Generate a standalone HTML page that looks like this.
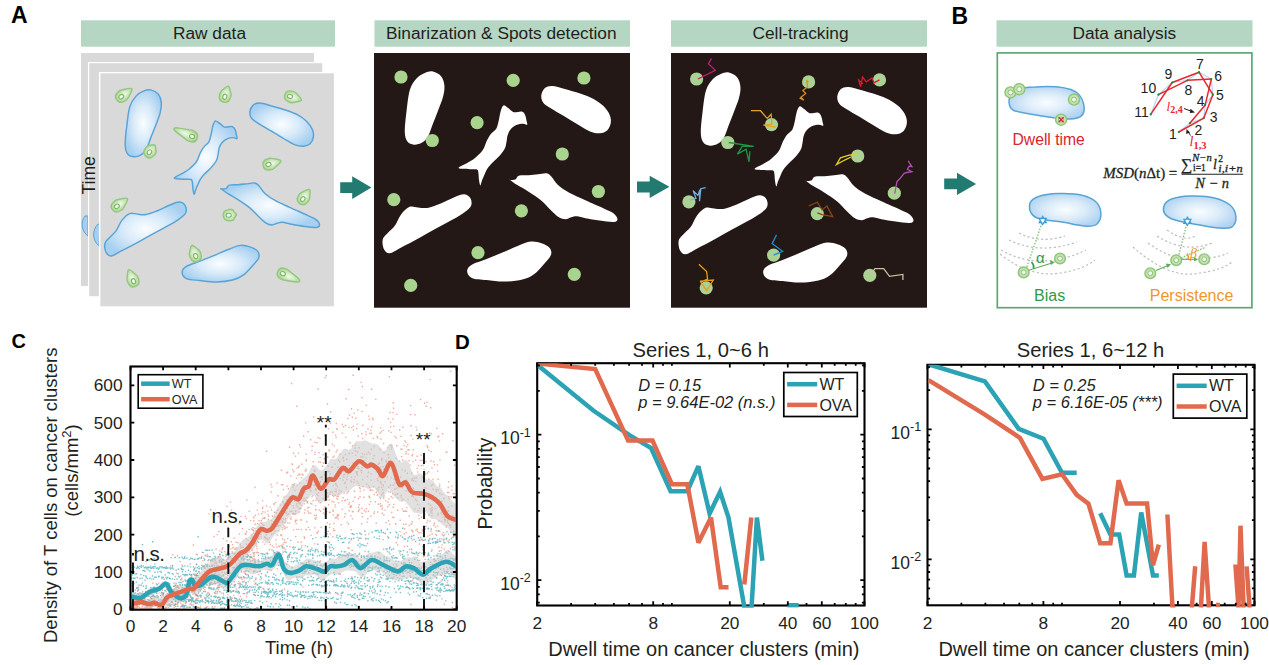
<!DOCTYPE html>
<html><head><meta charset="utf-8"><style>
html,body{margin:0;padding:0;background:#fff;width:1269px;height:665px;overflow:hidden}
svg{display:block}
</style></head><body>
<svg width="1269" height="665" viewBox="0 0 1269 665" font-family="'Liberation Sans', sans-serif">
<rect width="1269" height="665" fill="#fff"/>
<text x="11" y="22.5" font-size="23" font-weight="bold" fill="#000">A</text>
<text x="951.5" y="23.5" font-size="23" font-weight="bold" fill="#000">B</text>
<rect x="81" y="20.3" width="254" height="26.4" fill="#b4d6c2"/>
<text x="209.5" y="38.6" font-size="17.3" text-anchor="middle" fill="#231f20">Raw data</text>
<rect x="374.5" y="20.3" width="255.5" height="26.4" fill="#b4d6c2"/>
<text x="501.25" y="38.6" font-size="17.3" text-anchor="middle" fill="#231f20">Binarization &amp; Spots detection</text>
<rect x="671" y="20.3" width="256" height="26.4" fill="#b4d6c2"/>
<text x="800.5" y="38.6" font-size="17.3" text-anchor="middle" fill="#231f20">Cell-tracking</text>
<rect x="996.5" y="20.3" width="256.0" height="26.4" fill="#b4d6c2"/>
<text x="1124.3" y="38.6" font-size="17.3" text-anchor="middle" fill="#231f20">Data analysis</text>
<rect x="81" y="53" width="233" height="233" fill="#d9d9d9"/>
<path d="M85,216 C80,222 82,232 88,236 L88,216 Z" fill="#a9cdef" stroke="#5aa5d6" stroke-width="1"/>
<rect x="88" y="62" width="234.5" height="234.5" fill="#fff"/>
<rect x="89.2" y="63.2" width="233" height="233" fill="#d9d9d9"/>
<path d="M98,224 C92,230 92,240 99,246 L100,224 Z" fill="#a9cdef" stroke="#5aa5d6" stroke-width="1"/>
<rect x="98.9" y="72" width="235.5" height="235" fill="#fff"/>
<rect x="100.4" y="73.3" width="233.5" height="233" fill="#d9d9d9"/>
<defs><radialGradient id="cg" cx="50%" cy="50%" r="55%"><stop offset="0" stop-color="#fafdff"/><stop offset="0.5" stop-color="#d8eaf9"/><stop offset="1" stop-color="#a6cff0"/></radialGradient><radialGradient id="tg" cx="50%" cy="50%" r="55%"><stop offset="0" stop-color="#f2f9ec"/><stop offset="1" stop-color="#a9d58f"/></radialGradient><clipPath id="f3clip"><rect x="100.4" y="73.3" width="233.5" height="233"/></clipPath></defs>
<g clip-path="url(#f3clip)"><g transform="translate(97,73) scale(0.914)">
<path d="M58.9,18.5 C61.6,19.1 65.2,20.9 67.1,23.3 C69.0,25.7 70.1,29.3 70.4,32.7 C70.7,36.1 70.1,39.5 69.1,43.6 C68.1,47.7 66.0,52.6 64.3,57.1 C62.6,61.6 60.6,66.4 58.9,70.7 C57.2,75.0 56.0,79.8 54.2,82.9 C52.4,86.1 50.5,88.1 48.1,89.6 C45.7,91.1 42.5,91.9 40.0,91.7 C37.5,91.5 34.7,90.5 33.2,88.3 C31.7,86.1 30.9,83.8 30.8,78.8 C30.7,73.8 31.6,65.5 32.5,58.5 C33.4,51.5 34.2,42.3 35.9,36.8 C37.6,31.3 40.2,28.1 42.7,25.3 C45.2,22.5 48.1,21.0 50.8,19.9 C53.5,18.8 56.2,17.9 58.9,18.5 Z" fill="url(#cg)" stroke="#58a4d6" stroke-width="1.6"/>
<path d="M167.3,42.3 C167.6,39.9 169.1,36.7 170.9,35.1 C172.7,33.5 174.8,32.8 178.1,32.9 C181.4,33.0 186.1,34.7 190.8,36.0 C195.5,37.3 201.3,38.9 206.1,40.5 C210.9,42.1 215.7,43.8 219.6,45.9 C223.5,48.0 226.8,50.4 229.5,53.1 C232.2,55.8 234.6,59.3 235.8,62.2 C237.0,65.1 237.1,67.8 236.7,70.3 C236.2,72.8 234.9,75.8 233.1,77.5 C231.3,79.2 228.8,80.0 225.9,80.2 C223.1,80.4 219.8,79.9 216.0,78.4 C212.2,76.9 207.8,73.8 203.4,71.2 C199.1,68.7 194.4,65.8 189.9,63.1 C185.4,60.4 179.8,57.3 176.3,55.0 C172.8,52.7 170.6,51.6 169.1,49.5 C167.6,47.4 167.0,44.7 167.3,42.3 Z" fill="url(#cg)" stroke="#58a4d6" stroke-width="1.6"/>
<path d="M129.5,52.4 C130.7,52.0 132.5,54.0 134.2,55.1 C135.9,56.2 137.3,58.6 139.6,59.2 C141.8,59.8 145.8,58.0 147.7,58.5 C149.6,59.0 150.3,60.3 151.1,61.9 C151.9,63.5 152.3,66.3 152.6,68.0 C152.9,69.7 153.7,71.3 153.1,71.8 C152.5,72.2 150.9,70.7 149.1,70.7 C147.3,70.7 144.3,71.1 142.3,72.0 C140.3,72.9 138.4,74.4 136.9,76.1 C135.4,77.8 134.3,80.0 133.6,82.2 C132.9,84.4 133.0,86.8 132.5,89.0 C132.0,91.2 132.0,93.2 130.7,95.7 C129.4,98.2 126.8,101.3 124.6,103.8 C122.4,106.3 119.5,108.6 117.6,110.6 C115.7,112.6 114.5,114.0 113.2,116.0 C111.9,118.0 111.0,120.6 110.0,122.8 C109.0,125.0 108.1,127.4 107.5,129.0 C106.9,130.6 106.7,132.8 106.3,132.5 C105.9,132.2 105.3,129.1 105.0,127.0 C104.7,124.9 104.7,121.8 104.4,120.0 C104.1,118.2 104.3,117.1 103.0,116.5 C101.7,115.9 98.8,116.3 96.3,116.2 C93.8,116.1 90.0,116.0 88.0,115.8 C86.0,115.6 84.5,115.5 84.5,115.0 C84.5,114.5 86.4,113.5 88.0,112.6 C89.6,111.7 91.8,110.8 94.0,109.5 C96.2,108.2 98.5,107.1 101.0,105.0 C103.5,102.9 106.8,100.0 108.8,97.1 C110.8,94.2 111.5,90.3 112.9,87.6 C114.3,84.9 115.4,82.8 117.0,80.8 C118.6,78.8 121.1,77.7 122.4,75.4 C123.7,73.2 124.1,70.2 124.8,67.3 C125.5,64.4 126.0,60.3 126.8,57.8 C127.6,55.3 128.3,52.8 129.5,52.4 Z" fill="url(#cg)" stroke="#58a4d6" stroke-width="1.6"/>
<path d="M136.2,126.9 C135.0,126.0 135.3,127.0 136.2,126.9 C137.1,126.8 140.0,127.2 141.4,126.5 C142.8,125.8 142.5,123.4 144.7,122.7 C146.9,122.0 151.4,122.4 154.6,122.2 C157.8,122.0 161.1,121.6 164.1,121.3 C167.1,121.0 170.4,119.9 172.6,120.3 C174.8,120.7 175.4,121.6 177.3,123.6 C179.2,125.6 181.0,129.4 184.0,132.1 C187.0,134.8 190.7,137.2 195.3,139.7 C199.9,142.2 205.6,144.6 211.4,147.3 C217.2,150.0 225.6,153.6 230.3,155.8 C235.0,158.0 237.5,158.8 239.7,160.5 C241.9,162.2 243.5,164.8 243.5,166.2 C243.5,167.6 242.7,168.8 239.7,169.0 C236.7,169.2 230.3,168.2 225.6,167.6 C220.9,167.0 215.2,165.9 211.4,165.2 C207.6,164.5 205.3,163.5 202.9,163.3 C200.5,163.2 199.1,163.8 197.2,164.3 C195.3,164.8 193.6,166.2 191.5,166.2 C189.4,166.2 187.4,165.9 184.9,164.3 C182.4,162.7 179.4,159.5 176.4,156.7 C173.4,153.9 170.5,150.3 166.9,147.3 C163.3,144.3 158.5,141.2 154.6,138.7 C150.7,136.2 146.4,134.1 143.3,132.1 C140.2,130.1 137.4,127.8 136.2,126.9 Z" fill="url(#cg)" stroke="#58a4d6" stroke-width="1.6"/>
<path d="M8.7,186.5 C9.3,183.9 11.5,182.5 13.5,180.2 C15.5,177.9 18.5,176.0 20.8,172.8 C23.1,169.6 24.7,164.4 27.2,161.2 C29.7,158.0 32.8,154.9 35.6,153.8 C38.4,152.7 41.0,154.2 44.0,154.4 C47.0,154.6 49.8,155.5 53.5,154.9 C57.2,154.3 61.7,152.4 66.1,150.7 C70.5,148.9 75.8,146.0 79.8,144.4 C83.8,142.8 87.5,141.0 90.3,141.2 C93.1,141.4 95.5,143.3 96.6,145.4 C97.6,147.5 98.3,151.0 96.6,153.8 C94.8,156.6 91.0,159.1 86.1,162.3 C81.2,165.5 73.9,169.1 67.2,172.8 C60.5,176.5 52.8,180.8 46.1,184.4 C39.4,188.0 32.3,191.8 27.2,194.4 C22.1,197.0 18.5,199.9 15.6,200.2 C12.7,200.4 11.0,198.2 9.8,195.9 C8.7,193.6 8.1,189.1 8.7,186.5 Z" fill="url(#cg)" stroke="#58a4d6" stroke-width="1.6"/>
<path d="M93.1,218.1 C93.1,215.9 94.5,213.7 97.8,211.7 C101.0,209.7 107.5,207.9 112.6,205.9 C117.7,203.9 123.1,201.8 128.4,199.6 C133.7,197.4 139.5,194.6 144.2,192.8 C148.9,191.0 153.0,189.0 156.8,188.6 C160.7,188.2 164.2,189.1 167.3,190.2 C170.5,191.2 174.1,192.9 175.7,194.9 C177.3,196.9 177.9,199.5 176.8,202.3 C175.8,205.1 172.2,208.5 169.4,211.7 C166.6,214.8 163.5,218.7 160.0,221.2 C156.5,223.7 153.3,225.3 148.4,226.5 C143.5,227.7 136.5,228.5 130.5,228.6 C124.5,228.7 118.0,227.6 112.6,227.0 C107.1,226.4 101.0,226.4 97.8,224.9 C94.5,223.4 93.1,220.3 93.1,218.1 Z" fill="url(#cg)" stroke="#58a4d6" stroke-width="1.6"/>
</g>
<g transform="translate(121.5,96.5) rotate(-36.8)"><path d="M12.9,0 C12.9,1.6 9.9,2.4 4.5,5 C3,5.8 1,5.8 0,5.6 C-3.6,5.4 -5.8,3.2 -5.8,0 C-5.8,-3.2 -3.6,-5.4 0,-5.6 C1,-5.8 3,-5.8 4.5,-5 C9.9,-2.4 12.9,-1.6 12.9,0 Z" fill="url(#tg)" stroke="#93c77f" stroke-width="1.4"/><ellipse cx="-0.3" cy="0" rx="2.6" ry="2" fill="#f2f9ee" stroke="#7cb568" stroke-width="1.1"/></g>
<g transform="translate(224.9,96.5) rotate(-71.6)"><path d="M10.9,0 C10.9,1.6 7.9,2.4 4.5,5 C3,5.8 1,5.8 0,5.6 C-3.6,5.4 -5.8,3.2 -5.8,0 C-5.8,-3.2 -3.6,-5.4 0,-5.6 C1,-5.8 3,-5.8 4.5,-5 C7.9,-2.4 10.9,-1.6 10.9,0 Z" fill="url(#tg)" stroke="#93c77f" stroke-width="1.4"/><ellipse cx="-0.3" cy="0" rx="2.6" ry="2" fill="#f2f9ee" stroke="#7cb568" stroke-width="1.1"/></g>
<g transform="translate(290.3,96.5) rotate(17.6)"><path d="M11.7,0 C11.7,1.6 8.7,2.4 4.5,5 C3,5.8 1,5.8 0,5.6 C-3.6,5.4 -5.8,3.2 -5.8,0 C-5.8,-3.2 -3.6,-5.4 0,-5.6 C1,-5.8 3,-5.8 4.5,-5 C8.7,-2.4 11.7,-1.6 11.7,0 Z" fill="url(#tg)" stroke="#93c77f" stroke-width="1.4"/><ellipse cx="-0.3" cy="0" rx="2.6" ry="2" fill="#f2f9ee" stroke="#7cb568" stroke-width="1.1"/></g>
<g transform="translate(191.8,136.3) rotate(-156.6)"><path d="M19.4,0 C19.4,1.6 16.4,2.4 4.5,5 C3,5.8 1,5.8 0,5.6 C-3.6,5.4 -5.8,3.2 -5.8,0 C-5.8,-3.2 -3.6,-5.4 0,-5.6 C1,-5.8 3,-5.8 4.5,-5 C16.4,-2.4 19.4,-1.6 19.4,0 Z" fill="url(#tg)" stroke="#93c77f" stroke-width="1.4"/><ellipse cx="-0.3" cy="0" rx="2.6" ry="2" fill="#f2f9ee" stroke="#7cb568" stroke-width="1.1"/></g>
<g transform="translate(149.6,152) rotate(-52.9)"><path d="M8.8,0 C8.8,1.6 5.8,2.4 4.5,5 C3,5.8 1,5.8 0,5.6 C-3.6,5.4 -5.8,3.2 -5.8,0 C-5.8,-3.2 -3.6,-5.4 0,-5.6 C1,-5.8 3,-5.8 4.5,-5 C5.8,-2.4 8.8,-1.6 8.8,0 Z" fill="url(#tg)" stroke="#93c77f" stroke-width="1.4"/><ellipse cx="-0.3" cy="0" rx="2.6" ry="2" fill="#f2f9ee" stroke="#7cb568" stroke-width="1.1"/></g>
<g transform="translate(268.8,164.4) rotate(-15.9)"><path d="M12.6,0 C12.6,1.6 9.6,2.4 4.5,5 C3,5.8 1,5.8 0,5.6 C-3.6,5.4 -5.8,3.2 -5.8,0 C-5.8,-3.2 -3.6,-5.4 0,-5.6 C1,-5.8 3,-5.8 4.5,-5 C9.6,-2.4 12.6,-1.6 12.6,0 Z" fill="url(#tg)" stroke="#93c77f" stroke-width="1.4"/><ellipse cx="-0.3" cy="0" rx="2.6" ry="2" fill="#f2f9ee" stroke="#7cb568" stroke-width="1.1"/></g>
<g transform="translate(117.1,206.2) rotate(-36.1)"><path d="M12.9,0 C12.9,1.6 9.9,2.4 4.5,5 C3,5.8 1,5.8 0,5.6 C-3.6,5.4 -5.8,3.2 -5.8,0 C-5.8,-3.2 -3.6,-5.4 0,-5.6 C1,-5.8 3,-5.8 4.5,-5 C9.9,-2.4 12.9,-1.6 12.9,0 Z" fill="url(#tg)" stroke="#93c77f" stroke-width="1.4"/><ellipse cx="-0.3" cy="0" rx="2.6" ry="2" fill="#f2f9ee" stroke="#7cb568" stroke-width="1.1"/></g>
<g transform="translate(303,198.9) rotate(-55.0)"><path d="M11.5,0 C11.5,1.6 8.5,2.4 4.5,5 C3,5.8 1,5.8 0,5.6 C-3.6,5.4 -5.8,3.2 -5.8,0 C-5.8,-3.2 -3.6,-5.4 0,-5.6 C1,-5.8 3,-5.8 4.5,-5 C8.5,-2.4 11.5,-1.6 11.5,0 Z" fill="url(#tg)" stroke="#93c77f" stroke-width="1.4"/><ellipse cx="-0.3" cy="0" rx="2.6" ry="2" fill="#f2f9ee" stroke="#7cb568" stroke-width="1.1"/></g>
<g transform="translate(229,215.2) rotate(-5.7)"><path d="M7.5,0 C7.5,1.6 4.5,2.4 4.5,5 C3,5.8 1,5.8 0,5.6 C-3.6,5.4 -5.8,3.2 -5.8,0 C-5.8,-3.2 -3.6,-5.4 0,-5.6 C1,-5.8 3,-5.8 4.5,-5 C4.5,-2.4 7.5,-1.6 7.5,0 Z" fill="url(#tg)" stroke="#93c77f" stroke-width="1.4"/><ellipse cx="-0.3" cy="0" rx="2.6" ry="2" fill="#f2f9ee" stroke="#7cb568" stroke-width="1.1"/></g>
<g transform="translate(195.6,255.8) rotate(-109.8)"><path d="M11.1,0 C11.1,1.6 8.1,2.4 4.5,5 C3,5.8 1,5.8 0,5.6 C-3.6,5.4 -5.8,3.2 -5.8,0 C-5.8,-3.2 -3.6,-5.4 0,-5.6 C1,-5.8 3,-5.8 4.5,-5 C8.1,-2.4 11.1,-1.6 11.1,0 Z" fill="url(#tg)" stroke="#93c77f" stroke-width="1.4"/><ellipse cx="-0.3" cy="0" rx="2.6" ry="2" fill="#f2f9ee" stroke="#7cb568" stroke-width="1.1"/></g>
<g transform="translate(133.4,281) rotate(-112.6)"><path d="M12.2,0 C12.2,1.6 9.2,2.4 4.5,5 C3,5.8 1,5.8 0,5.6 C-3.6,5.4 -5.8,3.2 -5.8,0 C-5.8,-3.2 -3.6,-5.4 0,-5.6 C1,-5.8 3,-5.8 4.5,-5 C9.2,-2.4 12.2,-1.6 12.2,0 Z" fill="url(#tg)" stroke="#93c77f" stroke-width="1.4"/><ellipse cx="-0.3" cy="0" rx="2.6" ry="2" fill="#f2f9ee" stroke="#7cb568" stroke-width="1.1"/></g>
<g transform="translate(283.1,273.8) rotate(24.0)"><path d="M18.2,0 C18.2,1.6 15.2,2.4 4.5,5 C3,5.8 1,5.8 0,5.6 C-3.6,5.4 -5.8,3.2 -5.8,0 C-5.8,-3.2 -3.6,-5.4 0,-5.6 C1,-5.8 3,-5.8 4.5,-5 C15.2,-2.4 18.2,-1.6 18.2,0 Z" fill="url(#tg)" stroke="#93c77f" stroke-width="1.4"/><ellipse cx="-0.3" cy="0" rx="2.6" ry="2" fill="#f2f9ee" stroke="#7cb568" stroke-width="1.1"/></g>
</g>
<text transform="translate(94.6,194.5) rotate(-90)" font-size="17.5" fill="#231f20">Time</text>
<rect x="374" y="53" width="256" height="254.7" fill="#231816"/>
<g transform="translate(374,53)">
<path d="M58.9,18.5 C61.6,19.1 65.2,20.9 67.1,23.3 C69.0,25.7 70.1,29.3 70.4,32.7 C70.7,36.1 70.1,39.5 69.1,43.6 C68.1,47.7 66.0,52.6 64.3,57.1 C62.6,61.6 60.6,66.4 58.9,70.7 C57.2,75.0 56.0,79.8 54.2,82.9 C52.4,86.1 50.5,88.1 48.1,89.6 C45.7,91.1 42.5,91.9 40.0,91.7 C37.5,91.5 34.7,90.5 33.2,88.3 C31.7,86.1 30.9,83.8 30.8,78.8 C30.7,73.8 31.6,65.5 32.5,58.5 C33.4,51.5 34.2,42.3 35.9,36.8 C37.6,31.3 40.2,28.1 42.7,25.3 C45.2,22.5 48.1,21.0 50.8,19.9 C53.5,18.8 56.2,17.9 58.9,18.5 Z" fill="#fff"/>
<path d="M167.3,42.3 C167.6,39.9 169.1,36.7 170.9,35.1 C172.7,33.5 174.8,32.8 178.1,32.9 C181.4,33.0 186.1,34.7 190.8,36.0 C195.5,37.3 201.3,38.9 206.1,40.5 C210.9,42.1 215.7,43.8 219.6,45.9 C223.5,48.0 226.8,50.4 229.5,53.1 C232.2,55.8 234.6,59.3 235.8,62.2 C237.0,65.1 237.1,67.8 236.7,70.3 C236.2,72.8 234.9,75.8 233.1,77.5 C231.3,79.2 228.8,80.0 225.9,80.2 C223.1,80.4 219.8,79.9 216.0,78.4 C212.2,76.9 207.8,73.8 203.4,71.2 C199.1,68.7 194.4,65.8 189.9,63.1 C185.4,60.4 179.8,57.3 176.3,55.0 C172.8,52.7 170.6,51.6 169.1,49.5 C167.6,47.4 167.0,44.7 167.3,42.3 Z" fill="#fff"/>
<path d="M129.5,52.4 C130.7,52.0 132.5,54.0 134.2,55.1 C135.9,56.2 137.3,58.6 139.6,59.2 C141.8,59.8 145.8,58.0 147.7,58.5 C149.6,59.0 150.3,60.3 151.1,61.9 C151.9,63.5 152.3,66.3 152.6,68.0 C152.9,69.7 153.7,71.3 153.1,71.8 C152.5,72.2 150.9,70.7 149.1,70.7 C147.3,70.7 144.3,71.1 142.3,72.0 C140.3,72.9 138.4,74.4 136.9,76.1 C135.4,77.8 134.3,80.0 133.6,82.2 C132.9,84.4 133.0,86.8 132.5,89.0 C132.0,91.2 132.0,93.2 130.7,95.7 C129.4,98.2 126.8,101.3 124.6,103.8 C122.4,106.3 119.5,108.6 117.6,110.6 C115.7,112.6 114.5,114.0 113.2,116.0 C111.9,118.0 111.0,120.6 110.0,122.8 C109.0,125.0 108.1,127.4 107.5,129.0 C106.9,130.6 106.7,132.8 106.3,132.5 C105.9,132.2 105.3,129.1 105.0,127.0 C104.7,124.9 104.7,121.8 104.4,120.0 C104.1,118.2 104.3,117.1 103.0,116.5 C101.7,115.9 98.8,116.3 96.3,116.2 C93.8,116.1 90.0,116.0 88.0,115.8 C86.0,115.6 84.5,115.5 84.5,115.0 C84.5,114.5 86.4,113.5 88.0,112.6 C89.6,111.7 91.8,110.8 94.0,109.5 C96.2,108.2 98.5,107.1 101.0,105.0 C103.5,102.9 106.8,100.0 108.8,97.1 C110.8,94.2 111.5,90.3 112.9,87.6 C114.3,84.9 115.4,82.8 117.0,80.8 C118.6,78.8 121.1,77.7 122.4,75.4 C123.7,73.2 124.1,70.2 124.8,67.3 C125.5,64.4 126.0,60.3 126.8,57.8 C127.6,55.3 128.3,52.8 129.5,52.4 Z" fill="#fff"/>
<path d="M136.2,126.9 C135.0,126.0 135.3,127.0 136.2,126.9 C137.1,126.8 140.0,127.2 141.4,126.5 C142.8,125.8 142.5,123.4 144.7,122.7 C146.9,122.0 151.4,122.4 154.6,122.2 C157.8,122.0 161.1,121.6 164.1,121.3 C167.1,121.0 170.4,119.9 172.6,120.3 C174.8,120.7 175.4,121.6 177.3,123.6 C179.2,125.6 181.0,129.4 184.0,132.1 C187.0,134.8 190.7,137.2 195.3,139.7 C199.9,142.2 205.6,144.6 211.4,147.3 C217.2,150.0 225.6,153.6 230.3,155.8 C235.0,158.0 237.5,158.8 239.7,160.5 C241.9,162.2 243.5,164.8 243.5,166.2 C243.5,167.6 242.7,168.8 239.7,169.0 C236.7,169.2 230.3,168.2 225.6,167.6 C220.9,167.0 215.2,165.9 211.4,165.2 C207.6,164.5 205.3,163.5 202.9,163.3 C200.5,163.2 199.1,163.8 197.2,164.3 C195.3,164.8 193.6,166.2 191.5,166.2 C189.4,166.2 187.4,165.9 184.9,164.3 C182.4,162.7 179.4,159.5 176.4,156.7 C173.4,153.9 170.5,150.3 166.9,147.3 C163.3,144.3 158.5,141.2 154.6,138.7 C150.7,136.2 146.4,134.1 143.3,132.1 C140.2,130.1 137.4,127.8 136.2,126.9 Z" fill="#fff"/>
<path d="M8.7,186.5 C9.3,183.9 11.5,182.5 13.5,180.2 C15.5,177.9 18.5,176.0 20.8,172.8 C23.1,169.6 24.7,164.4 27.2,161.2 C29.7,158.0 32.8,154.9 35.6,153.8 C38.4,152.7 41.0,154.2 44.0,154.4 C47.0,154.6 49.8,155.5 53.5,154.9 C57.2,154.3 61.7,152.4 66.1,150.7 C70.5,148.9 75.8,146.0 79.8,144.4 C83.8,142.8 87.5,141.0 90.3,141.2 C93.1,141.4 95.5,143.3 96.6,145.4 C97.6,147.5 98.3,151.0 96.6,153.8 C94.8,156.6 91.0,159.1 86.1,162.3 C81.2,165.5 73.9,169.1 67.2,172.8 C60.5,176.5 52.8,180.8 46.1,184.4 C39.4,188.0 32.3,191.8 27.2,194.4 C22.1,197.0 18.5,199.9 15.6,200.2 C12.7,200.4 11.0,198.2 9.8,195.9 C8.7,193.6 8.1,189.1 8.7,186.5 Z" fill="#fff"/>
<path d="M93.1,218.1 C93.1,215.9 94.5,213.7 97.8,211.7 C101.0,209.7 107.5,207.9 112.6,205.9 C117.7,203.9 123.1,201.8 128.4,199.6 C133.7,197.4 139.5,194.6 144.2,192.8 C148.9,191.0 153.0,189.0 156.8,188.6 C160.7,188.2 164.2,189.1 167.3,190.2 C170.5,191.2 174.1,192.9 175.7,194.9 C177.3,196.9 177.9,199.5 176.8,202.3 C175.8,205.1 172.2,208.5 169.4,211.7 C166.6,214.8 163.5,218.7 160.0,221.2 C156.5,223.7 153.3,225.3 148.4,226.5 C143.5,227.7 136.5,228.5 130.5,228.6 C124.5,228.7 118.0,227.6 112.6,227.0 C107.1,226.4 101.0,226.4 97.8,224.9 C94.5,223.4 93.1,220.3 93.1,218.1 Z" fill="#fff"/>
</g>
<g transform="translate(374,53)">
<circle cx="27" cy="24" r="6.6" fill="#a8d48e"/>
<circle cx="139.2" cy="27.4" r="6.6" fill="#a8d48e"/>
<circle cx="209.9" cy="25" r="6.6" fill="#a8d48e"/>
<circle cx="103.1" cy="69.7" r="6.6" fill="#a8d48e"/>
<circle cx="58.3" cy="87.5" r="6.6" fill="#a8d48e"/>
<circle cx="188.3" cy="101" r="6.6" fill="#a8d48e"/>
<circle cx="19.8" cy="146.7" r="6.6" fill="#a8d48e"/>
<circle cx="224.4" cy="138.5" r="6.6" fill="#a8d48e"/>
<circle cx="147.4" cy="157.8" r="6.6" fill="#a8d48e"/>
<circle cx="104" cy="199.6" r="6.6" fill="#a8d48e"/>
<circle cx="36.7" cy="232.4" r="6.6" fill="#a8d48e"/>
<circle cx="200.3" cy="221.3" r="6.6" fill="#a8d48e"/>
</g>
<rect x="671" y="53" width="256" height="254.7" fill="#231816"/>
<g transform="translate(670,54)">
<path d="M58.9,18.5 C61.6,19.1 65.2,20.9 67.1,23.3 C69.0,25.7 70.1,29.3 70.4,32.7 C70.7,36.1 70.1,39.5 69.1,43.6 C68.1,47.7 66.0,52.6 64.3,57.1 C62.6,61.6 60.6,66.4 58.9,70.7 C57.2,75.0 56.0,79.8 54.2,82.9 C52.4,86.1 50.5,88.1 48.1,89.6 C45.7,91.1 42.5,91.9 40.0,91.7 C37.5,91.5 34.7,90.5 33.2,88.3 C31.7,86.1 30.9,83.8 30.8,78.8 C30.7,73.8 31.6,65.5 32.5,58.5 C33.4,51.5 34.2,42.3 35.9,36.8 C37.6,31.3 40.2,28.1 42.7,25.3 C45.2,22.5 48.1,21.0 50.8,19.9 C53.5,18.8 56.2,17.9 58.9,18.5 Z" fill="#fff"/>
<path d="M167.3,42.3 C167.6,39.9 169.1,36.7 170.9,35.1 C172.7,33.5 174.8,32.8 178.1,32.9 C181.4,33.0 186.1,34.7 190.8,36.0 C195.5,37.3 201.3,38.9 206.1,40.5 C210.9,42.1 215.7,43.8 219.6,45.9 C223.5,48.0 226.8,50.4 229.5,53.1 C232.2,55.8 234.6,59.3 235.8,62.2 C237.0,65.1 237.1,67.8 236.7,70.3 C236.2,72.8 234.9,75.8 233.1,77.5 C231.3,79.2 228.8,80.0 225.9,80.2 C223.1,80.4 219.8,79.9 216.0,78.4 C212.2,76.9 207.8,73.8 203.4,71.2 C199.1,68.7 194.4,65.8 189.9,63.1 C185.4,60.4 179.8,57.3 176.3,55.0 C172.8,52.7 170.6,51.6 169.1,49.5 C167.6,47.4 167.0,44.7 167.3,42.3 Z" fill="#fff"/>
<path d="M129.5,52.4 C130.7,52.0 132.5,54.0 134.2,55.1 C135.9,56.2 137.3,58.6 139.6,59.2 C141.8,59.8 145.8,58.0 147.7,58.5 C149.6,59.0 150.3,60.3 151.1,61.9 C151.9,63.5 152.3,66.3 152.6,68.0 C152.9,69.7 153.7,71.3 153.1,71.8 C152.5,72.2 150.9,70.7 149.1,70.7 C147.3,70.7 144.3,71.1 142.3,72.0 C140.3,72.9 138.4,74.4 136.9,76.1 C135.4,77.8 134.3,80.0 133.6,82.2 C132.9,84.4 133.0,86.8 132.5,89.0 C132.0,91.2 132.0,93.2 130.7,95.7 C129.4,98.2 126.8,101.3 124.6,103.8 C122.4,106.3 119.5,108.6 117.6,110.6 C115.7,112.6 114.5,114.0 113.2,116.0 C111.9,118.0 111.0,120.6 110.0,122.8 C109.0,125.0 108.1,127.4 107.5,129.0 C106.9,130.6 106.7,132.8 106.3,132.5 C105.9,132.2 105.3,129.1 105.0,127.0 C104.7,124.9 104.7,121.8 104.4,120.0 C104.1,118.2 104.3,117.1 103.0,116.5 C101.7,115.9 98.8,116.3 96.3,116.2 C93.8,116.1 90.0,116.0 88.0,115.8 C86.0,115.6 84.5,115.5 84.5,115.0 C84.5,114.5 86.4,113.5 88.0,112.6 C89.6,111.7 91.8,110.8 94.0,109.5 C96.2,108.2 98.5,107.1 101.0,105.0 C103.5,102.9 106.8,100.0 108.8,97.1 C110.8,94.2 111.5,90.3 112.9,87.6 C114.3,84.9 115.4,82.8 117.0,80.8 C118.6,78.8 121.1,77.7 122.4,75.4 C123.7,73.2 124.1,70.2 124.8,67.3 C125.5,64.4 126.0,60.3 126.8,57.8 C127.6,55.3 128.3,52.8 129.5,52.4 Z" fill="#fff"/>
<path d="M136.2,126.9 C135.0,126.0 135.3,127.0 136.2,126.9 C137.1,126.8 140.0,127.2 141.4,126.5 C142.8,125.8 142.5,123.4 144.7,122.7 C146.9,122.0 151.4,122.4 154.6,122.2 C157.8,122.0 161.1,121.6 164.1,121.3 C167.1,121.0 170.4,119.9 172.6,120.3 C174.8,120.7 175.4,121.6 177.3,123.6 C179.2,125.6 181.0,129.4 184.0,132.1 C187.0,134.8 190.7,137.2 195.3,139.7 C199.9,142.2 205.6,144.6 211.4,147.3 C217.2,150.0 225.6,153.6 230.3,155.8 C235.0,158.0 237.5,158.8 239.7,160.5 C241.9,162.2 243.5,164.8 243.5,166.2 C243.5,167.6 242.7,168.8 239.7,169.0 C236.7,169.2 230.3,168.2 225.6,167.6 C220.9,167.0 215.2,165.9 211.4,165.2 C207.6,164.5 205.3,163.5 202.9,163.3 C200.5,163.2 199.1,163.8 197.2,164.3 C195.3,164.8 193.6,166.2 191.5,166.2 C189.4,166.2 187.4,165.9 184.9,164.3 C182.4,162.7 179.4,159.5 176.4,156.7 C173.4,153.9 170.5,150.3 166.9,147.3 C163.3,144.3 158.5,141.2 154.6,138.7 C150.7,136.2 146.4,134.1 143.3,132.1 C140.2,130.1 137.4,127.8 136.2,126.9 Z" fill="#fff"/>
<path d="M8.7,186.5 C9.3,183.9 11.5,182.5 13.5,180.2 C15.5,177.9 18.5,176.0 20.8,172.8 C23.1,169.6 24.7,164.4 27.2,161.2 C29.7,158.0 32.8,154.9 35.6,153.8 C38.4,152.7 41.0,154.2 44.0,154.4 C47.0,154.6 49.8,155.5 53.5,154.9 C57.2,154.3 61.7,152.4 66.1,150.7 C70.5,148.9 75.8,146.0 79.8,144.4 C83.8,142.8 87.5,141.0 90.3,141.2 C93.1,141.4 95.5,143.3 96.6,145.4 C97.6,147.5 98.3,151.0 96.6,153.8 C94.8,156.6 91.0,159.1 86.1,162.3 C81.2,165.5 73.9,169.1 67.2,172.8 C60.5,176.5 52.8,180.8 46.1,184.4 C39.4,188.0 32.3,191.8 27.2,194.4 C22.1,197.0 18.5,199.9 15.6,200.2 C12.7,200.4 11.0,198.2 9.8,195.9 C8.7,193.6 8.1,189.1 8.7,186.5 Z" fill="#fff"/>
<path d="M93.1,218.1 C93.1,215.9 94.5,213.7 97.8,211.7 C101.0,209.7 107.5,207.9 112.6,205.9 C117.7,203.9 123.1,201.8 128.4,199.6 C133.7,197.4 139.5,194.6 144.2,192.8 C148.9,191.0 153.0,189.0 156.8,188.6 C160.7,188.2 164.2,189.1 167.3,190.2 C170.5,191.2 174.1,192.9 175.7,194.9 C177.3,196.9 177.9,199.5 176.8,202.3 C175.8,205.1 172.2,208.5 169.4,211.7 C166.6,214.8 163.5,218.7 160.0,221.2 C156.5,223.7 153.3,225.3 148.4,226.5 C143.5,227.7 136.5,228.5 130.5,228.6 C124.5,228.7 118.0,227.6 112.6,227.0 C107.1,226.4 101.0,226.4 97.8,224.9 C94.5,223.4 93.1,220.3 93.1,218.1 Z" fill="#fff"/>
</g>
<g transform="translate(671,53)">
<circle cx="25.6" cy="26" r="6.6" fill="#b3dc9b" fill-opacity="0.95"/>
<circle cx="137.6" cy="28.9" r="6.6" fill="#b3dc9b" fill-opacity="0.95"/>
<circle cx="208.5" cy="26.9" r="6.6" fill="#b3dc9b" fill-opacity="0.95"/>
<circle cx="100.5" cy="71.6" r="6.6" fill="#b3dc9b" fill-opacity="0.95"/>
<circle cx="56.8" cy="89.5" r="6.6" fill="#b3dc9b" fill-opacity="0.95"/>
<circle cx="186.7" cy="103" r="6.6" fill="#b3dc9b" fill-opacity="0.95"/>
<circle cx="17.9" cy="148.8" r="6.6" fill="#b3dc9b" fill-opacity="0.95"/>
<circle cx="223.3" cy="140.2" r="6.6" fill="#b3dc9b" fill-opacity="0.95"/>
<circle cx="146.3" cy="160.7" r="6.6" fill="#b3dc9b" fill-opacity="0.95"/>
<circle cx="102.6" cy="202.1" r="6.6" fill="#b3dc9b" fill-opacity="0.95"/>
<circle cx="35.2" cy="234.8" r="6.6" fill="#b3dc9b" fill-opacity="0.95"/>
<circle cx="198.8" cy="222.3" r="6.6" fill="#b3dc9b" fill-opacity="0.95"/>
<polyline points="26.9,26.0 44.3,17.3 37.5,10.6 40.4,5.4" fill="none" stroke="#c8187a" stroke-width="1.3" stroke-linejoin="miter"/>
<polyline points="79.9,57.7 89.5,57.7 96.2,65.4 100.1,61.2 101.0,71.2 92.4,72.2 104.9,74.1" fill="none" stroke="#e8a020" stroke-width="1.3" stroke-linejoin="miter"/>
<polyline points="57.7,89.5 82.8,93.4 71.2,93.4 66.4,101.1 75.1,96.2 78.0,108.8 78.9,98.2" fill="none" stroke="#1a9a40" stroke-width="1.3" stroke-linejoin="miter"/>
<polyline points="137.6,28.9 135.7,27.9 136.7,33.7 131.8,37.5 134.7,40.4 129.9,44.3 132.8,47.2 128.5,45.0" fill="none" stroke="#d89020" stroke-width="1.3" stroke-linejoin="miter"/>
<polyline points="208.5,26.9 203.0,29.8 201.1,25.0 195.4,28.9 191.5,24.1 189.6,33.7 187.7,27.0 192.0,31.0" fill="none" stroke="#d81830" stroke-width="1.3" stroke-linejoin="miter"/>
<polyline points="186.7,102.0 179.0,102.0 169.4,104.9 165.5,111.6 174.2,106.8 180.0,104.0" fill="none" stroke="#e0d020" stroke-width="1.3" stroke-linejoin="miter"/>
<polyline points="223.7,140.7 226.0,128.5 228.7,125.8 233.2,120.4 235.9,119.5 240.9,118.6 236.4,116.3 238.2,113.2 240.9,113.6 238.2,109.6 237.3,107.8" fill="none" stroke="#b050b0" stroke-width="1.3" stroke-linejoin="miter"/>
<polyline points="19.2,147.2 25.0,145.3 22.1,137.6 26.9,142.4 28.9,136.7 28.5,148.2 29.8,135.7 34.6,134.7" fill="none" stroke="#70b0e0" stroke-width="1.3" stroke-linejoin="miter"/>
<polyline points="102.6,202.1 111.6,198.3 101.1,190.6 105.5,181.9" fill="none" stroke="#1890d0" stroke-width="1.3" stroke-linejoin="miter"/>
<polyline points="27.9,211.2 35.6,218.5 36.6,226.2 29.8,229.1 35.6,237.7 40.4,230.0 42.3,227.1 28.9,228.1" fill="none" stroke="#e8a010" stroke-width="1.3" stroke-linejoin="miter"/>
<polyline points="137.6,153.0 146.3,149.2 151.1,156.9 155.9,153.0 161.7,163.6 151.1,161.7 146.3,159.8" fill="none" stroke="#8b4513" stroke-width="1.3" stroke-linejoin="miter"/>
<polyline points="198.8,222.3 204.0,215.6 212.7,215.6 218.5,223.3 231.9,221.4 231.9,227.1" fill="none" stroke="#c8c0a0" stroke-width="1.3" stroke-linejoin="miter"/>
</g>
<polygon points="340.2,182.2 352.2,182.2 352.2,176.2 371.4,187.5 352.2,198.9 352.2,193.1 340.2,193.1" fill="#237a70"/>
<polygon points="637,181.4 649.7,181.4 649.7,175.8 669.4,186.8 649.7,198 649.7,192.5 637,192.5" fill="#237a70"/>
<polygon points="944.2,178.4 957,178.4 957,172.8 976.1,183.9 957,195 957,189.3 944.2,189.3" fill="#237a70"/>
<rect x="997.3" y="52.9" width="254.6" height="254.8" fill="none" stroke="#5ea77a" stroke-width="1.7"/>
<defs><radialGradient id="tg2" cx="50%" cy="50%" r="50%"><stop offset="0" stop-color="#e8f4df"/><stop offset="1" stop-color="#b2d99a"/></radialGradient><radialGradient id="cg2" cx="50%" cy="50%" r="55%"><stop offset="0" stop-color="#fafdff"/><stop offset="0.5" stop-color="#dcecf9"/><stop offset="1" stop-color="#b0d3f1"/></radialGradient></defs>
<path d="M1010,96 C1012,89 1020,87.5 1035,87 C1050,86 1066,86 1076,92 C1083,97 1086,108 1083,114 C1080,119 1072,120 1060,118.5 C1045,117 1025,113 1015,111 C1009,109 1008,102 1010,96 Z" fill="url(#cg2)" stroke="#58a4d6" stroke-width="1.5"/>
<circle cx="1010.5" cy="92.4" r="5.6" fill="url(#tg2)" stroke="#8cc476" stroke-width="1.3"/><circle cx="1010.5" cy="92.4" r="2.52" fill="#eef7e8" stroke="#86b873" stroke-width="0.9"/>
<circle cx="1019.3" cy="89.2" r="5.6" fill="url(#tg2)" stroke="#8cc476" stroke-width="1.3"/><circle cx="1019.3" cy="89.2" r="2.52" fill="#eef7e8" stroke="#86b873" stroke-width="0.9"/>
<circle cx="1074" cy="99.6" r="5.6" fill="url(#tg2)" stroke="#8cc476" stroke-width="1.3"/><circle cx="1074" cy="99.6" r="2.52" fill="#eef7e8" stroke="#86b873" stroke-width="0.9"/>
<circle cx="1061.1" cy="119.7" r="5.6" fill="url(#tg2)" stroke="#8cc476" stroke-width="1.3"/><circle cx="1061.1" cy="119.7" r="2.52" fill="#eef7e8" stroke="#86b873" stroke-width="0.9"/><path d="M1058.6,117.2 L1063.6,122.2 M1063.6,117.2 L1058.6,122.2" stroke="#d8262e" stroke-width="1.4"/>
<text x="1012.5" y="144.6" font-size="15.7" fill="#d8262e">Dwell time</text>
<polyline points="1178.8,132 1189.8,123.3 1203.7,118.2 1205.2,104.9 1212.9,94.7 1211.3,79.1 1199,72.2 1187.5,80.3 1172.2,82.5 1158.4,94.7 1150.7,114.4" fill="none" stroke="#b8d4f0" stroke-width="1.2"/>
<line x1="1178.8" y1="132" x2="1203.7" y2="118.2" stroke="#e8262e" stroke-width="1.5"/>
<line x1="1189.8" y1="123.3" x2="1205.2" y2="104.9" stroke="#e8262e" stroke-width="1.5"/>
<line x1="1203.7" y1="118.2" x2="1212.9" y2="94.7" stroke="#e8262e" stroke-width="1.5"/>
<line x1="1205.2" y1="104.9" x2="1211.3" y2="79.1" stroke="#e8262e" stroke-width="1.5"/>
<line x1="1212.9" y1="94.7" x2="1199" y2="72.2" stroke="#e8262e" stroke-width="1.5"/>
<line x1="1211.3" y1="79.1" x2="1187.5" y2="80.3" stroke="#e8262e" stroke-width="1.5"/>
<line x1="1199" y1="72.2" x2="1172.2" y2="82.5" stroke="#e8262e" stroke-width="1.5"/>
<line x1="1187.5" y1="80.3" x2="1158.4" y2="94.7" stroke="#e8262e" stroke-width="1.5"/>
<line x1="1172.2" y1="82.5" x2="1150.7" y2="114.4" stroke="#e8262e" stroke-width="1.5"/>
<circle cx="1178.8" cy="132" r="1.1" fill="#1a8a3a"/>
<circle cx="1189.8" cy="123.3" r="1.1" fill="#1a8a3a"/>
<circle cx="1203.7" cy="118.2" r="1.1" fill="#1a8a3a"/>
<circle cx="1205.2" cy="104.9" r="1.1" fill="#1a8a3a"/>
<circle cx="1212.9" cy="94.7" r="1.1" fill="#1a8a3a"/>
<circle cx="1211.3" cy="79.1" r="1.1" fill="#1a8a3a"/>
<circle cx="1199" cy="72.2" r="1.1" fill="#1a8a3a"/>
<circle cx="1187.5" cy="80.3" r="1.1" fill="#1a8a3a"/>
<circle cx="1172.2" cy="82.5" r="1.1" fill="#1a8a3a"/>
<circle cx="1158.4" cy="94.7" r="1.1" fill="#1a8a3a"/>
<circle cx="1150.7" cy="114.4" r="1.1" fill="#1a8a3a"/>
<text x="1199.8" y="68.7" font-size="14" text-anchor="middle" fill="#231f20">7</text>
<text x="1218.2" y="81" font-size="14" text-anchor="middle" fill="#231f20">6</text>
<text x="1168.4" y="78.7" font-size="14" text-anchor="middle" fill="#231f20">9</text>
<text x="1148.4" y="92.5" font-size="14" text-anchor="middle" fill="#231f20">10</text>
<text x="1188.3" y="94.8" font-size="14" text-anchor="middle" fill="#231f20">8</text>
<text x="1219.8" y="100.2" font-size="14" text-anchor="middle" fill="#231f20">5</text>
<text x="1200.6" y="105.6" font-size="14" text-anchor="middle" fill="#231f20">4</text>
<text x="1141.5" y="117.1" font-size="14" text-anchor="middle" fill="#231f20">11</text>
<text x="1213.6" y="121.7" font-size="14" text-anchor="middle" fill="#231f20">3</text>
<text x="1198.3" y="134.7" font-size="14" text-anchor="middle" fill="#231f20">2</text>
<text x="1173" y="138.6" font-size="14" text-anchor="middle" fill="#231f20">1</text>
<text x="1166.5" y="110.5" font-family="Liberation Serif" font-style="italic" font-size="13" fill="#e8262e">l<tspan font-size="10" font-weight="bold" font-style="normal" dy="2.5">2,4</tspan></text>
<line x1="1184" y1="108.5" x2="1192" y2="111.5" stroke="#231f20" stroke-width="1"/><polygon points="1195,112.5 1190.5,108.8 1189.8,113" fill="#231f20"/>
<text x="1189.5" y="146" font-family="Liberation Serif" font-style="italic" font-size="14" fill="#e8262e">l<tspan font-size="10.5" font-weight="bold" font-style="normal" dy="3">1,3</tspan></text>
<line x1="1190.5" y1="135.5" x2="1188" y2="131.5" stroke="#231f20" stroke-width="1"/><polygon points="1186.5,129 1186.2,134 1190,132.5" fill="#231f20"/>
<text x="1103.3" y="178.3" font-family="Liberation Serif" stroke="#231f20" stroke-width="0.3" font-style="italic" font-size="15" fill="#231f20" textLength="74" lengthAdjust="spacingAndGlyphs">MSD<tspan font-style="normal">(</tspan>n<tspan font-style="normal">Δt) =</tspan></text>
<line x1="1181.5" y1="174.2" x2="1243.2" y2="174.2" stroke="#231f20" stroke-width="1.1"/>
<text x="1181" y="169.5" font-family="Liberation Serif" stroke="#231f20" stroke-width="0.3" font-size="16" fill="#231f20">∑</text>
<text x="1192.3" y="161.3" font-family="Liberation Serif" stroke="#231f20" stroke-width="0.3" font-style="italic" font-size="10" fill="#231f20" textLength="19.5" lengthAdjust="spacingAndGlyphs">N−n</text>
<text x="1193" y="171.3" font-family="Liberation Serif" stroke="#231f20" stroke-width="0.3" font-size="9.5" fill="#231f20">i=1</text>
<text x="1213" y="168.8" font-family="Liberation Serif" stroke="#231f20" stroke-width="0.3" font-style="italic" font-size="14" fill="#231f20">l</text>
<text x="1218.3" y="161.8" font-family="Liberation Serif" stroke="#231f20" stroke-width="0.3" font-size="9.5" fill="#231f20">2</text>
<text x="1218.3" y="171.8" font-family="Liberation Serif" stroke="#231f20" stroke-width="0.3" font-style="italic" font-size="10" fill="#231f20" textLength="24.3" lengthAdjust="spacingAndGlyphs">i,i+n</text>
<text x="1212.2" y="187.6" font-family="Liberation Serif" stroke="#231f20" stroke-width="0.3" font-style="italic" font-size="14.5" text-anchor="middle" fill="#231f20" textLength="33.7" lengthAdjust="spacing">N − n</text>
<path d="M1030,203 C1033,196 1045,194 1058,193.5 C1072,193 1087,194 1095,201 C1102,207 1103,218 1097,224 C1092,228 1080,226 1068,223 C1058,221 1048,221 1040,219 C1032,217 1028,211 1030,203 Z" fill="url(#cg2)" stroke="#58a4d6" stroke-width="1.5"/>
<g fill="none" stroke="#bdbdbd" stroke-width="1.2" stroke-dasharray="2.2,2.4"><path d="M1019,233 Q1040,244 1065,236"/><path d="M1009,240 Q1040,255 1077,242"/><path d="M1001,250 Q1040,272 1086,250"/><path d="M1000,254 Q1030,278 1060,273 Q1082,270 1095,260"/></g>
<line x1="1042" y1="223" x2="1026.5" y2="268" stroke="#7cc070" stroke-width="1.3" stroke-dasharray="1.5,1.5"/>
<polygon points="1042.70,216.30 1046.34,222.60 1039.06,222.60" fill="#fff" stroke="#3a9ad8" stroke-width="1.1"/><polygon points="1042.70,224.70 1039.06,218.40 1046.34,218.40" fill="#fff" fill-opacity="0.6" stroke="#3a9ad8" stroke-width="1.1"/>
<circle cx="1023.7" cy="272.4" r="5.4" fill="url(#tg2)" stroke="#8cc476" stroke-width="1.3"/><circle cx="1023.7" cy="272.4" r="2.43" fill="#eef7e8" stroke="#86b873" stroke-width="0.9"/>
<circle cx="1060" cy="258.5" r="5.4" fill="url(#tg2)" stroke="#8cc476" stroke-width="1.3"/><circle cx="1060" cy="258.5" r="2.43" fill="#eef7e8" stroke="#86b873" stroke-width="0.9"/>
<line x1="1029.5" y1="270" x2="1052" y2="263" stroke="#5cae5a" stroke-width="1.1"/><polygon points="1055,262 1050,260.5 1051,265" fill="#5cae5a"/>
<path d="M1031.5,262 Q1034.5,265 1033.5,268.5" fill="none" stroke="#2e9a4a" stroke-width="1.6"/>
<text x="1036" y="263" font-size="15" fill="#2e9a4a">α</text>
<text x="1034" y="300.5" font-size="16" fill="#2e9a4a">Bias</text>
<path d="M1164,206 C1166,199 1176,196.5 1190,196 C1205,195.5 1220,197 1230,205 C1237,211 1238,222 1232,227 C1226,230 1214,228 1200,225 C1190,223 1180,222 1172,219 C1165,216 1162,212 1164,206 Z" fill="url(#cg2)" stroke="#58a4d6" stroke-width="1.5"/>
<g fill="none" stroke="#bdbdbd" stroke-width="1.2" stroke-dasharray="2.2,2.4"><path d="M1167,230 Q1185,243 1197,235"/><path d="M1157,236 Q1185,254 1212,243"/><path d="M1148,243 Q1178,265 1210,258 Q1222,256 1228,253"/><path d="M1133,247 Q1170,280 1200,273 Q1222,270 1232,262"/></g>
<line x1="1186.6" y1="224" x2="1178.8" y2="255" stroke="#7cc070" stroke-width="1.3" stroke-dasharray="1.5,1.5"/>
<line x1="1181" y1="258" x2="1206" y2="247" stroke="#7cc070" stroke-width="1.3" stroke-dasharray="1.5,1.5"/>
<polygon points="1187.40,217.10 1191.04,223.40 1183.76,223.40" fill="#fff" stroke="#3a9ad8" stroke-width="1.1"/><polygon points="1187.40,225.50 1183.76,219.20 1191.04,219.20" fill="#fff" fill-opacity="0.6" stroke="#3a9ad8" stroke-width="1.1"/>
<circle cx="1150.3" cy="273.2" r="5.4" fill="url(#tg2)" stroke="#8cc476" stroke-width="1.3"/><circle cx="1150.3" cy="273.2" r="2.43" fill="#eef7e8" stroke="#86b873" stroke-width="0.9"/>
<circle cx="1176.2" cy="260.2" r="5.4" fill="url(#tg2)" stroke="#8cc476" stroke-width="1.3"/><circle cx="1176.2" cy="260.2" r="2.43" fill="#eef7e8" stroke="#86b873" stroke-width="0.9"/>
<circle cx="1204.2" cy="259.3" r="5.4" fill="url(#tg2)" stroke="#8cc476" stroke-width="1.3"/><circle cx="1204.2" cy="259.3" r="2.43" fill="#eef7e8" stroke="#86b873" stroke-width="0.9"/>
<line x1="1156" y1="270.5" x2="1168" y2="265.5" stroke="#5cae5a" stroke-width="1.1"/><polygon points="1171,264.3 1165.8,263.5 1167.5,268" fill="#5cae5a"/>
<line x1="1181.5" y1="259.3" x2="1195" y2="259.3" stroke="#5cae5a" stroke-width="1.1"/><polygon points="1198,259.3 1194,257 1194,261.6" fill="#5cae5a"/>
<path d="M1187,253.5 Q1189,256.5 1188,259" fill="none" stroke="#f0962a" stroke-width="1.5"/>
<text x="1190" y="258" font-family="Liberation Serif" font-style="italic" font-size="14" fill="#f0962a">β</text>
<text x="1149.8" y="300.5" font-size="16" fill="#f0962a">Persistence</text>
<text x="11.5" y="347.8" font-size="20" font-weight="bold" fill="#000">C</text>
<defs><clipPath id="cclip"><rect x="131.5" y="367.5" width="324" height="242"/></clipPath></defs>
<g clip-path="url(#cclip)">
<path d="M334.4,494.5h1.4v1.4h-1.4zM204.0,589.1h1.4v1.4h-1.4zM132.2,607.7h1.4v1.4h-1.4zM283.1,503.2h1.4v1.4h-1.4zM213.6,570.6h1.4v1.4h-1.4zM311.1,503.3h1.4v1.4h-1.4zM333.5,581.4h1.4v1.4h-1.4zM182.8,596.2h1.4v1.4h-1.4zM429.7,504.6h1.4v1.4h-1.4zM292.6,494.7h1.4v1.4h-1.4zM193.3,610.6h1.4v1.4h-1.4zM251.0,528.4h1.4v1.4h-1.4zM180.9,590.8h1.4v1.4h-1.4zM296.8,495.3h1.4v1.4h-1.4zM372.5,437.4h1.4v1.4h-1.4zM296.1,405.6h1.4v1.4h-1.4zM325.6,481.1h1.4v1.4h-1.4zM235.9,546.9h1.4v1.4h-1.4zM254.3,486.8h1.4v1.4h-1.4zM327.9,504.0h1.4v1.4h-1.4zM179.7,597.7h1.4v1.4h-1.4zM261.8,507.8h1.4v1.4h-1.4zM200.6,594.8h1.4v1.4h-1.4zM415.6,499.5h1.4v1.4h-1.4zM406.2,506.9h1.4v1.4h-1.4zM316.3,442.1h1.4v1.4h-1.4zM433.2,524.5h1.4v1.4h-1.4zM418.9,572.3h1.4v1.4h-1.4zM253.2,520.0h1.4v1.4h-1.4zM142.9,595.9h1.4v1.4h-1.4zM309.1,485.5h1.4v1.4h-1.4zM138.7,601.0h1.4v1.4h-1.4zM170.6,601.0h1.4v1.4h-1.4zM270.2,483.8h1.4v1.4h-1.4zM242.8,558.6h1.4v1.4h-1.4zM246.4,553.3h1.4v1.4h-1.4zM427.1,535.4h1.4v1.4h-1.4zM175.1,585.2h1.4v1.4h-1.4zM135.2,607.9h1.4v1.4h-1.4zM297.8,548.9h1.4v1.4h-1.4zM195.3,577.2h1.4v1.4h-1.4zM243.4,580.5h1.4v1.4h-1.4zM241.4,578.5h1.4v1.4h-1.4zM275.5,525.6h1.4v1.4h-1.4zM300.5,541.5h1.4v1.4h-1.4zM319.9,488.5h1.4v1.4h-1.4zM264.8,580.4h1.4v1.4h-1.4zM270.8,509.3h1.4v1.4h-1.4zM212.4,579.2h1.4v1.4h-1.4zM364.4,550.6h1.4v1.4h-1.4zM239.0,577.4h1.4v1.4h-1.4zM147.0,607.4h1.4v1.4h-1.4zM404.6,510.3h1.4v1.4h-1.4zM286.8,514.1h1.4v1.4h-1.4zM230.5,541.1h1.4v1.4h-1.4zM335.4,517.4h1.4v1.4h-1.4zM150.7,604.7h1.4v1.4h-1.4zM396.4,565.1h1.4v1.4h-1.4zM428.4,498.4h1.4v1.4h-1.4zM301.2,463.5h1.4v1.4h-1.4zM140.4,602.1h1.4v1.4h-1.4zM211.6,565.7h1.4v1.4h-1.4zM351.6,452.4h1.4v1.4h-1.4zM436.6,464.2h1.4v1.4h-1.4zM345.1,537.2h1.4v1.4h-1.4zM317.9,461.2h1.4v1.4h-1.4zM443.7,603.5h1.4v1.4h-1.4zM241.0,569.9h1.4v1.4h-1.4zM334.9,564.6h1.4v1.4h-1.4zM411.9,495.0h1.4v1.4h-1.4zM380.6,530.2h1.4v1.4h-1.4zM317.6,530.5h1.4v1.4h-1.4zM161.9,605.4h1.4v1.4h-1.4zM399.3,530.9h1.4v1.4h-1.4zM366.0,453.4h1.4v1.4h-1.4zM183.2,587.7h1.4v1.4h-1.4zM200.5,600.3h1.4v1.4h-1.4zM254.2,566.1h1.4v1.4h-1.4zM344.9,471.4h1.4v1.4h-1.4zM253.4,553.5h1.4v1.4h-1.4zM200.7,588.5h1.4v1.4h-1.4zM279.7,515.2h1.4v1.4h-1.4zM319.4,456.9h1.4v1.4h-1.4zM379.4,473.0h1.4v1.4h-1.4zM173.1,589.8h1.4v1.4h-1.4zM218.3,561.7h1.4v1.4h-1.4zM332.7,514.4h1.4v1.4h-1.4zM418.8,543.3h1.4v1.4h-1.4zM162.1,610.7h1.4v1.4h-1.4zM151.4,603.1h1.4v1.4h-1.4zM192.8,590.6h1.4v1.4h-1.4zM374.6,467.2h1.4v1.4h-1.4zM190.6,596.4h1.4v1.4h-1.4zM365.7,404.7h1.4v1.4h-1.4zM405.5,490.0h1.4v1.4h-1.4zM339.7,477.8h1.4v1.4h-1.4zM377.7,503.5h1.4v1.4h-1.4zM253.9,551.8h1.4v1.4h-1.4zM405.9,480.3h1.4v1.4h-1.4zM309.3,488.2h1.4v1.4h-1.4zM401.5,499.8h1.4v1.4h-1.4zM178.8,608.1h1.4v1.4h-1.4zM430.8,550.7h1.4v1.4h-1.4zM452.7,493.1h1.4v1.4h-1.4zM318.0,484.2h1.4v1.4h-1.4zM192.7,544.3h1.4v1.4h-1.4zM381.4,508.7h1.4v1.4h-1.4zM141.1,607.5h1.4v1.4h-1.4zM365.3,431.2h1.4v1.4h-1.4zM455.2,472.6h1.4v1.4h-1.4zM210.9,578.8h1.4v1.4h-1.4zM171.2,595.2h1.4v1.4h-1.4zM170.7,603.7h1.4v1.4h-1.4zM288.5,496.4h1.4v1.4h-1.4zM217.2,565.0h1.4v1.4h-1.4zM298.9,507.4h1.4v1.4h-1.4zM259.5,597.2h1.4v1.4h-1.4zM189.0,606.5h1.4v1.4h-1.4zM446.9,521.3h1.4v1.4h-1.4zM292.7,529.2h1.4v1.4h-1.4zM233.4,567.2h1.4v1.4h-1.4zM207.7,573.9h1.4v1.4h-1.4zM378.7,462.5h1.4v1.4h-1.4zM361.4,397.0h1.4v1.4h-1.4zM370.5,448.6h1.4v1.4h-1.4zM377.3,480.0h1.4v1.4h-1.4zM325.1,462.4h1.4v1.4h-1.4zM181.1,582.2h1.4v1.4h-1.4zM445.4,526.3h1.4v1.4h-1.4zM222.5,537.9h1.4v1.4h-1.4zM340.5,524.0h1.4v1.4h-1.4zM265.9,600.7h1.4v1.4h-1.4zM239.8,595.7h1.4v1.4h-1.4zM310.5,534.7h1.4v1.4h-1.4zM367.9,415.4h1.4v1.4h-1.4zM283.4,547.0h1.4v1.4h-1.4zM301.2,549.7h1.4v1.4h-1.4zM314.1,527.2h1.4v1.4h-1.4zM143.4,603.0h1.4v1.4h-1.4zM310.2,490.3h1.4v1.4h-1.4zM203.0,578.5h1.4v1.4h-1.4zM195.0,587.0h1.4v1.4h-1.4zM361.2,512.5h1.4v1.4h-1.4zM282.4,543.6h1.4v1.4h-1.4zM351.7,510.8h1.4v1.4h-1.4zM312.6,461.0h1.4v1.4h-1.4zM254.6,540.8h1.4v1.4h-1.4zM294.8,519.5h1.4v1.4h-1.4zM254.8,514.7h1.4v1.4h-1.4zM276.4,523.7h1.4v1.4h-1.4zM411.1,566.1h1.4v1.4h-1.4zM347.3,491.1h1.4v1.4h-1.4zM267.7,518.7h1.4v1.4h-1.4zM226.1,581.0h1.4v1.4h-1.4zM276.4,482.4h1.4v1.4h-1.4zM439.7,506.2h1.4v1.4h-1.4zM217.6,515.8h1.4v1.4h-1.4zM354.1,496.6h1.4v1.4h-1.4zM195.1,577.7h1.4v1.4h-1.4zM400.5,496.4h1.4v1.4h-1.4zM279.9,504.6h1.4v1.4h-1.4zM196.2,597.9h1.4v1.4h-1.4zM381.8,507.2h1.4v1.4h-1.4zM397.1,492.9h1.4v1.4h-1.4zM353.3,478.8h1.4v1.4h-1.4zM253.4,544.2h1.4v1.4h-1.4zM285.9,507.6h1.4v1.4h-1.4zM196.8,588.1h1.4v1.4h-1.4zM230.3,573.3h1.4v1.4h-1.4zM268.5,569.1h1.4v1.4h-1.4zM194.3,585.1h1.4v1.4h-1.4zM381.1,505.1h1.4v1.4h-1.4zM344.6,481.6h1.4v1.4h-1.4zM375.2,465.1h1.4v1.4h-1.4zM273.3,532.4h1.4v1.4h-1.4zM274.5,530.3h1.4v1.4h-1.4zM175.5,597.0h1.4v1.4h-1.4zM444.2,533.4h1.4v1.4h-1.4zM184.3,588.2h1.4v1.4h-1.4zM280.0,518.8h1.4v1.4h-1.4zM389.0,523.5h1.4v1.4h-1.4zM263.0,524.6h1.4v1.4h-1.4zM183.0,596.2h1.4v1.4h-1.4zM348.5,464.7h1.4v1.4h-1.4zM326.3,541.2h1.4v1.4h-1.4zM233.3,600.9h1.4v1.4h-1.4zM429.0,597.4h1.4v1.4h-1.4zM347.7,490.9h1.4v1.4h-1.4zM297.8,528.7h1.4v1.4h-1.4zM356.9,451.3h1.4v1.4h-1.4zM377.0,494.0h1.4v1.4h-1.4zM173.6,589.2h1.4v1.4h-1.4zM276.5,534.3h1.4v1.4h-1.4zM262.0,523.9h1.4v1.4h-1.4zM210.6,578.9h1.4v1.4h-1.4zM354.4,475.9h1.4v1.4h-1.4zM436.9,525.4h1.4v1.4h-1.4zM298.8,482.2h1.4v1.4h-1.4zM406.7,472.5h1.4v1.4h-1.4zM379.9,505.5h1.4v1.4h-1.4zM335.6,422.8h1.4v1.4h-1.4zM226.1,572.0h1.4v1.4h-1.4zM372.0,417.5h1.4v1.4h-1.4zM358.3,468.0h1.4v1.4h-1.4zM368.9,486.7h1.4v1.4h-1.4zM411.0,472.2h1.4v1.4h-1.4zM230.2,548.2h1.4v1.4h-1.4zM218.9,581.5h1.4v1.4h-1.4zM282.4,527.2h1.4v1.4h-1.4zM431.4,533.3h1.4v1.4h-1.4zM295.8,477.4h1.4v1.4h-1.4zM393.0,425.7h1.4v1.4h-1.4zM412.8,487.5h1.4v1.4h-1.4zM300.7,497.6h1.4v1.4h-1.4zM154.4,600.2h1.4v1.4h-1.4zM283.7,541.5h1.4v1.4h-1.4zM234.8,561.4h1.4v1.4h-1.4zM180.5,595.2h1.4v1.4h-1.4zM441.6,534.1h1.4v1.4h-1.4zM236.1,558.5h1.4v1.4h-1.4zM322.7,498.2h1.4v1.4h-1.4zM195.1,608.8h1.4v1.4h-1.4zM184.6,608.4h1.4v1.4h-1.4zM174.6,575.8h1.4v1.4h-1.4zM262.0,506.5h1.4v1.4h-1.4zM307.2,510.3h1.4v1.4h-1.4zM165.4,590.8h1.4v1.4h-1.4zM163.5,607.6h1.4v1.4h-1.4zM407.5,453.4h1.4v1.4h-1.4zM238.9,582.6h1.4v1.4h-1.4zM431.1,509.8h1.4v1.4h-1.4zM289.4,553.5h1.4v1.4h-1.4zM273.3,503.5h1.4v1.4h-1.4zM394.1,488.5h1.4v1.4h-1.4zM134.6,600.7h1.4v1.4h-1.4zM279.2,521.4h1.4v1.4h-1.4zM184.5,596.0h1.4v1.4h-1.4zM147.6,604.0h1.4v1.4h-1.4zM282.1,483.9h1.4v1.4h-1.4zM222.1,547.0h1.4v1.4h-1.4zM376.8,478.1h1.4v1.4h-1.4zM376.8,471.2h1.4v1.4h-1.4zM430.0,407.0h1.4v1.4h-1.4zM213.1,563.2h1.4v1.4h-1.4zM327.0,492.6h1.4v1.4h-1.4zM362.9,460.1h1.4v1.4h-1.4zM447.8,522.8h1.4v1.4h-1.4zM426.0,570.4h1.4v1.4h-1.4zM238.7,533.2h1.4v1.4h-1.4zM316.0,497.7h1.4v1.4h-1.4zM371.0,590.3h1.4v1.4h-1.4zM181.6,604.2h1.4v1.4h-1.4zM386.0,363.3h1.4v1.4h-1.4zM217.3,579.6h1.4v1.4h-1.4zM439.0,485.5h1.4v1.4h-1.4zM262.9,531.0h1.4v1.4h-1.4zM284.2,511.8h1.4v1.4h-1.4zM271.7,515.5h1.4v1.4h-1.4zM376.5,494.4h1.4v1.4h-1.4zM392.2,516.5h1.4v1.4h-1.4zM221.2,565.1h1.4v1.4h-1.4zM252.6,540.4h1.4v1.4h-1.4zM191.4,591.6h1.4v1.4h-1.4zM377.3,465.8h1.4v1.4h-1.4zM141.6,605.8h1.4v1.4h-1.4zM213.2,535.8h1.4v1.4h-1.4zM322.9,508.5h1.4v1.4h-1.4zM156.6,610.2h1.4v1.4h-1.4zM213.2,583.1h1.4v1.4h-1.4zM224.0,607.2h1.4v1.4h-1.4zM440.4,512.3h1.4v1.4h-1.4zM326.6,522.2h1.4v1.4h-1.4zM237.5,570.7h1.4v1.4h-1.4zM309.9,512.5h1.4v1.4h-1.4zM239.2,550.8h1.4v1.4h-1.4zM432.9,461.0h1.4v1.4h-1.4zM361.6,385.8h1.4v1.4h-1.4zM443.9,517.3h1.4v1.4h-1.4zM160.9,608.3h1.4v1.4h-1.4zM202.0,578.7h1.4v1.4h-1.4zM337.1,466.7h1.4v1.4h-1.4zM425.0,460.9h1.4v1.4h-1.4zM158.7,607.5h1.4v1.4h-1.4zM309.0,528.9h1.4v1.4h-1.4zM215.4,588.7h1.4v1.4h-1.4zM397.0,496.9h1.4v1.4h-1.4zM172.6,610.4h1.4v1.4h-1.4zM387.1,506.0h1.4v1.4h-1.4zM142.0,591.1h1.4v1.4h-1.4zM210.1,576.9h1.4v1.4h-1.4zM232.1,560.7h1.4v1.4h-1.4zM274.9,501.9h1.4v1.4h-1.4zM294.4,489.8h1.4v1.4h-1.4zM233.8,548.6h1.4v1.4h-1.4zM294.9,510.6h1.4v1.4h-1.4zM453.6,573.8h1.4v1.4h-1.4zM297.3,474.7h1.4v1.4h-1.4zM440.8,520.7h1.4v1.4h-1.4zM402.6,563.6h1.4v1.4h-1.4zM318.4,452.0h1.4v1.4h-1.4zM135.1,606.2h1.4v1.4h-1.4zM284.2,528.1h1.4v1.4h-1.4zM149.1,608.0h1.4v1.4h-1.4zM149.0,607.3h1.4v1.4h-1.4zM306.7,486.4h1.4v1.4h-1.4zM227.0,597.4h1.4v1.4h-1.4zM426.2,401.7h1.4v1.4h-1.4zM282.3,547.9h1.4v1.4h-1.4zM392.5,402.1h1.4v1.4h-1.4zM239.5,584.3h1.4v1.4h-1.4zM148.2,595.6h1.4v1.4h-1.4zM254.2,527.7h1.4v1.4h-1.4zM348.9,414.3h1.4v1.4h-1.4zM420.6,464.9h1.4v1.4h-1.4zM447.0,579.9h1.4v1.4h-1.4zM416.9,503.8h1.4v1.4h-1.4zM195.9,574.1h1.4v1.4h-1.4zM171.6,590.5h1.4v1.4h-1.4zM431.4,506.6h1.4v1.4h-1.4zM216.5,581.8h1.4v1.4h-1.4zM320.8,476.5h1.4v1.4h-1.4zM197.6,592.5h1.4v1.4h-1.4zM260.7,522.5h1.4v1.4h-1.4zM210.9,587.3h1.4v1.4h-1.4zM422.3,491.3h1.4v1.4h-1.4zM175.1,587.2h1.4v1.4h-1.4zM228.6,571.6h1.4v1.4h-1.4zM183.1,608.3h1.4v1.4h-1.4zM284.5,548.7h1.4v1.4h-1.4zM165.9,588.7h1.4v1.4h-1.4zM313.9,485.2h1.4v1.4h-1.4zM335.9,428.1h1.4v1.4h-1.4zM257.7,552.0h1.4v1.4h-1.4zM314.3,517.6h1.4v1.4h-1.4zM268.7,536.9h1.4v1.4h-1.4zM298.9,444.1h1.4v1.4h-1.4zM282.1,521.2h1.4v1.4h-1.4zM233.7,581.0h1.4v1.4h-1.4zM435.6,530.1h1.4v1.4h-1.4zM454.9,574.5h1.4v1.4h-1.4zM292.6,512.5h1.4v1.4h-1.4zM191.0,576.0h1.4v1.4h-1.4zM326.9,419.1h1.4v1.4h-1.4zM237.8,559.3h1.4v1.4h-1.4zM414.2,508.3h1.4v1.4h-1.4zM384.3,481.1h1.4v1.4h-1.4zM157.5,603.9h1.4v1.4h-1.4zM277.0,515.8h1.4v1.4h-1.4zM227.4,553.7h1.4v1.4h-1.4zM410.0,413.8h1.4v1.4h-1.4zM451.4,505.2h1.4v1.4h-1.4zM420.3,531.9h1.4v1.4h-1.4zM217.2,585.9h1.4v1.4h-1.4zM335.3,488.2h1.4v1.4h-1.4zM193.6,583.0h1.4v1.4h-1.4zM309.9,486.6h1.4v1.4h-1.4zM344.2,500.1h1.4v1.4h-1.4zM281.3,545.9h1.4v1.4h-1.4zM147.9,603.0h1.4v1.4h-1.4zM320.5,526.6h1.4v1.4h-1.4zM240.8,586.6h1.4v1.4h-1.4zM419.6,539.4h1.4v1.4h-1.4zM396.2,413.7h1.4v1.4h-1.4zM222.7,575.1h1.4v1.4h-1.4zM227.5,526.4h1.4v1.4h-1.4zM296.5,484.4h1.4v1.4h-1.4zM152.0,602.8h1.4v1.4h-1.4zM229.3,563.1h1.4v1.4h-1.4zM287.0,537.9h1.4v1.4h-1.4zM211.0,573.1h1.4v1.4h-1.4zM429.1,534.4h1.4v1.4h-1.4zM286.2,526.8h1.4v1.4h-1.4zM260.6,520.0h1.4v1.4h-1.4zM197.9,608.9h1.4v1.4h-1.4zM226.1,577.6h1.4v1.4h-1.4zM435.9,500.8h1.4v1.4h-1.4zM256.9,540.6h1.4v1.4h-1.4zM150.0,606.6h1.4v1.4h-1.4zM446.2,552.3h1.4v1.4h-1.4zM405.1,441.4h1.4v1.4h-1.4zM367.8,471.5h1.4v1.4h-1.4zM455.3,536.0h1.4v1.4h-1.4zM439.7,574.0h1.4v1.4h-1.4zM237.2,542.0h1.4v1.4h-1.4zM191.1,590.6h1.4v1.4h-1.4zM325.6,495.5h1.4v1.4h-1.4zM160.5,606.2h1.4v1.4h-1.4zM295.0,535.9h1.4v1.4h-1.4zM331.7,443.4h1.4v1.4h-1.4zM423.3,468.7h1.4v1.4h-1.4zM146.8,611.1h1.4v1.4h-1.4zM264.2,517.8h1.4v1.4h-1.4zM436.3,589.7h1.4v1.4h-1.4zM136.1,606.2h1.4v1.4h-1.4zM280.5,534.7h1.4v1.4h-1.4zM453.3,535.9h1.4v1.4h-1.4zM363.7,453.7h1.4v1.4h-1.4zM249.8,553.9h1.4v1.4h-1.4zM209.5,555.9h1.4v1.4h-1.4zM226.2,505.7h1.4v1.4h-1.4zM242.7,559.6h1.4v1.4h-1.4zM247.7,574.2h1.4v1.4h-1.4zM342.6,457.6h1.4v1.4h-1.4zM445.4,538.2h1.4v1.4h-1.4zM337.7,514.8h1.4v1.4h-1.4zM361.5,466.9h1.4v1.4h-1.4zM352.8,429.3h1.4v1.4h-1.4zM388.5,504.0h1.4v1.4h-1.4zM235.4,600.6h1.4v1.4h-1.4zM346.6,553.2h1.4v1.4h-1.4zM276.3,546.3h1.4v1.4h-1.4zM281.9,547.1h1.4v1.4h-1.4zM159.1,592.4h1.4v1.4h-1.4zM431.2,512.6h1.4v1.4h-1.4zM382.3,492.8h1.4v1.4h-1.4zM254.3,570.6h1.4v1.4h-1.4zM303.6,497.5h1.4v1.4h-1.4zM351.7,445.3h1.4v1.4h-1.4zM243.2,571.1h1.4v1.4h-1.4zM314.1,543.2h1.4v1.4h-1.4zM202.3,559.8h1.4v1.4h-1.4zM344.8,551.1h1.4v1.4h-1.4zM164.8,600.9h1.4v1.4h-1.4zM421.3,459.7h1.4v1.4h-1.4zM291.9,469.1h1.4v1.4h-1.4zM220.3,604.1h1.4v1.4h-1.4zM248.9,556.1h1.4v1.4h-1.4zM319.7,476.7h1.4v1.4h-1.4zM398.5,486.5h1.4v1.4h-1.4zM225.9,604.4h1.4v1.4h-1.4zM330.0,553.1h1.4v1.4h-1.4zM372.1,489.7h1.4v1.4h-1.4zM251.3,566.8h1.4v1.4h-1.4zM229.0,569.8h1.4v1.4h-1.4zM357.8,497.8h1.4v1.4h-1.4zM206.7,581.4h1.4v1.4h-1.4zM282.0,501.2h1.4v1.4h-1.4zM373.5,445.8h1.4v1.4h-1.4zM281.5,520.2h1.4v1.4h-1.4zM341.7,423.8h1.4v1.4h-1.4zM368.0,533.2h1.4v1.4h-1.4zM401.3,448.4h1.4v1.4h-1.4zM299.2,482.7h1.4v1.4h-1.4zM181.2,564.6h1.4v1.4h-1.4zM268.0,566.6h1.4v1.4h-1.4zM352.4,374.6h1.4v1.4h-1.4zM296.2,502.9h1.4v1.4h-1.4zM440.5,501.2h1.4v1.4h-1.4zM412.8,496.3h1.4v1.4h-1.4zM274.4,525.6h1.4v1.4h-1.4zM194.0,592.0h1.4v1.4h-1.4zM452.9,530.2h1.4v1.4h-1.4zM437.1,436.1h1.4v1.4h-1.4zM408.9,548.9h1.4v1.4h-1.4zM194.8,570.9h1.4v1.4h-1.4zM244.4,563.5h1.4v1.4h-1.4zM305.4,453.4h1.4v1.4h-1.4zM178.2,597.8h1.4v1.4h-1.4zM143.3,608.6h1.4v1.4h-1.4zM192.3,593.4h1.4v1.4h-1.4zM280.9,534.9h1.4v1.4h-1.4zM214.2,606.1h1.4v1.4h-1.4zM305.2,469.7h1.4v1.4h-1.4zM453.5,546.2h1.4v1.4h-1.4zM291.9,463.8h1.4v1.4h-1.4zM194.2,558.5h1.4v1.4h-1.4zM373.5,455.0h1.4v1.4h-1.4zM233.5,584.2h1.4v1.4h-1.4zM226.2,563.0h1.4v1.4h-1.4zM155.2,588.0h1.4v1.4h-1.4zM351.1,576.3h1.4v1.4h-1.4zM164.8,607.6h1.4v1.4h-1.4zM222.4,596.2h1.4v1.4h-1.4zM353.3,481.5h1.4v1.4h-1.4zM392.4,506.6h1.4v1.4h-1.4zM244.3,553.0h1.4v1.4h-1.4zM412.4,460.9h1.4v1.4h-1.4zM131.4,607.3h1.4v1.4h-1.4zM334.2,529.7h1.4v1.4h-1.4zM249.9,559.8h1.4v1.4h-1.4zM152.2,604.6h1.4v1.4h-1.4zM354.8,450.0h1.4v1.4h-1.4zM445.6,451.8h1.4v1.4h-1.4zM305.0,422.2h1.4v1.4h-1.4zM151.1,593.5h1.4v1.4h-1.4zM265.8,505.4h1.4v1.4h-1.4zM397.0,509.6h1.4v1.4h-1.4zM394.0,475.7h1.4v1.4h-1.4zM217.7,589.3h1.4v1.4h-1.4zM410.5,434.8h1.4v1.4h-1.4zM138.5,597.5h1.4v1.4h-1.4zM344.8,424.8h1.4v1.4h-1.4zM411.8,453.9h1.4v1.4h-1.4zM280.9,484.1h1.4v1.4h-1.4zM239.9,600.5h1.4v1.4h-1.4zM176.5,592.3h1.4v1.4h-1.4zM281.6,553.4h1.4v1.4h-1.4zM445.9,566.6h1.4v1.4h-1.4zM218.7,568.8h1.4v1.4h-1.4zM402.2,426.5h1.4v1.4h-1.4zM233.4,537.3h1.4v1.4h-1.4zM132.4,602.7h1.4v1.4h-1.4zM409.4,575.1h1.4v1.4h-1.4zM203.1,576.5h1.4v1.4h-1.4zM297.8,452.4h1.4v1.4h-1.4zM254.2,560.9h1.4v1.4h-1.4zM263.1,517.3h1.4v1.4h-1.4zM255.9,536.4h1.4v1.4h-1.4zM332.4,456.6h1.4v1.4h-1.4zM389.9,421.8h1.4v1.4h-1.4zM363.2,592.3h1.4v1.4h-1.4zM395.1,523.0h1.4v1.4h-1.4zM181.8,592.9h1.4v1.4h-1.4zM214.6,572.3h1.4v1.4h-1.4zM383.5,471.7h1.4v1.4h-1.4zM404.0,528.0h1.4v1.4h-1.4zM217.8,578.9h1.4v1.4h-1.4zM306.3,497.0h1.4v1.4h-1.4zM303.8,537.6h1.4v1.4h-1.4zM361.1,523.0h1.4v1.4h-1.4zM219.3,566.8h1.4v1.4h-1.4zM299.4,494.1h1.4v1.4h-1.4zM249.1,568.2h1.4v1.4h-1.4zM143.1,607.4h1.4v1.4h-1.4zM134.5,610.3h1.4v1.4h-1.4zM305.8,500.0h1.4v1.4h-1.4zM424.4,558.7h1.4v1.4h-1.4zM266.9,538.9h1.4v1.4h-1.4zM346.3,478.8h1.4v1.4h-1.4zM350.8,408.1h1.4v1.4h-1.4zM298.4,511.4h1.4v1.4h-1.4zM277.1,525.7h1.4v1.4h-1.4zM218.1,599.1h1.4v1.4h-1.4zM204.7,581.6h1.4v1.4h-1.4zM342.4,456.5h1.4v1.4h-1.4zM194.6,593.7h1.4v1.4h-1.4zM418.1,514.7h1.4v1.4h-1.4zM404.1,440.2h1.4v1.4h-1.4zM321.7,465.4h1.4v1.4h-1.4zM385.4,521.9h1.4v1.4h-1.4zM289.4,510.7h1.4v1.4h-1.4zM183.0,590.2h1.4v1.4h-1.4zM211.5,606.0h1.4v1.4h-1.4zM197.5,597.4h1.4v1.4h-1.4zM208.8,572.1h1.4v1.4h-1.4zM350.5,528.9h1.4v1.4h-1.4zM270.8,519.7h1.4v1.4h-1.4zM208.4,584.8h1.4v1.4h-1.4zM197.4,606.6h1.4v1.4h-1.4zM221.4,564.2h1.4v1.4h-1.4zM325.0,486.5h1.4v1.4h-1.4zM164.1,600.8h1.4v1.4h-1.4zM438.8,440.2h1.4v1.4h-1.4zM206.6,569.8h1.4v1.4h-1.4zM151.1,605.0h1.4v1.4h-1.4zM236.7,555.6h1.4v1.4h-1.4zM293.3,513.4h1.4v1.4h-1.4zM354.8,444.4h1.4v1.4h-1.4zM390.4,496.0h1.4v1.4h-1.4zM433.7,560.5h1.4v1.4h-1.4zM424.3,572.9h1.4v1.4h-1.4zM206.2,600.8h1.4v1.4h-1.4zM430.3,530.6h1.4v1.4h-1.4zM144.6,610.5h1.4v1.4h-1.4zM201.7,551.7h1.4v1.4h-1.4zM132.7,600.8h1.4v1.4h-1.4zM177.2,601.6h1.4v1.4h-1.4zM356.8,459.1h1.4v1.4h-1.4zM209.0,581.5h1.4v1.4h-1.4zM425.5,405.6h1.4v1.4h-1.4zM356.6,451.2h1.4v1.4h-1.4zM244.5,515.8h1.4v1.4h-1.4zM319.3,437.7h1.4v1.4h-1.4zM394.4,435.7h1.4v1.4h-1.4zM393.6,567.2h1.4v1.4h-1.4zM362.4,486.1h1.4v1.4h-1.4zM300.6,476.9h1.4v1.4h-1.4zM273.7,551.9h1.4v1.4h-1.4zM136.0,587.5h1.4v1.4h-1.4zM225.8,560.6h1.4v1.4h-1.4zM370.7,432.6h1.4v1.4h-1.4zM402.7,510.6h1.4v1.4h-1.4zM385.6,461.1h1.4v1.4h-1.4zM255.9,545.7h1.4v1.4h-1.4zM238.6,568.6h1.4v1.4h-1.4zM305.6,460.2h1.4v1.4h-1.4zM445.8,539.2h1.4v1.4h-1.4zM303.9,512.3h1.4v1.4h-1.4zM271.7,544.9h1.4v1.4h-1.4zM306.0,480.0h1.4v1.4h-1.4zM356.9,474.3h1.4v1.4h-1.4zM386.6,550.8h1.4v1.4h-1.4zM264.3,529.0h1.4v1.4h-1.4zM206.0,555.2h1.4v1.4h-1.4zM380.2,438.3h1.4v1.4h-1.4zM223.3,567.4h1.4v1.4h-1.4zM283.8,539.3h1.4v1.4h-1.4zM312.2,465.6h1.4v1.4h-1.4zM299.8,519.2h1.4v1.4h-1.4zM444.3,575.0h1.4v1.4h-1.4zM378.6,476.0h1.4v1.4h-1.4zM429.4,508.2h1.4v1.4h-1.4zM372.8,486.1h1.4v1.4h-1.4zM327.0,456.3h1.4v1.4h-1.4zM311.5,445.5h1.4v1.4h-1.4zM371.0,426.1h1.4v1.4h-1.4zM381.5,474.7h1.4v1.4h-1.4zM227.1,556.8h1.4v1.4h-1.4zM142.0,609.0h1.4v1.4h-1.4zM408.3,449.0h1.4v1.4h-1.4zM210.3,560.5h1.4v1.4h-1.4zM343.8,473.5h1.4v1.4h-1.4zM212.1,573.7h1.4v1.4h-1.4zM256.5,547.8h1.4v1.4h-1.4zM286.8,507.7h1.4v1.4h-1.4zM184.7,601.9h1.4v1.4h-1.4zM321.4,476.1h1.4v1.4h-1.4zM376.5,488.2h1.4v1.4h-1.4zM215.2,561.3h1.4v1.4h-1.4zM414.3,414.0h1.4v1.4h-1.4zM275.7,543.4h1.4v1.4h-1.4zM205.8,575.8h1.4v1.4h-1.4zM151.4,610.4h1.4v1.4h-1.4zM343.0,460.2h1.4v1.4h-1.4zM337.2,514.0h1.4v1.4h-1.4zM391.1,444.7h1.4v1.4h-1.4zM450.1,526.4h1.4v1.4h-1.4zM387.3,501.6h1.4v1.4h-1.4zM136.5,600.1h1.4v1.4h-1.4zM214.4,559.9h1.4v1.4h-1.4zM228.0,582.3h1.4v1.4h-1.4zM382.9,442.8h1.4v1.4h-1.4zM408.5,515.3h1.4v1.4h-1.4zM206.0,584.1h1.4v1.4h-1.4zM368.3,495.6h1.4v1.4h-1.4zM356.7,536.7h1.4v1.4h-1.4zM160.7,609.7h1.4v1.4h-1.4zM337.5,518.1h1.4v1.4h-1.4zM424.3,526.0h1.4v1.4h-1.4zM324.4,513.9h1.4v1.4h-1.4zM334.5,504.2h1.4v1.4h-1.4zM327.7,495.3h1.4v1.4h-1.4zM173.9,592.0h1.4v1.4h-1.4zM380.1,468.9h1.4v1.4h-1.4zM455.7,514.8h1.4v1.4h-1.4zM199.0,586.5h1.4v1.4h-1.4zM388.1,498.2h1.4v1.4h-1.4zM453.5,558.0h1.4v1.4h-1.4zM206.8,565.8h1.4v1.4h-1.4zM408.3,460.1h1.4v1.4h-1.4zM348.2,503.6h1.4v1.4h-1.4zM370.3,479.4h1.4v1.4h-1.4zM411.5,455.0h1.4v1.4h-1.4zM189.0,588.8h1.4v1.4h-1.4zM346.4,521.4h1.4v1.4h-1.4zM218.5,602.1h1.4v1.4h-1.4zM165.1,606.9h1.4v1.4h-1.4zM251.4,557.3h1.4v1.4h-1.4zM300.7,528.8h1.4v1.4h-1.4zM143.7,607.5h1.4v1.4h-1.4zM243.5,577.3h1.4v1.4h-1.4zM342.9,426.0h1.4v1.4h-1.4zM416.5,528.6h1.4v1.4h-1.4zM137.9,605.8h1.4v1.4h-1.4zM145.5,610.0h1.4v1.4h-1.4zM171.7,601.6h1.4v1.4h-1.4zM239.9,582.5h1.4v1.4h-1.4zM337.9,493.1h1.4v1.4h-1.4zM170.0,565.2h1.4v1.4h-1.4zM402.9,523.6h1.4v1.4h-1.4zM303.6,536.2h1.4v1.4h-1.4zM292.5,504.9h1.4v1.4h-1.4zM201.0,555.9h1.4v1.4h-1.4zM375.1,398.7h1.4v1.4h-1.4zM282.3,517.7h1.4v1.4h-1.4zM336.6,485.8h1.4v1.4h-1.4zM334.9,434.4h1.4v1.4h-1.4zM214.8,583.0h1.4v1.4h-1.4zM318.4,483.9h1.4v1.4h-1.4zM252.8,558.5h1.4v1.4h-1.4zM364.8,534.1h1.4v1.4h-1.4zM404.6,510.4h1.4v1.4h-1.4zM422.7,547.1h1.4v1.4h-1.4zM308.0,512.3h1.4v1.4h-1.4zM177.0,586.2h1.4v1.4h-1.4zM379.3,432.5h1.4v1.4h-1.4zM243.3,550.4h1.4v1.4h-1.4zM288.9,446.5h1.4v1.4h-1.4zM159.2,607.6h1.4v1.4h-1.4zM426.5,445.1h1.4v1.4h-1.4zM227.3,593.9h1.4v1.4h-1.4zM181.1,578.1h1.4v1.4h-1.4zM359.6,490.4h1.4v1.4h-1.4zM295.8,528.7h1.4v1.4h-1.4zM424.4,472.6h1.4v1.4h-1.4zM220.4,561.3h1.4v1.4h-1.4zM317.5,436.9h1.4v1.4h-1.4zM162.6,605.5h1.4v1.4h-1.4zM137.5,611.1h1.4v1.4h-1.4zM146.7,600.9h1.4v1.4h-1.4zM454.9,496.3h1.4v1.4h-1.4zM379.8,497.8h1.4v1.4h-1.4zM287.4,504.3h1.4v1.4h-1.4zM258.2,537.9h1.4v1.4h-1.4zM452.2,440.1h1.4v1.4h-1.4zM307.9,561.7h1.4v1.4h-1.4zM245.5,538.1h1.4v1.4h-1.4zM146.8,607.0h1.4v1.4h-1.4zM133.1,608.8h1.4v1.4h-1.4zM262.5,561.6h1.4v1.4h-1.4zM348.4,547.5h1.4v1.4h-1.4zM290.9,382.8h1.4v1.4h-1.4zM317.2,494.9h1.4v1.4h-1.4zM438.3,520.0h1.4v1.4h-1.4zM303.5,503.1h1.4v1.4h-1.4zM379.8,466.5h1.4v1.4h-1.4zM240.3,520.8h1.4v1.4h-1.4zM359.9,469.4h1.4v1.4h-1.4zM347.4,547.0h1.4v1.4h-1.4zM363.4,489.3h1.4v1.4h-1.4zM382.6,485.4h1.4v1.4h-1.4zM133.5,606.6h1.4v1.4h-1.4zM374.6,501.1h1.4v1.4h-1.4zM161.7,589.6h1.4v1.4h-1.4zM385.1,499.9h1.4v1.4h-1.4zM409.5,464.4h1.4v1.4h-1.4zM227.4,597.4h1.4v1.4h-1.4zM370.1,489.9h1.4v1.4h-1.4zM338.0,502.2h1.4v1.4h-1.4zM293.1,471.0h1.4v1.4h-1.4zM435.6,489.0h1.4v1.4h-1.4zM360.3,456.3h1.4v1.4h-1.4zM156.1,601.0h1.4v1.4h-1.4zM137.2,603.0h1.4v1.4h-1.4zM265.7,534.0h1.4v1.4h-1.4zM304.4,470.2h1.4v1.4h-1.4zM303.9,484.4h1.4v1.4h-1.4zM179.9,606.1h1.4v1.4h-1.4zM357.9,510.0h1.4v1.4h-1.4zM331.4,491.3h1.4v1.4h-1.4zM433.0,558.8h1.4v1.4h-1.4zM217.8,568.5h1.4v1.4h-1.4zM188.2,599.2h1.4v1.4h-1.4zM214.8,562.4h1.4v1.4h-1.4zM276.9,523.5h1.4v1.4h-1.4zM450.6,589.7h1.4v1.4h-1.4zM361.1,433.1h1.4v1.4h-1.4zM226.9,568.6h1.4v1.4h-1.4zM227.0,558.7h1.4v1.4h-1.4zM353.4,560.5h1.4v1.4h-1.4zM246.1,499.4h1.4v1.4h-1.4zM275.0,539.2h1.4v1.4h-1.4zM455.7,496.4h1.4v1.4h-1.4zM257.7,558.8h1.4v1.4h-1.4zM221.4,571.5h1.4v1.4h-1.4zM357.5,482.7h1.4v1.4h-1.4zM207.8,600.6h1.4v1.4h-1.4zM284.4,522.0h1.4v1.4h-1.4zM442.8,539.9h1.4v1.4h-1.4zM264.4,511.4h1.4v1.4h-1.4zM387.6,454.1h1.4v1.4h-1.4zM223.8,583.0h1.4v1.4h-1.4zM430.4,433.0h1.4v1.4h-1.4zM276.6,568.2h1.4v1.4h-1.4zM217.7,567.9h1.4v1.4h-1.4zM298.7,508.0h1.4v1.4h-1.4zM187.5,592.4h1.4v1.4h-1.4zM175.5,586.4h1.4v1.4h-1.4zM310.0,502.7h1.4v1.4h-1.4zM351.7,518.0h1.4v1.4h-1.4zM358.8,508.7h1.4v1.4h-1.4zM201.3,585.3h1.4v1.4h-1.4zM348.6,452.8h1.4v1.4h-1.4zM430.5,450.9h1.4v1.4h-1.4zM254.4,559.1h1.4v1.4h-1.4zM378.2,486.6h1.4v1.4h-1.4zM373.4,512.8h1.4v1.4h-1.4zM429.6,508.1h1.4v1.4h-1.4zM298.0,466.6h1.4v1.4h-1.4zM260.1,538.2h1.4v1.4h-1.4zM365.9,483.4h1.4v1.4h-1.4zM417.5,509.9h1.4v1.4h-1.4zM431.2,549.0h1.4v1.4h-1.4zM267.2,510.4h1.4v1.4h-1.4zM203.1,579.3h1.4v1.4h-1.4zM140.7,600.7h1.4v1.4h-1.4zM337.4,593.8h1.4v1.4h-1.4zM347.1,473.8h1.4v1.4h-1.4zM253.2,516.2h1.4v1.4h-1.4zM189.6,570.9h1.4v1.4h-1.4zM410.9,562.1h1.4v1.4h-1.4zM324.3,434.8h1.4v1.4h-1.4zM275.4,555.3h1.4v1.4h-1.4zM363.7,509.8h1.4v1.4h-1.4zM392.8,470.0h1.4v1.4h-1.4zM137.2,606.3h1.4v1.4h-1.4zM438.1,546.5h1.4v1.4h-1.4zM149.8,604.0h1.4v1.4h-1.4zM335.6,490.8h1.4v1.4h-1.4zM210.1,598.7h1.4v1.4h-1.4zM306.6,486.2h1.4v1.4h-1.4zM194.4,566.7h1.4v1.4h-1.4zM154.7,602.4h1.4v1.4h-1.4zM321.7,596.9h1.4v1.4h-1.4zM446.5,610.9h1.4v1.4h-1.4zM176.8,555.1h1.4v1.4h-1.4zM333.4,522.8h1.4v1.4h-1.4zM196.0,564.1h1.4v1.4h-1.4zM411.2,495.3h1.4v1.4h-1.4zM233.1,594.9h1.4v1.4h-1.4zM379.9,590.9h1.4v1.4h-1.4zM313.0,416.3h1.4v1.4h-1.4zM224.2,551.0h1.4v1.4h-1.4zM314.3,441.7h1.4v1.4h-1.4zM265.9,450.6h1.4v1.4h-1.4zM383.0,497.3h1.4v1.4h-1.4zM291.0,510.5h1.4v1.4h-1.4zM345.0,436.4h1.4v1.4h-1.4zM261.7,518.2h1.4v1.4h-1.4zM279.5,515.8h1.4v1.4h-1.4zM394.9,523.4h1.4v1.4h-1.4zM152.3,608.4h1.4v1.4h-1.4zM282.0,538.3h1.4v1.4h-1.4zM150.2,607.7h1.4v1.4h-1.4zM296.3,519.4h1.4v1.4h-1.4zM446.3,451.2h1.4v1.4h-1.4zM206.7,553.7h1.4v1.4h-1.4zM419.5,459.7h1.4v1.4h-1.4zM180.3,596.4h1.4v1.4h-1.4zM287.0,522.2h1.4v1.4h-1.4zM136.8,598.7h1.4v1.4h-1.4zM238.4,523.2h1.4v1.4h-1.4zM203.1,566.3h1.4v1.4h-1.4zM235.4,541.5h1.4v1.4h-1.4zM309.4,475.8h1.4v1.4h-1.4zM217.6,556.9h1.4v1.4h-1.4zM369.9,500.9h1.4v1.4h-1.4zM239.0,551.1h1.4v1.4h-1.4zM427.2,542.9h1.4v1.4h-1.4zM143.0,594.5h1.4v1.4h-1.4zM326.1,498.9h1.4v1.4h-1.4zM217.4,557.4h1.4v1.4h-1.4zM280.3,518.7h1.4v1.4h-1.4zM451.8,515.1h1.4v1.4h-1.4zM192.7,604.2h1.4v1.4h-1.4zM417.0,471.4h1.4v1.4h-1.4zM242.1,600.1h1.4v1.4h-1.4zM299.8,446.2h1.4v1.4h-1.4zM170.3,589.3h1.4v1.4h-1.4zM360.5,381.7h1.4v1.4h-1.4zM344.6,499.6h1.4v1.4h-1.4zM365.4,537.4h1.4v1.4h-1.4zM372.3,419.0h1.4v1.4h-1.4zM372.4,457.9h1.4v1.4h-1.4zM215.4,548.6h1.4v1.4h-1.4zM346.0,458.6h1.4v1.4h-1.4zM393.1,516.9h1.4v1.4h-1.4zM347.2,417.8h1.4v1.4h-1.4zM362.1,564.1h1.4v1.4h-1.4zM285.2,541.8h1.4v1.4h-1.4zM387.9,520.0h1.4v1.4h-1.4zM251.9,529.2h1.4v1.4h-1.4zM264.7,555.5h1.4v1.4h-1.4zM240.7,571.3h1.4v1.4h-1.4zM271.2,549.0h1.4v1.4h-1.4zM448.4,497.9h1.4v1.4h-1.4zM131.7,596.3h1.4v1.4h-1.4zM352.4,511.0h1.4v1.4h-1.4zM210.9,576.3h1.4v1.4h-1.4zM198.5,584.6h1.4v1.4h-1.4zM234.3,576.3h1.4v1.4h-1.4zM427.5,528.4h1.4v1.4h-1.4zM339.5,573.6h1.4v1.4h-1.4zM352.5,500.5h1.4v1.4h-1.4zM189.9,602.9h1.4v1.4h-1.4zM259.4,579.2h1.4v1.4h-1.4zM319.2,482.6h1.4v1.4h-1.4zM347.7,523.3h1.4v1.4h-1.4zM288.0,513.2h1.4v1.4h-1.4zM205.0,607.6h1.4v1.4h-1.4zM264.1,536.7h1.4v1.4h-1.4zM430.3,460.3h1.4v1.4h-1.4zM131.6,609.9h1.4v1.4h-1.4zM442.1,516.4h1.4v1.4h-1.4zM259.8,526.0h1.4v1.4h-1.4zM218.8,599.1h1.4v1.4h-1.4zM311.2,496.2h1.4v1.4h-1.4zM339.2,535.7h1.4v1.4h-1.4zM418.4,517.9h1.4v1.4h-1.4zM393.1,503.7h1.4v1.4h-1.4zM336.4,495.5h1.4v1.4h-1.4zM161.5,594.1h1.4v1.4h-1.4zM447.6,506.7h1.4v1.4h-1.4zM178.2,587.2h1.4v1.4h-1.4zM254.3,583.6h1.4v1.4h-1.4zM313.8,514.7h1.4v1.4h-1.4zM351.3,532.9h1.4v1.4h-1.4zM450.0,370.7h1.4v1.4h-1.4zM277.8,530.1h1.4v1.4h-1.4zM328.4,449.3h1.4v1.4h-1.4zM261.1,513.1h1.4v1.4h-1.4zM205.6,595.0h1.4v1.4h-1.4zM254.7,562.9h1.4v1.4h-1.4zM146.8,595.0h1.4v1.4h-1.4zM195.5,602.8h1.4v1.4h-1.4zM291.8,483.9h1.4v1.4h-1.4zM337.2,471.1h1.4v1.4h-1.4zM230.9,583.5h1.4v1.4h-1.4zM243.7,565.8h1.4v1.4h-1.4zM395.1,531.2h1.4v1.4h-1.4zM357.5,435.6h1.4v1.4h-1.4zM226.1,604.0h1.4v1.4h-1.4zM279.3,521.5h1.4v1.4h-1.4zM403.4,444.8h1.4v1.4h-1.4zM270.8,569.6h1.4v1.4h-1.4zM352.6,425.7h1.4v1.4h-1.4zM380.9,486.7h1.4v1.4h-1.4zM349.3,442.0h1.4v1.4h-1.4zM260.3,535.8h1.4v1.4h-1.4zM147.3,608.4h1.4v1.4h-1.4zM399.6,483.6h1.4v1.4h-1.4zM449.8,524.6h1.4v1.4h-1.4zM350.7,505.3h1.4v1.4h-1.4zM326.6,533.0h1.4v1.4h-1.4zM208.4,585.0h1.4v1.4h-1.4zM381.6,512.6h1.4v1.4h-1.4zM396.1,445.0h1.4v1.4h-1.4zM343.1,476.5h1.4v1.4h-1.4zM399.6,486.2h1.4v1.4h-1.4zM300.2,507.7h1.4v1.4h-1.4zM305.5,529.2h1.4v1.4h-1.4zM351.5,549.6h1.4v1.4h-1.4zM304.3,563.5h1.4v1.4h-1.4zM453.9,458.4h1.4v1.4h-1.4zM286.1,511.4h1.4v1.4h-1.4zM301.5,473.6h1.4v1.4h-1.4zM292.9,452.5h1.4v1.4h-1.4zM412.7,480.0h1.4v1.4h-1.4zM286.1,499.0h1.4v1.4h-1.4zM348.5,510.1h1.4v1.4h-1.4zM200.5,557.1h1.4v1.4h-1.4zM213.4,577.5h1.4v1.4h-1.4zM250.9,534.0h1.4v1.4h-1.4zM366.7,542.8h1.4v1.4h-1.4zM230.6,557.8h1.4v1.4h-1.4zM335.5,451.4h1.4v1.4h-1.4zM196.5,554.0h1.4v1.4h-1.4zM423.9,402.6h1.4v1.4h-1.4zM431.2,515.0h1.4v1.4h-1.4zM441.3,598.2h1.4v1.4h-1.4zM257.1,566.1h1.4v1.4h-1.4zM338.5,489.9h1.4v1.4h-1.4zM229.8,501.4h1.4v1.4h-1.4zM441.4,500.6h1.4v1.4h-1.4zM298.4,473.2h1.4v1.4h-1.4zM268.8,549.1h1.4v1.4h-1.4zM184.8,602.9h1.4v1.4h-1.4zM276.4,516.1h1.4v1.4h-1.4zM166.1,601.5h1.4v1.4h-1.4zM240.8,606.6h1.4v1.4h-1.4zM144.1,604.2h1.4v1.4h-1.4zM302.3,586.2h1.4v1.4h-1.4zM350.8,506.2h1.4v1.4h-1.4zM270.8,534.2h1.4v1.4h-1.4zM324.5,376.9h1.4v1.4h-1.4zM223.0,559.6h1.4v1.4h-1.4zM204.8,602.1h1.4v1.4h-1.4zM447.6,486.8h1.4v1.4h-1.4zM390.5,431.7h1.4v1.4h-1.4zM336.1,516.4h1.4v1.4h-1.4zM403.6,533.1h1.4v1.4h-1.4zM273.3,546.4h1.4v1.4h-1.4zM367.5,465.4h1.4v1.4h-1.4zM203.0,582.2h1.4v1.4h-1.4zM231.6,552.5h1.4v1.4h-1.4zM434.8,526.3h1.4v1.4h-1.4zM162.6,605.7h1.4v1.4h-1.4zM356.1,471.8h1.4v1.4h-1.4zM369.4,489.4h1.4v1.4h-1.4zM230.6,559.9h1.4v1.4h-1.4zM217.1,568.6h1.4v1.4h-1.4zM248.5,546.1h1.4v1.4h-1.4zM306.1,521.0h1.4v1.4h-1.4zM329.9,422.7h1.4v1.4h-1.4zM391.1,446.6h1.4v1.4h-1.4zM141.8,600.2h1.4v1.4h-1.4zM296.4,467.3h1.4v1.4h-1.4zM368.7,503.7h1.4v1.4h-1.4zM142.5,604.4h1.4v1.4h-1.4zM157.9,609.5h1.4v1.4h-1.4zM158.4,575.5h1.4v1.4h-1.4zM418.6,564.2h1.4v1.4h-1.4zM214.5,556.9h1.4v1.4h-1.4zM256.4,584.0h1.4v1.4h-1.4zM249.9,519.9h1.4v1.4h-1.4zM209.2,580.5h1.4v1.4h-1.4zM238.3,592.9h1.4v1.4h-1.4zM455.7,469.1h1.4v1.4h-1.4zM204.1,577.0h1.4v1.4h-1.4zM400.2,435.7h1.4v1.4h-1.4zM209.9,576.9h1.4v1.4h-1.4zM294.6,513.0h1.4v1.4h-1.4zM193.2,586.1h1.4v1.4h-1.4zM191.1,604.3h1.4v1.4h-1.4zM447.9,533.4h1.4v1.4h-1.4zM253.9,560.4h1.4v1.4h-1.4zM411.7,552.8h1.4v1.4h-1.4zM218.2,582.2h1.4v1.4h-1.4zM428.2,503.0h1.4v1.4h-1.4zM398.9,460.3h1.4v1.4h-1.4zM380.2,480.7h1.4v1.4h-1.4zM144.4,602.4h1.4v1.4h-1.4zM144.2,607.3h1.4v1.4h-1.4zM332.3,431.6h1.4v1.4h-1.4zM199.4,595.3h1.4v1.4h-1.4zM134.2,607.5h1.4v1.4h-1.4zM188.6,594.0h1.4v1.4h-1.4zM444.1,518.9h1.4v1.4h-1.4zM378.9,496.4h1.4v1.4h-1.4zM130.9,599.9h1.4v1.4h-1.4zM189.4,603.6h1.4v1.4h-1.4zM377.0,437.3h1.4v1.4h-1.4zM335.4,436.8h1.4v1.4h-1.4zM153.7,601.6h1.4v1.4h-1.4zM269.5,543.8h1.4v1.4h-1.4zM188.7,589.8h1.4v1.4h-1.4zM421.7,548.9h1.4v1.4h-1.4zM411.1,479.5h1.4v1.4h-1.4zM319.9,510.5h1.4v1.4h-1.4zM401.5,469.2h1.4v1.4h-1.4zM141.0,594.4h1.4v1.4h-1.4zM228.8,545.8h1.4v1.4h-1.4zM283.3,496.4h1.4v1.4h-1.4zM243.4,553.2h1.4v1.4h-1.4zM195.2,598.6h1.4v1.4h-1.4zM256.8,523.1h1.4v1.4h-1.4zM226.9,527.7h1.4v1.4h-1.4zM230.6,597.2h1.4v1.4h-1.4zM173.5,585.8h1.4v1.4h-1.4zM438.7,550.7h1.4v1.4h-1.4zM449.1,524.3h1.4v1.4h-1.4zM162.1,599.5h1.4v1.4h-1.4zM418.9,559.7h1.4v1.4h-1.4zM160.6,596.4h1.4v1.4h-1.4zM288.8,553.1h1.4v1.4h-1.4zM185.1,585.4h1.4v1.4h-1.4zM405.8,510.6h1.4v1.4h-1.4zM239.4,562.3h1.4v1.4h-1.4zM174.6,600.8h1.4v1.4h-1.4zM315.5,514.5h1.4v1.4h-1.4zM187.4,596.0h1.4v1.4h-1.4zM197.7,576.7h1.4v1.4h-1.4zM334.7,517.0h1.4v1.4h-1.4zM388.7,376.1h1.4v1.4h-1.4zM377.0,511.3h1.4v1.4h-1.4zM318.0,499.8h1.4v1.4h-1.4zM206.4,606.1h1.4v1.4h-1.4zM343.0,474.5h1.4v1.4h-1.4zM415.1,480.7h1.4v1.4h-1.4zM190.0,610.0h1.4v1.4h-1.4zM426.3,521.8h1.4v1.4h-1.4zM335.9,497.7h1.4v1.4h-1.4zM248.9,579.2h1.4v1.4h-1.4zM425.3,525.6h1.4v1.4h-1.4zM402.5,611.2h1.4v1.4h-1.4zM294.1,500.3h1.4v1.4h-1.4zM138.9,597.9h1.4v1.4h-1.4zM387.4,468.9h1.4v1.4h-1.4zM299.2,474.0h1.4v1.4h-1.4zM130.8,604.5h1.4v1.4h-1.4zM412.2,531.1h1.4v1.4h-1.4zM219.0,583.7h1.4v1.4h-1.4zM446.9,519.5h1.4v1.4h-1.4zM349.4,506.6h1.4v1.4h-1.4zM171.0,597.3h1.4v1.4h-1.4zM152.0,604.1h1.4v1.4h-1.4zM305.3,528.7h1.4v1.4h-1.4zM131.4,603.6h1.4v1.4h-1.4zM434.9,507.7h1.4v1.4h-1.4zM211.5,559.0h1.4v1.4h-1.4zM289.7,518.3h1.4v1.4h-1.4zM356.7,471.2h1.4v1.4h-1.4zM380.7,469.6h1.4v1.4h-1.4zM185.4,592.6h1.4v1.4h-1.4zM438.1,499.2h1.4v1.4h-1.4zM136.5,607.4h1.4v1.4h-1.4zM248.3,528.7h1.4v1.4h-1.4zM175.3,594.1h1.4v1.4h-1.4zM187.4,583.1h1.4v1.4h-1.4zM422.7,498.8h1.4v1.4h-1.4zM148.9,600.4h1.4v1.4h-1.4zM329.5,533.2h1.4v1.4h-1.4zM312.2,554.8h1.4v1.4h-1.4zM200.4,587.0h1.4v1.4h-1.4zM402.0,459.6h1.4v1.4h-1.4zM179.2,598.8h1.4v1.4h-1.4zM171.5,592.5h1.4v1.4h-1.4zM165.3,598.2h1.4v1.4h-1.4zM195.5,553.4h1.4v1.4h-1.4zM242.5,555.3h1.4v1.4h-1.4zM264.9,574.3h1.4v1.4h-1.4zM428.9,432.3h1.4v1.4h-1.4zM407.3,449.3h1.4v1.4h-1.4zM200.6,566.9h1.4v1.4h-1.4zM172.3,602.7h1.4v1.4h-1.4zM237.9,590.8h1.4v1.4h-1.4zM160.8,610.1h1.4v1.4h-1.4zM441.1,514.2h1.4v1.4h-1.4zM296.8,506.1h1.4v1.4h-1.4zM139.1,609.5h1.4v1.4h-1.4zM219.2,550.2h1.4v1.4h-1.4zM171.2,592.4h1.4v1.4h-1.4zM255.5,529.9h1.4v1.4h-1.4zM236.1,566.6h1.4v1.4h-1.4zM221.5,548.6h1.4v1.4h-1.4zM219.8,579.5h1.4v1.4h-1.4zM235.9,559.4h1.4v1.4h-1.4zM404.5,470.1h1.4v1.4h-1.4zM283.4,566.6h1.4v1.4h-1.4zM400.9,455.9h1.4v1.4h-1.4zM185.7,601.3h1.4v1.4h-1.4zM204.7,598.5h1.4v1.4h-1.4zM436.1,427.7h1.4v1.4h-1.4zM273.6,511.6h1.4v1.4h-1.4zM442.4,532.0h1.4v1.4h-1.4zM359.2,459.9h1.4v1.4h-1.4zM152.0,582.4h1.4v1.4h-1.4zM327.9,541.3h1.4v1.4h-1.4zM258.0,573.9h1.4v1.4h-1.4zM341.7,508.7h1.4v1.4h-1.4zM231.5,551.1h1.4v1.4h-1.4zM327.7,427.9h1.4v1.4h-1.4zM258.0,536.1h1.4v1.4h-1.4zM405.1,453.1h1.4v1.4h-1.4zM194.7,573.4h1.4v1.4h-1.4zM332.9,529.9h1.4v1.4h-1.4zM453.6,493.1h1.4v1.4h-1.4zM350.7,539.0h1.4v1.4h-1.4zM256.6,551.5h1.4v1.4h-1.4zM310.9,475.1h1.4v1.4h-1.4zM392.5,484.6h1.4v1.4h-1.4zM255.8,551.9h1.4v1.4h-1.4zM319.1,488.5h1.4v1.4h-1.4zM377.4,489.3h1.4v1.4h-1.4zM357.7,539.6h1.4v1.4h-1.4zM180.2,590.3h1.4v1.4h-1.4zM400.3,448.6h1.4v1.4h-1.4zM217.4,585.1h1.4v1.4h-1.4zM267.2,553.3h1.4v1.4h-1.4zM174.0,588.3h1.4v1.4h-1.4zM228.0,569.7h1.4v1.4h-1.4zM318.5,509.3h1.4v1.4h-1.4zM195.0,589.5h1.4v1.4h-1.4zM332.4,510.6h1.4v1.4h-1.4zM335.0,483.0h1.4v1.4h-1.4zM264.5,537.6h1.4v1.4h-1.4zM326.4,496.6h1.4v1.4h-1.4zM361.9,437.8h1.4v1.4h-1.4zM241.8,600.7h1.4v1.4h-1.4zM393.3,478.6h1.4v1.4h-1.4zM405.5,531.9h1.4v1.4h-1.4zM416.9,490.9h1.4v1.4h-1.4zM380.9,494.0h1.4v1.4h-1.4zM224.9,573.5h1.4v1.4h-1.4zM271.4,522.9h1.4v1.4h-1.4zM322.7,462.3h1.4v1.4h-1.4zM440.7,549.9h1.4v1.4h-1.4zM240.0,561.8h1.4v1.4h-1.4zM159.9,599.1h1.4v1.4h-1.4zM172.0,600.9h1.4v1.4h-1.4zM232.6,546.7h1.4v1.4h-1.4zM239.9,545.2h1.4v1.4h-1.4zM144.2,594.2h1.4v1.4h-1.4zM431.6,508.3h1.4v1.4h-1.4zM162.8,593.5h1.4v1.4h-1.4zM406.6,545.5h1.4v1.4h-1.4zM248.5,510.7h1.4v1.4h-1.4zM376.4,435.8h1.4v1.4h-1.4zM286.0,472.3h1.4v1.4h-1.4zM220.7,578.4h1.4v1.4h-1.4zM286.5,485.4h1.4v1.4h-1.4zM411.5,539.4h1.4v1.4h-1.4zM383.3,495.4h1.4v1.4h-1.4zM216.5,533.9h1.4v1.4h-1.4zM327.6,465.5h1.4v1.4h-1.4zM440.5,580.5h1.4v1.4h-1.4zM329.3,511.5h1.4v1.4h-1.4zM295.1,520.0h1.4v1.4h-1.4zM437.4,552.9h1.4v1.4h-1.4zM418.8,552.0h1.4v1.4h-1.4zM441.4,544.2h1.4v1.4h-1.4zM357.1,409.3h1.4v1.4h-1.4zM451.2,485.4h1.4v1.4h-1.4zM194.3,601.4h1.4v1.4h-1.4zM157.4,588.2h1.4v1.4h-1.4zM261.8,566.0h1.4v1.4h-1.4zM416.8,566.7h1.4v1.4h-1.4zM247.3,539.8h1.4v1.4h-1.4zM246.3,567.7h1.4v1.4h-1.4zM284.9,518.0h1.4v1.4h-1.4zM161.5,604.5h1.4v1.4h-1.4zM181.4,588.7h1.4v1.4h-1.4zM180.0,602.4h1.4v1.4h-1.4zM349.7,470.3h1.4v1.4h-1.4zM269.6,560.7h1.4v1.4h-1.4zM400.0,554.4h1.4v1.4h-1.4zM242.8,567.3h1.4v1.4h-1.4zM314.8,488.2h1.4v1.4h-1.4zM400.1,476.6h1.4v1.4h-1.4zM362.1,456.2h1.4v1.4h-1.4zM328.6,450.1h1.4v1.4h-1.4zM308.1,506.5h1.4v1.4h-1.4zM154.5,610.4h1.4v1.4h-1.4zM145.6,607.0h1.4v1.4h-1.4zM310.3,477.8h1.4v1.4h-1.4zM248.3,549.4h1.4v1.4h-1.4zM154.9,604.9h1.4v1.4h-1.4zM184.2,595.1h1.4v1.4h-1.4zM273.3,503.5h1.4v1.4h-1.4zM362.1,424.6h1.4v1.4h-1.4zM142.5,600.6h1.4v1.4h-1.4zM327.8,496.1h1.4v1.4h-1.4zM179.4,560.8h1.4v1.4h-1.4zM345.6,486.8h1.4v1.4h-1.4zM323.9,482.7h1.4v1.4h-1.4zM215.2,560.9h1.4v1.4h-1.4zM153.9,596.0h1.4v1.4h-1.4zM392.9,407.5h1.4v1.4h-1.4zM320.8,586.0h1.4v1.4h-1.4zM297.9,501.0h1.4v1.4h-1.4zM420.3,454.3h1.4v1.4h-1.4zM388.0,430.1h1.4v1.4h-1.4zM138.3,593.1h1.4v1.4h-1.4zM175.4,601.0h1.4v1.4h-1.4zM135.6,603.5h1.4v1.4h-1.4zM311.2,449.9h1.4v1.4h-1.4zM262.1,541.4h1.4v1.4h-1.4zM216.9,580.1h1.4v1.4h-1.4zM239.7,609.3h1.4v1.4h-1.4zM163.4,600.7h1.4v1.4h-1.4zM206.9,580.4h1.4v1.4h-1.4zM361.0,462.5h1.4v1.4h-1.4zM232.3,574.4h1.4v1.4h-1.4zM337.7,495.7h1.4v1.4h-1.4zM256.6,509.4h1.4v1.4h-1.4zM324.5,505.9h1.4v1.4h-1.4zM367.7,485.2h1.4v1.4h-1.4zM430.3,511.3h1.4v1.4h-1.4zM193.8,568.0h1.4v1.4h-1.4zM422.7,527.3h1.4v1.4h-1.4zM303.7,492.2h1.4v1.4h-1.4zM317.5,388.3h1.4v1.4h-1.4zM163.3,610.1h1.4v1.4h-1.4zM427.9,471.0h1.4v1.4h-1.4zM222.9,562.4h1.4v1.4h-1.4zM242.7,555.7h1.4v1.4h-1.4zM422.2,530.3h1.4v1.4h-1.4zM316.2,493.7h1.4v1.4h-1.4zM304.0,500.7h1.4v1.4h-1.4zM306.7,507.4h1.4v1.4h-1.4zM433.7,463.9h1.4v1.4h-1.4zM356.4,423.4h1.4v1.4h-1.4zM180.4,600.0h1.4v1.4h-1.4zM257.2,588.6h1.4v1.4h-1.4zM208.9,594.1h1.4v1.4h-1.4zM166.3,597.8h1.4v1.4h-1.4zM217.1,597.0h1.4v1.4h-1.4zM329.6,592.3h1.4v1.4h-1.4zM228.1,544.8h1.4v1.4h-1.4zM196.2,574.7h1.4v1.4h-1.4zM175.4,599.6h1.4v1.4h-1.4zM144.9,587.7h1.4v1.4h-1.4zM275.0,574.5h1.4v1.4h-1.4zM429.7,563.7h1.4v1.4h-1.4zM328.9,526.7h1.4v1.4h-1.4zM195.4,584.1h1.4v1.4h-1.4zM401.8,487.0h1.4v1.4h-1.4zM321.4,478.4h1.4v1.4h-1.4zM200.0,582.1h1.4v1.4h-1.4zM292.9,484.8h1.4v1.4h-1.4zM354.9,454.4h1.4v1.4h-1.4zM136.9,600.8h1.4v1.4h-1.4zM207.3,560.0h1.4v1.4h-1.4zM296.5,560.6h1.4v1.4h-1.4zM418.3,532.1h1.4v1.4h-1.4zM175.3,592.2h1.4v1.4h-1.4zM166.0,606.7h1.4v1.4h-1.4zM136.0,605.7h1.4v1.4h-1.4zM416.0,500.2h1.4v1.4h-1.4zM369.8,465.2h1.4v1.4h-1.4zM211.1,582.1h1.4v1.4h-1.4zM425.9,487.4h1.4v1.4h-1.4zM366.8,475.8h1.4v1.4h-1.4zM226.5,552.8h1.4v1.4h-1.4zM170.9,595.9h1.4v1.4h-1.4zM227.7,579.6h1.4v1.4h-1.4zM302.6,490.8h1.4v1.4h-1.4zM383.1,468.8h1.4v1.4h-1.4zM388.1,486.5h1.4v1.4h-1.4zM274.2,516.2h1.4v1.4h-1.4zM334.3,490.7h1.4v1.4h-1.4zM344.7,513.1h1.4v1.4h-1.4zM218.3,585.0h1.4v1.4h-1.4zM218.0,555.9h1.4v1.4h-1.4zM355.4,471.2h1.4v1.4h-1.4zM281.8,522.0h1.4v1.4h-1.4zM135.7,601.9h1.4v1.4h-1.4zM189.4,563.3h1.4v1.4h-1.4zM251.4,549.5h1.4v1.4h-1.4zM322.8,512.4h1.4v1.4h-1.4zM319.6,461.6h1.4v1.4h-1.4zM356.2,480.7h1.4v1.4h-1.4zM394.7,494.1h1.4v1.4h-1.4zM214.9,590.5h1.4v1.4h-1.4zM166.7,593.1h1.4v1.4h-1.4zM349.9,505.2h1.4v1.4h-1.4zM268.0,515.6h1.4v1.4h-1.4zM202.8,587.8h1.4v1.4h-1.4zM287.8,554.9h1.4v1.4h-1.4zM302.5,474.4h1.4v1.4h-1.4zM137.2,589.6h1.4v1.4h-1.4zM354.3,447.3h1.4v1.4h-1.4zM194.1,584.2h1.4v1.4h-1.4zM389.4,411.8h1.4v1.4h-1.4zM285.5,512.5h1.4v1.4h-1.4zM307.8,526.7h1.4v1.4h-1.4zM203.7,565.3h1.4v1.4h-1.4zM256.9,502.2h1.4v1.4h-1.4zM134.9,599.9h1.4v1.4h-1.4zM155.9,601.2h1.4v1.4h-1.4zM410.3,425.1h1.4v1.4h-1.4zM257.6,533.8h1.4v1.4h-1.4zM423.8,565.3h1.4v1.4h-1.4zM426.8,434.9h1.4v1.4h-1.4zM293.0,507.2h1.4v1.4h-1.4zM152.1,605.9h1.4v1.4h-1.4zM131.8,603.0h1.4v1.4h-1.4zM150.3,590.7h1.4v1.4h-1.4zM273.0,528.4h1.4v1.4h-1.4zM172.9,598.8h1.4v1.4h-1.4zM150.9,578.4h1.4v1.4h-1.4zM326.7,403.3h1.4v1.4h-1.4zM220.6,568.2h1.4v1.4h-1.4zM228.0,579.0h1.4v1.4h-1.4zM370.3,429.7h1.4v1.4h-1.4zM207.2,592.0h1.4v1.4h-1.4zM258.3,519.9h1.4v1.4h-1.4zM422.8,533.6h1.4v1.4h-1.4zM231.1,562.6h1.4v1.4h-1.4zM421.7,529.3h1.4v1.4h-1.4zM139.1,606.7h1.4v1.4h-1.4zM277.8,561.7h1.4v1.4h-1.4zM302.5,499.5h1.4v1.4h-1.4zM283.0,518.8h1.4v1.4h-1.4zM290.3,496.2h1.4v1.4h-1.4zM410.3,603.8h1.4v1.4h-1.4zM289.1,545.9h1.4v1.4h-1.4zM353.2,463.0h1.4v1.4h-1.4zM413.7,477.6h1.4v1.4h-1.4zM419.1,507.7h1.4v1.4h-1.4zM205.2,577.4h1.4v1.4h-1.4zM389.9,426.2h1.4v1.4h-1.4zM222.9,594.2h1.4v1.4h-1.4zM283.7,588.5h1.4v1.4h-1.4zM370.2,515.5h1.4v1.4h-1.4zM234.5,597.9h1.4v1.4h-1.4zM415.0,459.6h1.4v1.4h-1.4zM158.6,610.8h1.4v1.4h-1.4zM214.8,558.1h1.4v1.4h-1.4zM158.1,607.5h1.4v1.4h-1.4zM131.5,602.2h1.4v1.4h-1.4zM452.6,521.2h1.4v1.4h-1.4zM168.3,604.0h1.4v1.4h-1.4zM150.2,598.1h1.4v1.4h-1.4zM380.7,431.0h1.4v1.4h-1.4zM397.7,481.3h1.4v1.4h-1.4zM174.7,596.1h1.4v1.4h-1.4zM421.6,476.8h1.4v1.4h-1.4zM235.9,588.4h1.4v1.4h-1.4zM399.5,519.5h1.4v1.4h-1.4zM220.5,567.4h1.4v1.4h-1.4zM169.4,604.8h1.4v1.4h-1.4zM193.0,593.0h1.4v1.4h-1.4zM448.1,496.0h1.4v1.4h-1.4zM394.1,482.6h1.4v1.4h-1.4zM136.8,601.5h1.4v1.4h-1.4zM353.7,490.6h1.4v1.4h-1.4zM325.3,488.1h1.4v1.4h-1.4zM244.5,533.0h1.4v1.4h-1.4zM264.1,516.9h1.4v1.4h-1.4zM438.1,435.4h1.4v1.4h-1.4zM208.1,569.9h1.4v1.4h-1.4zM156.6,603.6h1.4v1.4h-1.4zM342.3,470.0h1.4v1.4h-1.4zM392.3,418.3h1.4v1.4h-1.4zM441.0,546.9h1.4v1.4h-1.4zM282.4,501.0h1.4v1.4h-1.4zM158.7,607.1h1.4v1.4h-1.4zM268.4,588.0h1.4v1.4h-1.4zM233.6,604.4h1.4v1.4h-1.4zM316.6,487.6h1.4v1.4h-1.4zM254.2,541.0h1.4v1.4h-1.4zM156.9,591.0h1.4v1.4h-1.4zM443.1,497.8h1.4v1.4h-1.4zM174.7,604.2h1.4v1.4h-1.4zM190.5,598.4h1.4v1.4h-1.4zM410.4,523.4h1.4v1.4h-1.4zM146.7,608.3h1.4v1.4h-1.4zM146.9,604.7h1.4v1.4h-1.4zM225.0,555.9h1.4v1.4h-1.4zM329.2,493.7h1.4v1.4h-1.4zM278.9,545.9h1.4v1.4h-1.4zM206.5,578.2h1.4v1.4h-1.4zM406.4,586.5h1.4v1.4h-1.4zM383.2,452.0h1.4v1.4h-1.4zM199.6,590.2h1.4v1.4h-1.4zM280.1,534.1h1.4v1.4h-1.4zM336.4,477.4h1.4v1.4h-1.4zM266.9,609.3h1.4v1.4h-1.4zM270.9,523.7h1.4v1.4h-1.4zM233.3,553.5h1.4v1.4h-1.4zM432.2,483.8h1.4v1.4h-1.4zM152.1,604.9h1.4v1.4h-1.4zM156.5,597.0h1.4v1.4h-1.4zM216.3,592.8h1.4v1.4h-1.4zM416.5,455.6h1.4v1.4h-1.4zM356.3,473.3h1.4v1.4h-1.4zM224.5,562.0h1.4v1.4h-1.4zM351.0,426.9h1.4v1.4h-1.4zM363.2,496.5h1.4v1.4h-1.4zM240.2,515.7h1.4v1.4h-1.4zM331.5,466.6h1.4v1.4h-1.4zM439.1,492.6h1.4v1.4h-1.4zM164.0,602.6h1.4v1.4h-1.4zM402.4,498.5h1.4v1.4h-1.4zM245.5,568.4h1.4v1.4h-1.4zM253.4,580.4h1.4v1.4h-1.4zM433.6,522.5h1.4v1.4h-1.4zM405.2,523.6h1.4v1.4h-1.4zM379.3,448.5h1.4v1.4h-1.4zM309.2,489.1h1.4v1.4h-1.4zM319.8,501.9h1.4v1.4h-1.4zM254.1,561.9h1.4v1.4h-1.4zM361.3,507.7h1.4v1.4h-1.4zM399.9,535.0h1.4v1.4h-1.4zM385.3,459.4h1.4v1.4h-1.4zM135.5,609.5h1.4v1.4h-1.4zM415.3,529.7h1.4v1.4h-1.4zM210.8,582.0h1.4v1.4h-1.4zM411.7,579.9h1.4v1.4h-1.4zM305.2,468.2h1.4v1.4h-1.4zM353.6,412.4h1.4v1.4h-1.4zM407.3,498.7h1.4v1.4h-1.4zM158.0,582.7h1.4v1.4h-1.4zM327.0,597.6h1.4v1.4h-1.4zM410.0,404.9h1.4v1.4h-1.4zM397.0,544.2h1.4v1.4h-1.4zM207.8,578.3h1.4v1.4h-1.4zM403.8,545.9h1.4v1.4h-1.4zM386.9,446.8h1.4v1.4h-1.4zM246.5,604.0h1.4v1.4h-1.4zM384.2,509.4h1.4v1.4h-1.4zM170.0,611.0h1.4v1.4h-1.4zM220.8,564.0h1.4v1.4h-1.4zM211.5,564.6h1.4v1.4h-1.4zM147.0,598.9h1.4v1.4h-1.4zM160.6,599.8h1.4v1.4h-1.4zM407.1,443.8h1.4v1.4h-1.4zM171.6,600.8h1.4v1.4h-1.4zM263.4,590.7h1.4v1.4h-1.4zM345.4,398.0h1.4v1.4h-1.4zM227.3,563.7h1.4v1.4h-1.4zM331.0,466.7h1.4v1.4h-1.4zM281.8,528.9h1.4v1.4h-1.4zM254.9,567.9h1.4v1.4h-1.4zM361.9,478.9h1.4v1.4h-1.4zM176.2,588.8h1.4v1.4h-1.4zM270.5,491.3h1.4v1.4h-1.4zM417.0,530.9h1.4v1.4h-1.4zM315.4,489.3h1.4v1.4h-1.4zM453.9,464.5h1.4v1.4h-1.4zM152.6,602.2h1.4v1.4h-1.4zM328.2,470.7h1.4v1.4h-1.4zM201.6,585.1h1.4v1.4h-1.4zM342.4,457.4h1.4v1.4h-1.4zM300.8,519.3h1.4v1.4h-1.4zM149.9,604.7h1.4v1.4h-1.4zM246.9,554.1h1.4v1.4h-1.4zM451.5,586.9h1.4v1.4h-1.4zM244.5,572.5h1.4v1.4h-1.4zM146.2,611.0h1.4v1.4h-1.4zM176.6,603.7h1.4v1.4h-1.4zM142.5,602.4h1.4v1.4h-1.4zM174.6,602.9h1.4v1.4h-1.4zM195.4,593.2h1.4v1.4h-1.4zM401.8,508.2h1.4v1.4h-1.4zM232.0,547.2h1.4v1.4h-1.4zM426.6,472.6h1.4v1.4h-1.4zM176.0,603.6h1.4v1.4h-1.4zM188.3,600.1h1.4v1.4h-1.4zM434.9,533.7h1.4v1.4h-1.4zM429.5,378.9h1.4v1.4h-1.4zM323.7,458.1h1.4v1.4h-1.4zM266.7,581.6h1.4v1.4h-1.4zM437.4,478.5h1.4v1.4h-1.4zM420.9,516.6h1.4v1.4h-1.4zM340.7,472.6h1.4v1.4h-1.4zM237.6,564.4h1.4v1.4h-1.4zM341.8,563.1h1.4v1.4h-1.4zM243.6,548.4h1.4v1.4h-1.4zM448.2,491.8h1.4v1.4h-1.4zM220.6,557.2h1.4v1.4h-1.4zM421.6,566.2h1.4v1.4h-1.4zM352.5,462.6h1.4v1.4h-1.4zM269.2,583.6h1.4v1.4h-1.4zM395.5,542.1h1.4v1.4h-1.4zM445.8,525.2h1.4v1.4h-1.4zM333.5,445.2h1.4v1.4h-1.4zM399.4,571.5h1.4v1.4h-1.4zM274.3,556.4h1.4v1.4h-1.4zM154.0,610.7h1.4v1.4h-1.4zM246.3,591.9h1.4v1.4h-1.4zM186.7,579.3h1.4v1.4h-1.4zM448.0,481.1h1.4v1.4h-1.4zM286.9,471.6h1.4v1.4h-1.4zM432.3,478.8h1.4v1.4h-1.4zM336.8,515.7h1.4v1.4h-1.4zM357.5,465.9h1.4v1.4h-1.4zM366.5,521.4h1.4v1.4h-1.4zM292.2,486.9h1.4v1.4h-1.4zM428.0,478.6h1.4v1.4h-1.4zM437.6,512.8h1.4v1.4h-1.4zM219.6,555.7h1.4v1.4h-1.4zM358.5,484.7h1.4v1.4h-1.4zM131.2,595.9h1.4v1.4h-1.4zM251.5,536.6h1.4v1.4h-1.4zM199.0,588.6h1.4v1.4h-1.4zM253.6,594.0h1.4v1.4h-1.4zM241.6,527.9h1.4v1.4h-1.4zM424.6,473.8h1.4v1.4h-1.4zM201.7,600.2h1.4v1.4h-1.4zM369.0,432.7h1.4v1.4h-1.4zM245.8,595.8h1.4v1.4h-1.4zM241.6,546.7h1.4v1.4h-1.4zM136.0,605.5h1.4v1.4h-1.4zM441.9,433.1h1.4v1.4h-1.4zM381.0,459.3h1.4v1.4h-1.4zM167.9,595.3h1.4v1.4h-1.4zM423.7,555.4h1.4v1.4h-1.4zM278.3,545.6h1.4v1.4h-1.4zM348.0,388.8h1.4v1.4h-1.4zM403.5,510.5h1.4v1.4h-1.4zM182.6,592.5h1.4v1.4h-1.4zM382.6,491.9h1.4v1.4h-1.4zM224.4,578.6h1.4v1.4h-1.4zM307.9,487.5h1.4v1.4h-1.4zM273.0,562.2h1.4v1.4h-1.4zM422.8,556.0h1.4v1.4h-1.4zM257.8,562.5h1.4v1.4h-1.4zM209.7,555.9h1.4v1.4h-1.4zM131.5,601.3h1.4v1.4h-1.4zM350.8,476.5h1.4v1.4h-1.4zM153.3,610.4h1.4v1.4h-1.4zM154.3,586.7h1.4v1.4h-1.4zM230.9,509.4h1.4v1.4h-1.4zM260.3,533.6h1.4v1.4h-1.4zM203.9,567.4h1.4v1.4h-1.4zM333.2,501.3h1.4v1.4h-1.4zM174.5,597.6h1.4v1.4h-1.4zM332.9,495.5h1.4v1.4h-1.4zM447.4,517.1h1.4v1.4h-1.4zM267.3,513.9h1.4v1.4h-1.4zM326.2,470.8h1.4v1.4h-1.4zM314.5,484.0h1.4v1.4h-1.4zM315.3,509.2h1.4v1.4h-1.4zM355.1,417.6h1.4v1.4h-1.4zM431.3,467.4h1.4v1.4h-1.4zM280.7,469.6h1.4v1.4h-1.4zM309.9,439.0h1.4v1.4h-1.4zM164.0,599.3h1.4v1.4h-1.4zM304.3,509.3h1.4v1.4h-1.4zM416.3,587.4h1.4v1.4h-1.4zM241.2,553.7h1.4v1.4h-1.4zM135.6,603.4h1.4v1.4h-1.4zM294.7,455.4h1.4v1.4h-1.4zM399.1,552.2h1.4v1.4h-1.4zM410.9,495.7h1.4v1.4h-1.4zM411.1,529.3h1.4v1.4h-1.4zM213.5,576.3h1.4v1.4h-1.4zM226.1,540.3h1.4v1.4h-1.4zM269.0,541.6h1.4v1.4h-1.4zM173.4,606.6h1.4v1.4h-1.4zM414.7,498.4h1.4v1.4h-1.4zM407.8,571.6h1.4v1.4h-1.4zM157.0,607.0h1.4v1.4h-1.4zM412.5,449.0h1.4v1.4h-1.4zM253.0,532.4h1.4v1.4h-1.4zM184.9,571.1h1.4v1.4h-1.4zM134.0,601.4h1.4v1.4h-1.4zM382.0,489.0h1.4v1.4h-1.4zM388.4,460.3h1.4v1.4h-1.4zM343.5,492.3h1.4v1.4h-1.4zM455.4,488.6h1.4v1.4h-1.4zM399.0,429.3h1.4v1.4h-1.4zM297.9,496.0h1.4v1.4h-1.4zM245.9,531.0h1.4v1.4h-1.4zM277.6,524.8h1.4v1.4h-1.4zM264.3,528.9h1.4v1.4h-1.4zM264.0,535.9h1.4v1.4h-1.4zM213.7,591.9h1.4v1.4h-1.4zM185.5,592.1h1.4v1.4h-1.4zM182.2,599.8h1.4v1.4h-1.4zM226.9,590.5h1.4v1.4h-1.4zM417.4,363.4h1.4v1.4h-1.4zM386.8,476.3h1.4v1.4h-1.4zM392.3,411.9h1.4v1.4h-1.4zM301.0,545.2h1.4v1.4h-1.4zM152.0,594.8h1.4v1.4h-1.4zM269.9,560.8h1.4v1.4h-1.4zM143.9,601.8h1.4v1.4h-1.4zM157.5,595.8h1.4v1.4h-1.4zM208.5,588.0h1.4v1.4h-1.4zM432.4,488.5h1.4v1.4h-1.4zM195.4,609.8h1.4v1.4h-1.4zM224.7,581.4h1.4v1.4h-1.4zM389.8,444.8h1.4v1.4h-1.4zM285.3,520.4h1.4v1.4h-1.4zM136.7,602.4h1.4v1.4h-1.4zM240.1,576.8h1.4v1.4h-1.4zM360.8,471.8h1.4v1.4h-1.4zM208.4,579.1h1.4v1.4h-1.4zM220.7,592.4h1.4v1.4h-1.4zM351.6,416.5h1.4v1.4h-1.4zM182.9,595.5h1.4v1.4h-1.4zM409.1,588.7h1.4v1.4h-1.4zM359.6,487.8h1.4v1.4h-1.4zM337.9,459.6h1.4v1.4h-1.4zM173.3,582.5h1.4v1.4h-1.4zM185.1,602.6h1.4v1.4h-1.4zM450.4,496.3h1.4v1.4h-1.4zM405.7,479.2h1.4v1.4h-1.4zM142.6,602.1h1.4v1.4h-1.4zM302.9,485.5h1.4v1.4h-1.4zM324.3,513.8h1.4v1.4h-1.4zM449.7,585.0h1.4v1.4h-1.4zM389.8,484.6h1.4v1.4h-1.4zM195.7,598.2h1.4v1.4h-1.4zM451.4,489.4h1.4v1.4h-1.4zM234.6,548.3h1.4v1.4h-1.4zM230.7,599.4h1.4v1.4h-1.4zM443.6,548.5h1.4v1.4h-1.4zM326.0,510.9h1.4v1.4h-1.4zM159.1,604.2h1.4v1.4h-1.4zM427.1,555.3h1.4v1.4h-1.4zM146.5,605.7h1.4v1.4h-1.4zM331.4,500.8h1.4v1.4h-1.4zM332.7,484.9h1.4v1.4h-1.4zM161.4,610.5h1.4v1.4h-1.4zM335.5,484.0h1.4v1.4h-1.4zM322.6,453.9h1.4v1.4h-1.4zM341.7,432.4h1.4v1.4h-1.4zM394.9,536.3h1.4v1.4h-1.4zM300.6,547.2h1.4v1.4h-1.4zM151.0,597.4h1.4v1.4h-1.4zM368.7,418.6h1.4v1.4h-1.4zM348.3,472.7h1.4v1.4h-1.4zM188.2,600.6h1.4v1.4h-1.4zM223.6,563.3h1.4v1.4h-1.4zM291.2,463.2h1.4v1.4h-1.4zM441.0,493.9h1.4v1.4h-1.4zM356.8,467.6h1.4v1.4h-1.4zM415.5,476.8h1.4v1.4h-1.4zM211.1,575.9h1.4v1.4h-1.4zM274.7,525.3h1.4v1.4h-1.4zM448.6,539.3h1.4v1.4h-1.4zM336.7,428.7h1.4v1.4h-1.4zM419.8,398.8h1.4v1.4h-1.4zM295.8,504.4h1.4v1.4h-1.4zM392.1,497.2h1.4v1.4h-1.4zM152.8,599.7h1.4v1.4h-1.4zM272.7,520.9h1.4v1.4h-1.4zM455.7,556.7h1.4v1.4h-1.4zM296.6,578.6h1.4v1.4h-1.4zM382.5,538.9h1.4v1.4h-1.4zM239.0,563.0h1.4v1.4h-1.4zM267.2,538.4h1.4v1.4h-1.4zM370.1,488.8h1.4v1.4h-1.4zM348.8,501.9h1.4v1.4h-1.4zM273.5,554.0h1.4v1.4h-1.4zM205.3,565.0h1.4v1.4h-1.4zM307.7,486.1h1.4v1.4h-1.4zM220.5,585.9h1.4v1.4h-1.4zM174.5,598.2h1.4v1.4h-1.4zM307.5,431.0h1.4v1.4h-1.4zM176.0,572.4h1.4v1.4h-1.4zM153.1,597.5h1.4v1.4h-1.4zM380.5,483.4h1.4v1.4h-1.4zM271.3,533.1h1.4v1.4h-1.4zM180.0,596.0h1.4v1.4h-1.4zM417.8,464.8h1.4v1.4h-1.4zM152.0,595.6h1.4v1.4h-1.4zM437.3,530.3h1.4v1.4h-1.4zM255.3,577.3h1.4v1.4h-1.4zM197.8,585.5h1.4v1.4h-1.4zM312.5,500.1h1.4v1.4h-1.4zM392.9,563.8h1.4v1.4h-1.4zM168.0,606.7h1.4v1.4h-1.4zM239.4,560.8h1.4v1.4h-1.4zM277.0,509.6h1.4v1.4h-1.4zM301.3,504.7h1.4v1.4h-1.4zM407.3,554.3h1.4v1.4h-1.4zM176.3,584.5h1.4v1.4h-1.4zM423.8,517.8h1.4v1.4h-1.4zM388.3,457.0h1.4v1.4h-1.4zM342.3,479.3h1.4v1.4h-1.4zM150.6,607.3h1.4v1.4h-1.4zM262.1,511.1h1.4v1.4h-1.4zM446.7,491.7h1.4v1.4h-1.4zM435.9,534.5h1.4v1.4h-1.4zM438.0,559.8h1.4v1.4h-1.4zM199.7,586.9h1.4v1.4h-1.4zM233.0,590.0h1.4v1.4h-1.4zM143.1,603.9h1.4v1.4h-1.4zM317.5,492.0h1.4v1.4h-1.4zM319.9,480.8h1.4v1.4h-1.4zM317.1,421.6h1.4v1.4h-1.4zM416.4,467.7h1.4v1.4h-1.4zM237.9,580.9h1.4v1.4h-1.4zM367.1,518.0h1.4v1.4h-1.4zM158.0,605.7h1.4v1.4h-1.4zM369.3,453.0h1.4v1.4h-1.4zM236.4,548.2h1.4v1.4h-1.4zM162.3,603.0h1.4v1.4h-1.4zM178.7,576.3h1.4v1.4h-1.4zM374.7,560.9h1.4v1.4h-1.4zM283.1,525.2h1.4v1.4h-1.4zM191.0,604.1h1.4v1.4h-1.4zM316.4,532.6h1.4v1.4h-1.4zM392.2,493.0h1.4v1.4h-1.4zM224.3,577.8h1.4v1.4h-1.4zM446.5,581.9h1.4v1.4h-1.4zM169.6,591.8h1.4v1.4h-1.4zM177.0,602.5h1.4v1.4h-1.4zM315.0,518.6h1.4v1.4h-1.4zM323.7,474.1h1.4v1.4h-1.4zM225.0,553.9h1.4v1.4h-1.4zM290.2,518.1h1.4v1.4h-1.4zM181.9,603.8h1.4v1.4h-1.4zM222.7,592.6h1.4v1.4h-1.4zM205.2,583.0h1.4v1.4h-1.4zM305.5,470.2h1.4v1.4h-1.4zM373.7,511.2h1.4v1.4h-1.4zM334.5,463.4h1.4v1.4h-1.4zM133.7,605.4h1.4v1.4h-1.4zM199.8,605.4h1.4v1.4h-1.4zM387.7,418.1h1.4v1.4h-1.4zM168.5,604.4h1.4v1.4h-1.4zM235.0,562.2h1.4v1.4h-1.4zM181.0,591.8h1.4v1.4h-1.4zM322.1,465.5h1.4v1.4h-1.4zM331.7,479.3h1.4v1.4h-1.4zM341.5,500.3h1.4v1.4h-1.4zM211.3,577.9h1.4v1.4h-1.4zM231.1,512.7h1.4v1.4h-1.4zM252.3,527.1h1.4v1.4h-1.4zM245.7,517.9h1.4v1.4h-1.4zM213.9,574.3h1.4v1.4h-1.4zM254.6,542.8h1.4v1.4h-1.4zM167.1,600.2h1.4v1.4h-1.4zM436.9,470.4h1.4v1.4h-1.4zM135.7,604.3h1.4v1.4h-1.4zM269.5,506.4h1.4v1.4h-1.4zM437.5,489.0h1.4v1.4h-1.4zM166.5,598.9h1.4v1.4h-1.4zM275.5,512.1h1.4v1.4h-1.4zM253.7,558.0h1.4v1.4h-1.4zM305.0,490.9h1.4v1.4h-1.4zM278.2,551.8h1.4v1.4h-1.4zM365.2,457.4h1.4v1.4h-1.4zM133.4,602.3h1.4v1.4h-1.4zM290.0,475.4h1.4v1.4h-1.4zM315.2,536.9h1.4v1.4h-1.4zM348.2,426.7h1.4v1.4h-1.4zM380.0,427.2h1.4v1.4h-1.4zM277.3,495.1h1.4v1.4h-1.4zM202.8,579.5h1.4v1.4h-1.4zM293.8,483.0h1.4v1.4h-1.4zM410.9,523.3h1.4v1.4h-1.4zM284.8,508.3h1.4v1.4h-1.4zM400.5,494.6h1.4v1.4h-1.4zM182.7,606.3h1.4v1.4h-1.4zM332.2,536.1h1.4v1.4h-1.4zM285.7,495.4h1.4v1.4h-1.4zM222.1,596.9h1.4v1.4h-1.4zM427.1,519.5h1.4v1.4h-1.4zM434.8,542.7h1.4v1.4h-1.4zM139.4,608.1h1.4v1.4h-1.4zM411.4,521.0h1.4v1.4h-1.4zM427.0,446.8h1.4v1.4h-1.4zM138.2,603.4h1.4v1.4h-1.4zM304.8,499.1h1.4v1.4h-1.4zM305.6,459.3h1.4v1.4h-1.4zM367.8,451.6h1.4v1.4h-1.4zM199.0,577.5h1.4v1.4h-1.4zM172.1,554.0h1.4v1.4h-1.4zM375.6,491.5h1.4v1.4h-1.4zM132.3,608.3h1.4v1.4h-1.4zM415.6,552.8h1.4v1.4h-1.4zM138.9,597.3h1.4v1.4h-1.4zM408.5,524.7h1.4v1.4h-1.4zM157.4,603.6h1.4v1.4h-1.4zM330.5,480.0h1.4v1.4h-1.4zM197.5,581.7h1.4v1.4h-1.4zM379.9,482.0h1.4v1.4h-1.4zM298.5,465.2h1.4v1.4h-1.4zM156.5,602.9h1.4v1.4h-1.4zM191.0,588.4h1.4v1.4h-1.4zM298.7,499.1h1.4v1.4h-1.4zM389.6,491.5h1.4v1.4h-1.4zM213.2,610.3h1.4v1.4h-1.4zM188.4,589.3h1.4v1.4h-1.4zM316.0,477.4h1.4v1.4h-1.4zM368.6,496.1h1.4v1.4h-1.4zM206.2,570.8h1.4v1.4h-1.4zM337.0,498.4h1.4v1.4h-1.4zM329.1,523.5h1.4v1.4h-1.4zM279.3,524.8h1.4v1.4h-1.4zM239.5,543.5h1.4v1.4h-1.4zM297.3,541.6h1.4v1.4h-1.4zM135.0,606.5h1.4v1.4h-1.4zM149.2,604.0h1.4v1.4h-1.4zM350.4,515.2h1.4v1.4h-1.4zM405.6,451.0h1.4v1.4h-1.4zM365.1,511.1h1.4v1.4h-1.4zM211.4,565.7h1.4v1.4h-1.4zM171.1,588.4h1.4v1.4h-1.4zM361.6,452.9h1.4v1.4h-1.4zM382.5,429.7h1.4v1.4h-1.4zM438.9,483.4h1.4v1.4h-1.4zM329.7,491.3h1.4v1.4h-1.4zM387.8,490.7h1.4v1.4h-1.4zM231.8,543.9h1.4v1.4h-1.4zM191.0,574.2h1.4v1.4h-1.4zM184.0,587.5h1.4v1.4h-1.4zM379.7,503.1h1.4v1.4h-1.4zM344.7,453.8h1.4v1.4h-1.4zM294.8,513.2h1.4v1.4h-1.4zM396.9,481.8h1.4v1.4h-1.4zM358.6,447.1h1.4v1.4h-1.4zM370.9,388.6h1.4v1.4h-1.4zM198.4,570.8h1.4v1.4h-1.4zM205.8,575.2h1.4v1.4h-1.4zM361.1,469.9h1.4v1.4h-1.4zM391.0,511.7h1.4v1.4h-1.4zM271.1,486.2h1.4v1.4h-1.4zM245.3,533.5h1.4v1.4h-1.4zM257.0,534.7h1.4v1.4h-1.4zM456.4,380.2h1.4v1.4h-1.4zM246.7,555.8h1.4v1.4h-1.4zM167.0,600.7h1.4v1.4h-1.4zM365.7,508.1h1.4v1.4h-1.4zM350.3,479.6h1.4v1.4h-1.4zM240.3,547.0h1.4v1.4h-1.4zM260.8,531.3h1.4v1.4h-1.4zM412.7,566.0h1.4v1.4h-1.4zM219.5,576.4h1.4v1.4h-1.4zM326.1,571.2h1.4v1.4h-1.4zM295.4,496.2h1.4v1.4h-1.4zM147.2,601.8h1.4v1.4h-1.4zM369.2,497.0h1.4v1.4h-1.4zM387.1,535.8h1.4v1.4h-1.4zM266.0,537.8h1.4v1.4h-1.4zM315.4,499.5h1.4v1.4h-1.4zM324.0,500.0h1.4v1.4h-1.4zM375.7,471.1h1.4v1.4h-1.4zM328.8,511.8h1.4v1.4h-1.4zM187.7,590.8h1.4v1.4h-1.4zM361.3,410.7h1.4v1.4h-1.4zM178.1,596.6h1.4v1.4h-1.4zM219.5,561.3h1.4v1.4h-1.4zM287.7,488.1h1.4v1.4h-1.4zM200.8,581.5h1.4v1.4h-1.4zM411.7,530.6h1.4v1.4h-1.4zM439.2,459.2h1.4v1.4h-1.4zM189.4,599.3h1.4v1.4h-1.4zM210.5,571.6h1.4v1.4h-1.4zM165.8,595.2h1.4v1.4h-1.4zM194.6,588.2h1.4v1.4h-1.4zM316.7,531.7h1.4v1.4h-1.4zM435.4,498.0h1.4v1.4h-1.4zM216.2,562.9h1.4v1.4h-1.4zM378.5,560.6h1.4v1.4h-1.4zM314.8,489.4h1.4v1.4h-1.4zM336.5,449.6h1.4v1.4h-1.4zM381.0,457.8h1.4v1.4h-1.4zM375.5,522.6h1.4v1.4h-1.4zM415.5,426.4h1.4v1.4h-1.4zM377.6,463.6h1.4v1.4h-1.4zM329.5,473.1h1.4v1.4h-1.4zM378.8,535.6h1.4v1.4h-1.4zM319.7,560.3h1.4v1.4h-1.4zM303.9,572.4h1.4v1.4h-1.4zM304.7,545.1h1.4v1.4h-1.4zM214.4,567.1h1.4v1.4h-1.4zM167.2,604.7h1.4v1.4h-1.4zM382.3,466.1h1.4v1.4h-1.4zM204.1,589.2h1.4v1.4h-1.4zM382.9,548.6h1.4v1.4h-1.4zM346.4,476.2h1.4v1.4h-1.4zM315.2,483.5h1.4v1.4h-1.4zM426.9,437.2h1.4v1.4h-1.4zM406.0,445.9h1.4v1.4h-1.4zM228.6,556.9h1.4v1.4h-1.4zM411.7,478.1h1.4v1.4h-1.4zM223.7,571.7h1.4v1.4h-1.4zM390.6,477.4h1.4v1.4h-1.4zM289.7,503.4h1.4v1.4h-1.4zM412.3,568.5h1.4v1.4h-1.4zM196.5,595.3h1.4v1.4h-1.4zM298.4,502.2h1.4v1.4h-1.4zM246.1,547.6h1.4v1.4h-1.4zM299.3,503.4h1.4v1.4h-1.4zM247.6,580.9h1.4v1.4h-1.4zM206.0,565.7h1.4v1.4h-1.4zM338.9,461.0h1.4v1.4h-1.4zM282.7,488.9h1.4v1.4h-1.4zM429.4,520.6h1.4v1.4h-1.4zM232.4,557.9h1.4v1.4h-1.4zM358.8,552.6h1.4v1.4h-1.4zM242.6,546.7h1.4v1.4h-1.4zM350.6,481.0h1.4v1.4h-1.4zM145.6,591.2h1.4v1.4h-1.4zM161.2,610.9h1.4v1.4h-1.4zM336.7,514.0h1.4v1.4h-1.4zM161.2,592.1h1.4v1.4h-1.4zM451.7,606.8h1.4v1.4h-1.4zM449.7,548.1h1.4v1.4h-1.4zM346.2,492.7h1.4v1.4h-1.4zM341.5,468.3h1.4v1.4h-1.4zM177.3,585.1h1.4v1.4h-1.4zM255.7,533.7h1.4v1.4h-1.4zM314.2,453.7h1.4v1.4h-1.4zM306.8,501.0h1.4v1.4h-1.4zM357.8,506.8h1.4v1.4h-1.4zM328.7,499.3h1.4v1.4h-1.4zM395.3,457.6h1.4v1.4h-1.4zM365.5,433.8h1.4v1.4h-1.4zM210.0,509.1h1.4v1.4h-1.4zM330.0,411.1h1.4v1.4h-1.4zM288.9,522.4h1.4v1.4h-1.4zM322.3,489.4h1.4v1.4h-1.4zM430.8,484.8h1.4v1.4h-1.4zM340.5,490.8h1.4v1.4h-1.4zM290.4,516.4h1.4v1.4h-1.4zM244.3,577.1h1.4v1.4h-1.4zM333.4,455.4h1.4v1.4h-1.4zM182.8,591.4h1.4v1.4h-1.4zM358.8,487.1h1.4v1.4h-1.4zM219.2,553.9h1.4v1.4h-1.4zM221.7,562.3h1.4v1.4h-1.4zM254.5,523.5h1.4v1.4h-1.4zM361.8,516.1h1.4v1.4h-1.4zM243.8,592.9h1.4v1.4h-1.4zM424.2,513.4h1.4v1.4h-1.4zM412.2,438.4h1.4v1.4h-1.4zM218.2,530.8h1.4v1.4h-1.4zM438.9,538.3h1.4v1.4h-1.4zM382.7,484.2h1.4v1.4h-1.4zM273.2,503.0h1.4v1.4h-1.4zM262.2,587.7h1.4v1.4h-1.4zM444.3,521.1h1.4v1.4h-1.4zM423.8,487.0h1.4v1.4h-1.4zM334.4,506.2h1.4v1.4h-1.4zM359.3,496.0h1.4v1.4h-1.4zM144.3,603.1h1.4v1.4h-1.4zM383.1,514.3h1.4v1.4h-1.4zM416.5,556.7h1.4v1.4h-1.4zM438.9,550.2h1.4v1.4h-1.4zM421.6,539.5h1.4v1.4h-1.4zM199.0,572.6h1.4v1.4h-1.4zM331.9,494.7h1.4v1.4h-1.4zM299.6,502.5h1.4v1.4h-1.4zM204.0,571.2h1.4v1.4h-1.4zM299.1,502.0h1.4v1.4h-1.4zM194.3,588.6h1.4v1.4h-1.4zM447.3,540.8h1.4v1.4h-1.4zM435.8,490.8h1.4v1.4h-1.4zM249.7,561.0h1.4v1.4h-1.4zM257.9,513.4h1.4v1.4h-1.4zM357.4,555.7h1.4v1.4h-1.4zM292.0,513.3h1.4v1.4h-1.4zM247.2,566.0h1.4v1.4h-1.4zM208.4,513.2h1.4v1.4h-1.4zM339.4,453.6h1.4v1.4h-1.4zM366.6,558.3h1.4v1.4h-1.4zM284.3,526.3h1.4v1.4h-1.4zM315.8,516.4h1.4v1.4h-1.4zM143.9,597.8h1.4v1.4h-1.4zM342.5,497.0h1.4v1.4h-1.4zM395.9,487.6h1.4v1.4h-1.4zM264.1,543.4h1.4v1.4h-1.4zM208.4,592.7h1.4v1.4h-1.4zM325.5,375.1h1.4v1.4h-1.4zM208.0,579.3h1.4v1.4h-1.4zM314.1,470.5h1.4v1.4h-1.4zM139.7,599.4h1.4v1.4h-1.4zM357.6,510.9h1.4v1.4h-1.4zM136.6,606.1h1.4v1.4h-1.4zM343.9,482.8h1.4v1.4h-1.4zM231.6,597.6h1.4v1.4h-1.4zM211.2,558.9h1.4v1.4h-1.4zM207.0,563.4h1.4v1.4h-1.4zM314.9,504.9h1.4v1.4h-1.4zM250.2,537.7h1.4v1.4h-1.4zM314.3,451.7h1.4v1.4h-1.4zM367.3,428.3h1.4v1.4h-1.4zM253.2,517.0h1.4v1.4h-1.4zM451.8,546.6h1.4v1.4h-1.4zM358.4,504.1h1.4v1.4h-1.4zM131.5,602.4h1.4v1.4h-1.4zM390.8,448.4h1.4v1.4h-1.4zM346.8,498.9h1.4v1.4h-1.4zM280.5,544.7h1.4v1.4h-1.4zM428.0,449.6h1.4v1.4h-1.4zM373.6,493.9h1.4v1.4h-1.4zM248.8,551.2h1.4v1.4h-1.4zM370.3,473.0h1.4v1.4h-1.4zM202.0,585.8h1.4v1.4h-1.4zM453.0,536.1h1.4v1.4h-1.4zM255.9,543.3h1.4v1.4h-1.4zM356.0,427.9h1.4v1.4h-1.4zM220.9,568.3h1.4v1.4h-1.4zM164.9,582.4h1.4v1.4h-1.4zM447.7,562.5h1.4v1.4h-1.4zM196.2,594.1h1.4v1.4h-1.4zM284.2,567.9h1.4v1.4h-1.4zM194.3,590.0h1.4v1.4h-1.4zM225.2,584.5h1.4v1.4h-1.4zM367.7,510.6h1.4v1.4h-1.4zM202.1,574.1h1.4v1.4h-1.4zM312.7,484.2h1.4v1.4h-1.4zM312.3,494.9h1.4v1.4h-1.4zM244.3,572.5h1.4v1.4h-1.4zM332.3,509.3h1.4v1.4h-1.4zM246.1,573.8h1.4v1.4h-1.4zM294.4,513.6h1.4v1.4h-1.4zM396.7,493.3h1.4v1.4h-1.4zM395.3,437.3h1.4v1.4h-1.4zM313.9,469.5h1.4v1.4h-1.4zM408.0,580.9h1.4v1.4h-1.4zM141.9,593.4h1.4v1.4h-1.4zM294.5,521.0h1.4v1.4h-1.4zM249.6,556.8h1.4v1.4h-1.4zM429.8,596.1h1.4v1.4h-1.4zM381.2,563.0h1.4v1.4h-1.4zM422.4,464.5h1.4v1.4h-1.4zM253.1,591.7h1.4v1.4h-1.4zM195.4,609.9h1.4v1.4h-1.4zM427.9,539.4h1.4v1.4h-1.4zM314.9,508.8h1.4v1.4h-1.4zM295.5,522.9h1.4v1.4h-1.4zM224.0,572.2h1.4v1.4h-1.4zM343.9,516.0h1.4v1.4h-1.4zM303.0,435.6h1.4v1.4h-1.4zM217.8,577.8h1.4v1.4h-1.4zM348.9,541.2h1.4v1.4h-1.4zM253.0,571.3h1.4v1.4h-1.4zM240.8,557.4h1.4v1.4h-1.4zM430.4,510.0h1.4v1.4h-1.4zM245.7,543.5h1.4v1.4h-1.4zM332.8,527.9h1.4v1.4h-1.4zM196.7,585.8h1.4v1.4h-1.4zM437.1,514.5h1.4v1.4h-1.4zM261.9,499.9h1.4v1.4h-1.4zM156.7,601.1h1.4v1.4h-1.4zM455.7,524.1h1.4v1.4h-1.4zM180.2,575.4h1.4v1.4h-1.4zM416.0,429.2h1.4v1.4h-1.4zM437.2,557.9h1.4v1.4h-1.4zM157.9,609.6h1.4v1.4h-1.4zM175.9,608.1h1.4v1.4h-1.4z" fill="#e8826a" fill-opacity="0.65"/>
<path d="M200.2,583.2h1.4v1.4h-1.4zM206.2,584.2h1.4v1.4h-1.4zM209.1,583.6h1.4v1.4h-1.4zM211.7,583.7h1.4v1.4h-1.4zM224.6,585.6h1.4v1.4h-1.4zM227.3,586.9h1.4v1.4h-1.4zM230.0,586.5h1.4v1.4h-1.4zM232.0,586.7h1.4v1.4h-1.4zM238.5,587.0h1.4v1.4h-1.4zM244.2,588.8h1.4v1.4h-1.4zM246.2,588.3h1.4v1.4h-1.4zM251.7,589.3h1.4v1.4h-1.4zM254.0,589.1h1.4v1.4h-1.4zM255.9,590.1h1.4v1.4h-1.4zM263.5,590.8h1.4v1.4h-1.4zM270.8,591.2h1.4v1.4h-1.4zM273.2,591.8h1.4v1.4h-1.4zM274.7,591.1h1.4v1.4h-1.4zM286.7,592.4h1.4v1.4h-1.4zM300.8,594.6h1.4v1.4h-1.4zM302.2,595.1h1.4v1.4h-1.4zM312.0,595.7h1.4v1.4h-1.4zM314.5,595.8h1.4v1.4h-1.4zM320.1,597.5h1.4v1.4h-1.4zM227.8,581.8h1.4v1.4h-1.4zM242.1,581.3h1.4v1.4h-1.4zM245.1,581.7h1.4v1.4h-1.4zM255.1,582.6h1.4v1.4h-1.4zM260.3,582.0h1.4v1.4h-1.4zM261.5,582.2h1.4v1.4h-1.4zM264.9,582.1h1.4v1.4h-1.4zM266.4,582.6h1.4v1.4h-1.4zM267.7,582.5h1.4v1.4h-1.4zM272.4,583.6h1.4v1.4h-1.4zM276.1,582.5h1.4v1.4h-1.4zM277.6,583.3h1.4v1.4h-1.4zM280.1,584.2h1.4v1.4h-1.4zM282.0,582.5h1.4v1.4h-1.4zM287.9,583.3h1.4v1.4h-1.4zM289.1,582.9h1.4v1.4h-1.4zM292.4,583.4h1.4v1.4h-1.4zM293.5,583.8h1.4v1.4h-1.4zM295.7,583.5h1.4v1.4h-1.4zM299.7,583.6h1.4v1.4h-1.4zM308.0,584.7h1.4v1.4h-1.4zM311.2,584.3h1.4v1.4h-1.4zM312.6,583.5h1.4v1.4h-1.4zM315.4,583.8h1.4v1.4h-1.4zM316.7,584.0h1.4v1.4h-1.4zM318.8,584.3h1.4v1.4h-1.4zM320.8,584.8h1.4v1.4h-1.4zM321.9,585.3h1.4v1.4h-1.4zM323.2,585.4h1.4v1.4h-1.4zM325.4,585.3h1.4v1.4h-1.4zM335.8,584.8h1.4v1.4h-1.4zM342.7,585.6h1.4v1.4h-1.4zM350.9,586.4h1.4v1.4h-1.4zM333.8,583.7h1.4v1.4h-1.4zM335.2,584.0h1.4v1.4h-1.4zM336.3,584.6h1.4v1.4h-1.4zM337.4,585.3h1.4v1.4h-1.4zM339.7,585.8h1.4v1.4h-1.4zM341.1,585.0h1.4v1.4h-1.4zM343.3,586.3h1.4v1.4h-1.4zM344.4,585.4h1.4v1.4h-1.4zM347.1,585.9h1.4v1.4h-1.4zM348.2,586.3h1.4v1.4h-1.4zM360.7,588.0h1.4v1.4h-1.4zM361.9,588.7h1.4v1.4h-1.4zM374.6,590.3h1.4v1.4h-1.4zM379.8,590.1h1.4v1.4h-1.4zM384.7,591.8h1.4v1.4h-1.4zM387.3,592.2h1.4v1.4h-1.4zM195.0,599.7h1.4v1.4h-1.4zM197.8,600.4h1.4v1.4h-1.4zM199.4,600.8h1.4v1.4h-1.4zM202.3,601.0h1.4v1.4h-1.4zM211.4,601.6h1.4v1.4h-1.4zM215.2,602.3h1.4v1.4h-1.4zM219.9,604.1h1.4v1.4h-1.4zM234.6,605.5h1.4v1.4h-1.4zM236.4,604.7h1.4v1.4h-1.4zM237.6,605.5h1.4v1.4h-1.4zM239.6,605.0h1.4v1.4h-1.4zM244.6,604.4h1.4v1.4h-1.4zM246.1,606.7h1.4v1.4h-1.4zM256.0,607.2h1.4v1.4h-1.4zM257.2,607.3h1.4v1.4h-1.4zM266.1,609.3h1.4v1.4h-1.4zM271.5,609.2h1.4v1.4h-1.4zM281.0,609.9h1.4v1.4h-1.4zM282.5,610.9h1.4v1.4h-1.4zM229.7,596.0h1.4v1.4h-1.4zM230.6,598.7h1.4v1.4h-1.4zM234.4,597.2h1.4v1.4h-1.4zM235.8,598.0h1.4v1.4h-1.4zM238.5,598.6h1.4v1.4h-1.4zM240.9,598.5h1.4v1.4h-1.4zM243.8,599.7h1.4v1.4h-1.4zM245.5,599.9h1.4v1.4h-1.4zM248.3,600.2h1.4v1.4h-1.4zM250.3,600.1h1.4v1.4h-1.4zM254.0,599.9h1.4v1.4h-1.4zM259.2,600.6h1.4v1.4h-1.4zM261.9,602.1h1.4v1.4h-1.4zM270.4,603.0h1.4v1.4h-1.4zM275.2,603.0h1.4v1.4h-1.4zM278.8,603.2h1.4v1.4h-1.4zM279.9,604.7h1.4v1.4h-1.4zM286.7,604.6h1.4v1.4h-1.4zM288.8,604.5h1.4v1.4h-1.4zM291.1,606.2h1.4v1.4h-1.4zM296.2,605.6h1.4v1.4h-1.4zM302.1,606.3h1.4v1.4h-1.4zM304.4,607.1h1.4v1.4h-1.4zM307.2,606.6h1.4v1.4h-1.4zM309.3,608.3h1.4v1.4h-1.4zM319.9,609.2h1.4v1.4h-1.4zM322.9,609.6h1.4v1.4h-1.4zM325.4,610.0h1.4v1.4h-1.4zM330.5,610.0h1.4v1.4h-1.4zM334.6,611.1h1.4v1.4h-1.4zM337.1,612.4h1.4v1.4h-1.4zM339.3,612.6h1.4v1.4h-1.4zM340.8,610.9h1.4v1.4h-1.4zM344.2,612.6h1.4v1.4h-1.4zM348.1,613.7h1.4v1.4h-1.4zM352.8,614.0h1.4v1.4h-1.4zM354.9,614.2h1.4v1.4h-1.4zM341.2,592.5h1.4v1.4h-1.4zM342.3,591.5h1.4v1.4h-1.4zM349.5,594.0h1.4v1.4h-1.4zM351.7,594.8h1.4v1.4h-1.4zM353.5,594.1h1.4v1.4h-1.4zM356.5,594.9h1.4v1.4h-1.4zM359.1,594.5h1.4v1.4h-1.4zM362.7,595.5h1.4v1.4h-1.4zM364.4,595.7h1.4v1.4h-1.4zM369.2,596.2h1.4v1.4h-1.4zM371.3,598.0h1.4v1.4h-1.4zM373.2,597.4h1.4v1.4h-1.4zM380.7,598.2h1.4v1.4h-1.4zM382.6,599.2h1.4v1.4h-1.4zM384.8,600.0h1.4v1.4h-1.4zM364.1,569.5h1.4v1.4h-1.4zM367.3,570.5h1.4v1.4h-1.4zM371.3,569.3h1.4v1.4h-1.4zM378.7,570.0h1.4v1.4h-1.4zM383.3,570.5h1.4v1.4h-1.4zM386.7,570.8h1.4v1.4h-1.4zM388.7,571.1h1.4v1.4h-1.4zM391.2,572.3h1.4v1.4h-1.4zM393.0,571.3h1.4v1.4h-1.4zM397.3,572.8h1.4v1.4h-1.4zM399.4,572.2h1.4v1.4h-1.4zM402.6,572.6h1.4v1.4h-1.4zM406.6,571.8h1.4v1.4h-1.4zM409.3,572.7h1.4v1.4h-1.4zM415.0,573.7h1.4v1.4h-1.4zM416.3,573.2h1.4v1.4h-1.4zM421.7,573.4h1.4v1.4h-1.4zM424.0,573.6h1.4v1.4h-1.4zM426.4,573.6h1.4v1.4h-1.4zM427.6,574.6h1.4v1.4h-1.4zM432.6,574.5h1.4v1.4h-1.4zM434.3,575.6h1.4v1.4h-1.4zM440.8,574.7h1.4v1.4h-1.4zM444.2,575.1h1.4v1.4h-1.4zM446.9,576.0h1.4v1.4h-1.4zM448.8,575.5h1.4v1.4h-1.4zM450.1,575.7h1.4v1.4h-1.4zM452.4,575.9h1.4v1.4h-1.4zM284.5,571.8h1.4v1.4h-1.4zM290.3,570.5h1.4v1.4h-1.4zM295.3,571.9h1.4v1.4h-1.4zM302.3,572.5h1.4v1.4h-1.4zM304.3,571.3h1.4v1.4h-1.4zM308.0,572.2h1.4v1.4h-1.4zM312.7,572.6h1.4v1.4h-1.4zM315.3,572.9h1.4v1.4h-1.4zM317.0,573.5h1.4v1.4h-1.4zM319.8,572.2h1.4v1.4h-1.4zM322.1,572.7h1.4v1.4h-1.4zM323.9,572.9h1.4v1.4h-1.4zM376.8,567.4h1.4v1.4h-1.4zM380.0,567.1h1.4v1.4h-1.4zM386.1,568.3h1.4v1.4h-1.4zM389.8,568.6h1.4v1.4h-1.4zM390.9,568.5h1.4v1.4h-1.4zM397.6,569.1h1.4v1.4h-1.4zM410.0,569.7h1.4v1.4h-1.4zM415.6,570.9h1.4v1.4h-1.4zM417.7,570.6h1.4v1.4h-1.4zM419.5,570.4h1.4v1.4h-1.4zM429.6,571.3h1.4v1.4h-1.4zM434.8,572.1h1.4v1.4h-1.4zM435.8,571.7h1.4v1.4h-1.4zM436.9,572.2h1.4v1.4h-1.4zM441.6,572.2h1.4v1.4h-1.4zM444.3,572.8h1.4v1.4h-1.4zM446.3,572.7h1.4v1.4h-1.4zM448.1,573.2h1.4v1.4h-1.4zM450.5,573.5h1.4v1.4h-1.4zM453.1,573.5h1.4v1.4h-1.4zM417.0,587.3h1.4v1.4h-1.4zM423.1,587.1h1.4v1.4h-1.4zM426.0,587.5h1.4v1.4h-1.4zM427.0,587.3h1.4v1.4h-1.4zM428.7,588.0h1.4v1.4h-1.4zM435.1,587.4h1.4v1.4h-1.4zM436.1,587.9h1.4v1.4h-1.4zM439.5,587.6h1.4v1.4h-1.4zM444.1,587.5h1.4v1.4h-1.4zM445.9,589.2h1.4v1.4h-1.4zM448.5,589.0h1.4v1.4h-1.4zM453.6,588.5h1.4v1.4h-1.4zM454.7,588.1h1.4v1.4h-1.4zM449.0,567.1h1.4v1.4h-1.4zM450.8,567.7h1.4v1.4h-1.4zM453.4,566.8h1.4v1.4h-1.4zM454.6,566.9h1.4v1.4h-1.4zM132.2,588.7h1.4v1.4h-1.4zM134.6,589.4h1.4v1.4h-1.4zM137.0,590.3h1.4v1.4h-1.4zM144.9,590.7h1.4v1.4h-1.4zM147.2,591.1h1.4v1.4h-1.4zM148.7,591.0h1.4v1.4h-1.4zM155.4,591.4h1.4v1.4h-1.4zM162.5,593.1h1.4v1.4h-1.4zM167.6,592.9h1.4v1.4h-1.4zM171.1,594.5h1.4v1.4h-1.4zM173.7,594.6h1.4v1.4h-1.4zM176.3,594.1h1.4v1.4h-1.4zM178.0,594.4h1.4v1.4h-1.4zM315.4,590.9h1.4v1.4h-1.4zM316.9,591.7h1.4v1.4h-1.4zM320.1,591.8h1.4v1.4h-1.4zM322.8,591.8h1.4v1.4h-1.4zM325.1,592.9h1.4v1.4h-1.4zM328.0,592.7h1.4v1.4h-1.4zM340.6,594.9h1.4v1.4h-1.4zM351.0,596.0h1.4v1.4h-1.4zM352.6,596.7h1.4v1.4h-1.4zM354.2,597.5h1.4v1.4h-1.4zM356.7,596.6h1.4v1.4h-1.4zM359.0,598.8h1.4v1.4h-1.4zM361.6,597.6h1.4v1.4h-1.4zM363.2,597.5h1.4v1.4h-1.4zM371.3,598.9h1.4v1.4h-1.4zM375.5,599.3h1.4v1.4h-1.4zM377.8,599.7h1.4v1.4h-1.4zM379.9,601.8h1.4v1.4h-1.4zM386.4,602.1h1.4v1.4h-1.4zM387.5,601.1h1.4v1.4h-1.4zM404.4,570.3h1.4v1.4h-1.4zM405.9,569.2h1.4v1.4h-1.4zM411.0,570.0h1.4v1.4h-1.4zM416.6,571.0h1.4v1.4h-1.4zM423.0,571.1h1.4v1.4h-1.4zM425.9,571.2h1.4v1.4h-1.4zM427.2,571.7h1.4v1.4h-1.4zM131.4,566.9h1.4v1.4h-1.4zM133.7,566.4h1.4v1.4h-1.4zM136.8,567.0h1.4v1.4h-1.4zM138.5,567.9h1.4v1.4h-1.4zM144.0,566.9h1.4v1.4h-1.4zM145.6,566.9h1.4v1.4h-1.4zM147.1,567.2h1.4v1.4h-1.4zM149.2,566.9h1.4v1.4h-1.4zM158.6,567.4h1.4v1.4h-1.4zM166.0,567.5h1.4v1.4h-1.4zM167.2,567.3h1.4v1.4h-1.4zM171.5,566.8h1.4v1.4h-1.4zM180.7,567.6h1.4v1.4h-1.4zM193.8,568.2h1.4v1.4h-1.4zM198.1,568.2h1.4v1.4h-1.4zM201.0,568.3h1.4v1.4h-1.4zM204.3,567.6h1.4v1.4h-1.4zM208.6,568.2h1.4v1.4h-1.4zM213.7,567.0h1.4v1.4h-1.4zM215.4,567.6h1.4v1.4h-1.4zM218.3,567.3h1.4v1.4h-1.4zM324.2,584.6h1.4v1.4h-1.4zM326.6,584.3h1.4v1.4h-1.4zM329.0,584.7h1.4v1.4h-1.4zM333.0,584.8h1.4v1.4h-1.4zM334.6,585.0h1.4v1.4h-1.4zM337.1,585.1h1.4v1.4h-1.4zM341.1,583.9h1.4v1.4h-1.4zM349.1,584.4h1.4v1.4h-1.4zM355.6,585.0h1.4v1.4h-1.4zM360.2,585.2h1.4v1.4h-1.4zM364.8,585.4h1.4v1.4h-1.4zM369.3,585.9h1.4v1.4h-1.4zM372.2,585.6h1.4v1.4h-1.4zM376.7,585.8h1.4v1.4h-1.4zM385.2,585.6h1.4v1.4h-1.4zM400.0,585.5h1.4v1.4h-1.4zM402.3,586.2h1.4v1.4h-1.4zM408.8,587.5h1.4v1.4h-1.4zM411.7,587.2h1.4v1.4h-1.4zM416.4,587.7h1.4v1.4h-1.4zM419.2,587.3h1.4v1.4h-1.4zM420.2,587.3h1.4v1.4h-1.4zM422.2,587.5h1.4v1.4h-1.4zM425.6,588.2h1.4v1.4h-1.4zM427.3,588.6h1.4v1.4h-1.4zM428.3,588.1h1.4v1.4h-1.4zM431.2,588.8h1.4v1.4h-1.4zM438.2,589.5h1.4v1.4h-1.4zM439.9,589.2h1.4v1.4h-1.4zM448.1,589.6h1.4v1.4h-1.4zM450.8,589.8h1.4v1.4h-1.4zM452.0,589.3h1.4v1.4h-1.4zM135.7,567.6h1.4v1.4h-1.4zM142.1,569.9h1.4v1.4h-1.4zM143.2,569.8h1.4v1.4h-1.4zM144.2,570.6h1.4v1.4h-1.4zM147.5,569.2h1.4v1.4h-1.4zM149.2,570.3h1.4v1.4h-1.4zM154.3,571.5h1.4v1.4h-1.4zM157.0,571.4h1.4v1.4h-1.4zM159.3,570.7h1.4v1.4h-1.4zM160.5,571.6h1.4v1.4h-1.4zM167.4,571.8h1.4v1.4h-1.4zM168.8,572.3h1.4v1.4h-1.4zM171.6,572.9h1.4v1.4h-1.4zM172.7,573.4h1.4v1.4h-1.4zM177.4,573.1h1.4v1.4h-1.4zM184.2,574.4h1.4v1.4h-1.4zM186.9,574.1h1.4v1.4h-1.4zM190.2,574.7h1.4v1.4h-1.4zM194.0,574.5h1.4v1.4h-1.4zM195.2,574.8h1.4v1.4h-1.4zM204.9,576.7h1.4v1.4h-1.4zM206.2,576.8h1.4v1.4h-1.4zM210.2,577.0h1.4v1.4h-1.4zM169.4,594.5h1.4v1.4h-1.4zM172.3,594.0h1.4v1.4h-1.4zM173.7,595.7h1.4v1.4h-1.4zM175.1,595.7h1.4v1.4h-1.4zM176.8,596.7h1.4v1.4h-1.4zM180.4,596.3h1.4v1.4h-1.4zM183.7,596.9h1.4v1.4h-1.4zM185.2,596.5h1.4v1.4h-1.4zM189.9,596.4h1.4v1.4h-1.4zM206.1,593.4h1.4v1.4h-1.4zM207.8,594.5h1.4v1.4h-1.4zM210.5,595.5h1.4v1.4h-1.4zM213.2,595.9h1.4v1.4h-1.4zM214.6,596.5h1.4v1.4h-1.4zM217.2,596.7h1.4v1.4h-1.4zM219.9,597.4h1.4v1.4h-1.4zM222.3,597.1h1.4v1.4h-1.4zM223.9,597.5h1.4v1.4h-1.4zM226.7,598.1h1.4v1.4h-1.4zM236.4,600.2h1.4v1.4h-1.4zM237.5,600.2h1.4v1.4h-1.4zM239.7,600.1h1.4v1.4h-1.4zM245.7,601.7h1.4v1.4h-1.4zM247.8,601.9h1.4v1.4h-1.4zM250.2,602.3h1.4v1.4h-1.4zM251.4,602.6h1.4v1.4h-1.4zM260.2,605.5h1.4v1.4h-1.4zM267.0,605.5h1.4v1.4h-1.4zM269.6,606.0h1.4v1.4h-1.4zM272.6,606.2h1.4v1.4h-1.4zM278.1,606.2h1.4v1.4h-1.4zM279.9,607.9h1.4v1.4h-1.4zM282.4,608.5h1.4v1.4h-1.4zM289.3,609.6h1.4v1.4h-1.4zM290.9,609.3h1.4v1.4h-1.4zM296.0,611.3h1.4v1.4h-1.4zM428.0,542.5h1.4v1.4h-1.4zM429.7,542.7h1.4v1.4h-1.4zM432.2,542.0h1.4v1.4h-1.4zM435.5,542.2h1.4v1.4h-1.4zM437.0,541.6h1.4v1.4h-1.4zM448.2,541.8h1.4v1.4h-1.4zM451.5,541.7h1.4v1.4h-1.4zM453.3,542.2h1.4v1.4h-1.4zM435.6,577.0h1.4v1.4h-1.4zM441.7,579.0h1.4v1.4h-1.4zM444.0,579.5h1.4v1.4h-1.4zM456.5,581.3h1.4v1.4h-1.4zM351.8,577.4h1.4v1.4h-1.4zM360.2,577.1h1.4v1.4h-1.4zM364.0,576.4h1.4v1.4h-1.4zM366.7,577.0h1.4v1.4h-1.4zM371.1,576.8h1.4v1.4h-1.4zM374.0,577.9h1.4v1.4h-1.4zM379.8,576.5h1.4v1.4h-1.4zM380.9,577.3h1.4v1.4h-1.4zM385.3,578.2h1.4v1.4h-1.4zM386.8,577.6h1.4v1.4h-1.4zM387.9,577.6h1.4v1.4h-1.4zM390.4,577.3h1.4v1.4h-1.4zM393.1,576.4h1.4v1.4h-1.4zM396.9,576.9h1.4v1.4h-1.4zM399.2,577.9h1.4v1.4h-1.4zM415.6,577.4h1.4v1.4h-1.4zM416.7,578.0h1.4v1.4h-1.4zM418.2,577.1h1.4v1.4h-1.4zM425.5,577.0h1.4v1.4h-1.4zM426.6,579.2h1.4v1.4h-1.4zM429.6,577.6h1.4v1.4h-1.4zM436.0,577.3h1.4v1.4h-1.4zM442.9,577.3h1.4v1.4h-1.4zM445.7,577.8h1.4v1.4h-1.4zM133.4,593.3h1.4v1.4h-1.4zM137.8,593.8h1.4v1.4h-1.4zM141.0,592.8h1.4v1.4h-1.4zM147.5,594.4h1.4v1.4h-1.4zM149.7,596.5h1.4v1.4h-1.4zM155.0,596.0h1.4v1.4h-1.4zM164.8,597.0h1.4v1.4h-1.4zM166.0,597.6h1.4v1.4h-1.4zM176.1,597.5h1.4v1.4h-1.4zM177.9,598.6h1.4v1.4h-1.4zM191.0,601.3h1.4v1.4h-1.4zM194.7,602.5h1.4v1.4h-1.4zM196.5,602.0h1.4v1.4h-1.4zM131.2,604.1h1.4v1.4h-1.4zM137.5,603.6h1.4v1.4h-1.4zM143.6,603.6h1.4v1.4h-1.4zM145.5,605.2h1.4v1.4h-1.4zM147.0,604.4h1.4v1.4h-1.4zM154.7,604.1h1.4v1.4h-1.4zM170.3,605.4h1.4v1.4h-1.4zM175.0,605.7h1.4v1.4h-1.4zM181.9,605.8h1.4v1.4h-1.4zM192.6,606.0h1.4v1.4h-1.4zM197.1,606.9h1.4v1.4h-1.4zM199.7,607.3h1.4v1.4h-1.4zM205.7,607.1h1.4v1.4h-1.4zM207.9,607.8h1.4v1.4h-1.4zM212.2,607.6h1.4v1.4h-1.4zM220.2,607.6h1.4v1.4h-1.4zM221.8,607.6h1.4v1.4h-1.4zM223.5,607.5h1.4v1.4h-1.4zM320.5,580.8h1.4v1.4h-1.4zM323.9,581.4h1.4v1.4h-1.4zM326.2,580.2h1.4v1.4h-1.4zM329.1,580.5h1.4v1.4h-1.4zM331.2,581.0h1.4v1.4h-1.4zM332.8,579.6h1.4v1.4h-1.4zM335.6,580.3h1.4v1.4h-1.4zM340.4,580.7h1.4v1.4h-1.4zM351.2,580.2h1.4v1.4h-1.4zM352.6,580.8h1.4v1.4h-1.4zM355.3,581.8h1.4v1.4h-1.4zM357.6,581.4h1.4v1.4h-1.4zM360.3,580.9h1.4v1.4h-1.4zM366.6,580.0h1.4v1.4h-1.4zM368.1,580.3h1.4v1.4h-1.4zM372.9,580.3h1.4v1.4h-1.4zM377.6,581.7h1.4v1.4h-1.4zM378.6,581.0h1.4v1.4h-1.4zM379.8,580.9h1.4v1.4h-1.4zM389.3,580.7h1.4v1.4h-1.4zM394.4,581.2h1.4v1.4h-1.4zM398.1,579.9h1.4v1.4h-1.4zM404.4,580.5h1.4v1.4h-1.4zM406.2,580.2h1.4v1.4h-1.4zM407.6,579.8h1.4v1.4h-1.4zM410.2,580.5h1.4v1.4h-1.4zM292.1,546.9h1.4v1.4h-1.4zM293.1,548.7h1.4v1.4h-1.4zM297.9,548.5h1.4v1.4h-1.4zM299.2,548.5h1.4v1.4h-1.4zM301.8,549.8h1.4v1.4h-1.4zM308.0,549.4h1.4v1.4h-1.4zM309.6,550.8h1.4v1.4h-1.4zM314.4,551.0h1.4v1.4h-1.4zM317.6,551.1h1.4v1.4h-1.4zM320.9,550.9h1.4v1.4h-1.4zM323.3,551.6h1.4v1.4h-1.4zM325.3,553.5h1.4v1.4h-1.4zM327.4,552.5h1.4v1.4h-1.4zM328.5,552.3h1.4v1.4h-1.4zM330.7,552.4h1.4v1.4h-1.4zM336.7,554.4h1.4v1.4h-1.4zM338.0,553.5h1.4v1.4h-1.4zM339.9,553.8h1.4v1.4h-1.4zM341.7,554.4h1.4v1.4h-1.4zM343.0,554.6h1.4v1.4h-1.4zM345.4,555.0h1.4v1.4h-1.4zM355.5,555.4h1.4v1.4h-1.4zM360.6,556.5h1.4v1.4h-1.4zM363.5,557.2h1.4v1.4h-1.4zM368.4,557.4h1.4v1.4h-1.4zM370.8,558.8h1.4v1.4h-1.4zM374.7,558.2h1.4v1.4h-1.4zM383.5,558.8h1.4v1.4h-1.4zM384.5,559.9h1.4v1.4h-1.4zM385.6,559.8h1.4v1.4h-1.4zM386.9,559.9h1.4v1.4h-1.4zM388.7,560.1h1.4v1.4h-1.4zM395.2,560.4h1.4v1.4h-1.4zM397.7,560.7h1.4v1.4h-1.4zM403.2,561.9h1.4v1.4h-1.4zM404.8,562.8h1.4v1.4h-1.4zM408.8,562.1h1.4v1.4h-1.4zM270.5,582.0h1.4v1.4h-1.4zM271.9,581.9h1.4v1.4h-1.4zM281.3,580.1h1.4v1.4h-1.4zM282.3,581.2h1.4v1.4h-1.4zM284.5,582.5h1.4v1.4h-1.4zM289.6,581.4h1.4v1.4h-1.4zM297.3,579.7h1.4v1.4h-1.4zM302.0,580.0h1.4v1.4h-1.4zM308.9,580.1h1.4v1.4h-1.4zM310.5,580.1h1.4v1.4h-1.4zM311.8,579.6h1.4v1.4h-1.4zM313.1,580.0h1.4v1.4h-1.4zM367.2,567.8h1.4v1.4h-1.4zM369.6,569.9h1.4v1.4h-1.4zM372.0,568.3h1.4v1.4h-1.4zM376.8,570.9h1.4v1.4h-1.4zM378.5,571.1h1.4v1.4h-1.4zM385.2,572.2h1.4v1.4h-1.4zM392.9,573.7h1.4v1.4h-1.4zM399.1,574.2h1.4v1.4h-1.4zM401.5,575.7h1.4v1.4h-1.4zM403.3,575.6h1.4v1.4h-1.4zM406.2,577.4h1.4v1.4h-1.4zM410.1,576.6h1.4v1.4h-1.4zM413.1,577.2h1.4v1.4h-1.4zM415.0,577.0h1.4v1.4h-1.4zM417.5,578.9h1.4v1.4h-1.4zM419.7,578.9h1.4v1.4h-1.4zM427.2,581.1h1.4v1.4h-1.4zM430.3,580.5h1.4v1.4h-1.4zM432.4,581.6h1.4v1.4h-1.4zM437.5,582.5h1.4v1.4h-1.4zM439.1,582.1h1.4v1.4h-1.4zM441.2,582.9h1.4v1.4h-1.4zM442.5,583.4h1.4v1.4h-1.4zM445.1,584.4h1.4v1.4h-1.4zM447.3,584.3h1.4v1.4h-1.4zM453.9,586.4h1.4v1.4h-1.4zM455.3,585.1h1.4v1.4h-1.4zM293.0,552.8h1.4v1.4h-1.4zM296.3,552.6h1.4v1.4h-1.4zM307.1,553.4h1.4v1.4h-1.4zM309.8,553.6h1.4v1.4h-1.4zM312.1,554.4h1.4v1.4h-1.4zM320.6,553.4h1.4v1.4h-1.4zM322.7,555.1h1.4v1.4h-1.4zM325.5,554.1h1.4v1.4h-1.4zM327.6,554.2h1.4v1.4h-1.4zM328.8,554.6h1.4v1.4h-1.4zM333.8,555.4h1.4v1.4h-1.4zM341.4,555.1h1.4v1.4h-1.4zM347.8,554.5h1.4v1.4h-1.4zM351.6,554.3h1.4v1.4h-1.4zM360.9,556.1h1.4v1.4h-1.4zM363.6,556.3h1.4v1.4h-1.4zM366.0,555.5h1.4v1.4h-1.4zM367.2,555.6h1.4v1.4h-1.4zM370.0,555.8h1.4v1.4h-1.4zM371.1,555.6h1.4v1.4h-1.4zM374.2,555.5h1.4v1.4h-1.4zM377.0,556.4h1.4v1.4h-1.4zM383.4,556.3h1.4v1.4h-1.4zM386.0,557.5h1.4v1.4h-1.4zM391.0,556.1h1.4v1.4h-1.4zM392.1,557.3h1.4v1.4h-1.4zM394.1,557.3h1.4v1.4h-1.4zM395.4,556.8h1.4v1.4h-1.4zM396.4,557.6h1.4v1.4h-1.4zM401.9,557.2h1.4v1.4h-1.4zM403.4,558.0h1.4v1.4h-1.4zM432.8,574.2h1.4v1.4h-1.4zM436.6,573.8h1.4v1.4h-1.4zM445.4,575.8h1.4v1.4h-1.4zM455.5,577.5h1.4v1.4h-1.4zM456.7,579.1h1.4v1.4h-1.4zM375.6,530.1h1.4v1.4h-1.4zM378.3,531.5h1.4v1.4h-1.4zM382.8,532.0h1.4v1.4h-1.4zM384.6,532.8h1.4v1.4h-1.4zM389.5,532.0h1.4v1.4h-1.4zM396.0,532.1h1.4v1.4h-1.4zM397.6,534.2h1.4v1.4h-1.4zM408.9,536.0h1.4v1.4h-1.4zM411.0,535.5h1.4v1.4h-1.4zM413.1,534.8h1.4v1.4h-1.4zM417.7,537.1h1.4v1.4h-1.4zM420.1,536.8h1.4v1.4h-1.4zM429.0,538.0h1.4v1.4h-1.4zM431.6,538.6h1.4v1.4h-1.4zM436.7,539.1h1.4v1.4h-1.4zM438.6,540.4h1.4v1.4h-1.4zM439.8,540.5h1.4v1.4h-1.4zM195.7,563.5h1.4v1.4h-1.4zM204.8,563.4h1.4v1.4h-1.4zM206.4,564.2h1.4v1.4h-1.4zM209.0,565.5h1.4v1.4h-1.4zM210.9,565.1h1.4v1.4h-1.4zM213.6,565.0h1.4v1.4h-1.4zM218.2,566.1h1.4v1.4h-1.4zM221.8,565.8h1.4v1.4h-1.4zM223.9,566.3h1.4v1.4h-1.4zM226.7,566.5h1.4v1.4h-1.4zM232.2,567.1h1.4v1.4h-1.4zM233.4,566.8h1.4v1.4h-1.4zM235.4,567.8h1.4v1.4h-1.4zM244.7,570.4h1.4v1.4h-1.4zM246.2,570.0h1.4v1.4h-1.4zM252.9,570.2h1.4v1.4h-1.4zM256.4,571.6h1.4v1.4h-1.4zM258.4,570.9h1.4v1.4h-1.4zM266.8,571.6h1.4v1.4h-1.4zM273.0,573.3h1.4v1.4h-1.4zM279.9,573.0h1.4v1.4h-1.4zM285.6,574.1h1.4v1.4h-1.4zM288.6,573.8h1.4v1.4h-1.4zM291.1,574.4h1.4v1.4h-1.4zM296.0,576.3h1.4v1.4h-1.4zM301.4,576.6h1.4v1.4h-1.4zM147.4,590.6h1.4v1.4h-1.4zM148.7,591.6h1.4v1.4h-1.4zM151.2,591.1h1.4v1.4h-1.4zM154.2,591.9h1.4v1.4h-1.4zM161.2,592.0h1.4v1.4h-1.4zM163.0,592.2h1.4v1.4h-1.4zM172.6,594.2h1.4v1.4h-1.4zM182.9,593.7h1.4v1.4h-1.4zM186.3,592.8h1.4v1.4h-1.4zM189.4,594.6h1.4v1.4h-1.4zM195.2,594.8h1.4v1.4h-1.4zM197.7,595.4h1.4v1.4h-1.4zM199.4,594.5h1.4v1.4h-1.4zM206.9,595.8h1.4v1.4h-1.4zM214.4,595.6h1.4v1.4h-1.4zM215.8,596.2h1.4v1.4h-1.4zM218.4,596.6h1.4v1.4h-1.4zM222.5,597.6h1.4v1.4h-1.4zM226.7,596.5h1.4v1.4h-1.4zM229.5,597.3h1.4v1.4h-1.4zM234.0,597.3h1.4v1.4h-1.4zM135.6,581.4h1.4v1.4h-1.4zM341.8,541.9h1.4v1.4h-1.4zM343.0,541.6h1.4v1.4h-1.4zM348.2,542.2h1.4v1.4h-1.4zM357.3,544.5h1.4v1.4h-1.4zM359.2,542.9h1.4v1.4h-1.4zM360.5,544.3h1.4v1.4h-1.4zM362.2,543.9h1.4v1.4h-1.4zM363.5,544.9h1.4v1.4h-1.4zM365.4,545.2h1.4v1.4h-1.4zM385.4,548.3h1.4v1.4h-1.4zM386.5,548.2h1.4v1.4h-1.4zM388.9,548.1h1.4v1.4h-1.4zM391.0,549.1h1.4v1.4h-1.4zM398.4,550.2h1.4v1.4h-1.4zM400.0,550.6h1.4v1.4h-1.4zM402.8,549.8h1.4v1.4h-1.4zM410.9,551.4h1.4v1.4h-1.4zM412.8,552.5h1.4v1.4h-1.4zM414.0,553.1h1.4v1.4h-1.4zM415.7,551.6h1.4v1.4h-1.4zM417.5,552.7h1.4v1.4h-1.4zM421.3,552.4h1.4v1.4h-1.4zM427.3,553.8h1.4v1.4h-1.4zM428.3,554.5h1.4v1.4h-1.4zM433.2,555.4h1.4v1.4h-1.4zM435.7,555.2h1.4v1.4h-1.4zM439.5,556.0h1.4v1.4h-1.4zM397.2,585.3h1.4v1.4h-1.4zM402.3,585.9h1.4v1.4h-1.4zM405.1,586.8h1.4v1.4h-1.4zM406.5,586.0h1.4v1.4h-1.4zM407.8,587.0h1.4v1.4h-1.4zM412.6,587.9h1.4v1.4h-1.4zM419.6,588.8h1.4v1.4h-1.4zM422.0,587.8h1.4v1.4h-1.4zM437.9,590.4h1.4v1.4h-1.4zM439.6,591.3h1.4v1.4h-1.4zM440.8,589.5h1.4v1.4h-1.4zM443.2,590.7h1.4v1.4h-1.4zM444.9,590.3h1.4v1.4h-1.4zM446.2,589.6h1.4v1.4h-1.4zM449.7,589.9h1.4v1.4h-1.4zM395.4,591.5h1.4v1.4h-1.4zM399.6,591.8h1.4v1.4h-1.4zM407.5,592.4h1.4v1.4h-1.4zM409.0,593.9h1.4v1.4h-1.4zM417.5,594.8h1.4v1.4h-1.4zM419.3,595.3h1.4v1.4h-1.4zM422.1,596.9h1.4v1.4h-1.4zM425.8,597.6h1.4v1.4h-1.4zM428.2,597.4h1.4v1.4h-1.4zM429.4,597.4h1.4v1.4h-1.4zM435.7,599.4h1.4v1.4h-1.4zM445.1,600.2h1.4v1.4h-1.4zM451.7,601.8h1.4v1.4h-1.4zM400.9,579.6h1.4v1.4h-1.4zM408.6,581.4h1.4v1.4h-1.4zM410.0,580.3h1.4v1.4h-1.4zM412.8,582.0h1.4v1.4h-1.4zM415.7,582.6h1.4v1.4h-1.4zM417.1,583.1h1.4v1.4h-1.4zM422.7,584.3h1.4v1.4h-1.4zM425.6,583.9h1.4v1.4h-1.4zM428.4,584.3h1.4v1.4h-1.4zM430.8,585.9h1.4v1.4h-1.4zM436.7,586.7h1.4v1.4h-1.4zM439.7,587.6h1.4v1.4h-1.4zM452.5,590.3h1.4v1.4h-1.4zM456.6,591.9h1.4v1.4h-1.4zM412.9,591.3h1.4v1.4h-1.4zM415.8,590.9h1.4v1.4h-1.4zM419.9,593.0h1.4v1.4h-1.4zM425.6,593.1h1.4v1.4h-1.4zM426.7,593.3h1.4v1.4h-1.4zM428.5,594.1h1.4v1.4h-1.4zM431.7,594.6h1.4v1.4h-1.4zM434.4,594.4h1.4v1.4h-1.4zM436.5,595.3h1.4v1.4h-1.4zM439.1,594.9h1.4v1.4h-1.4zM188.9,558.9h1.4v1.4h-1.4zM191.6,558.0h1.4v1.4h-1.4zM193.5,558.7h1.4v1.4h-1.4zM198.5,557.2h1.4v1.4h-1.4zM204.0,559.1h1.4v1.4h-1.4zM208.2,559.0h1.4v1.4h-1.4zM210.1,559.5h1.4v1.4h-1.4zM212.3,560.5h1.4v1.4h-1.4zM218.7,560.0h1.4v1.4h-1.4zM221.1,560.5h1.4v1.4h-1.4zM227.2,561.5h1.4v1.4h-1.4zM230.3,562.1h1.4v1.4h-1.4zM299.6,591.2h1.4v1.4h-1.4zM302.5,591.4h1.4v1.4h-1.4zM305.3,591.8h1.4v1.4h-1.4zM307.6,591.3h1.4v1.4h-1.4zM312.8,592.0h1.4v1.4h-1.4zM318.7,591.5h1.4v1.4h-1.4zM324.0,591.9h1.4v1.4h-1.4zM326.3,592.2h1.4v1.4h-1.4zM328.8,591.3h1.4v1.4h-1.4zM334.9,592.1h1.4v1.4h-1.4zM336.5,592.5h1.4v1.4h-1.4zM340.5,592.9h1.4v1.4h-1.4zM341.6,592.0h1.4v1.4h-1.4zM347.3,593.9h1.4v1.4h-1.4zM354.2,593.0h1.4v1.4h-1.4zM359.6,592.4h1.4v1.4h-1.4zM360.9,594.0h1.4v1.4h-1.4zM364.2,592.3h1.4v1.4h-1.4zM367.6,593.1h1.4v1.4h-1.4zM135.6,598.1h1.4v1.4h-1.4zM138.4,599.3h1.4v1.4h-1.4zM141.1,598.3h1.4v1.4h-1.4zM143.9,599.3h1.4v1.4h-1.4zM148.7,600.5h1.4v1.4h-1.4zM150.0,600.8h1.4v1.4h-1.4zM151.8,601.6h1.4v1.4h-1.4zM156.6,600.7h1.4v1.4h-1.4zM159.5,601.7h1.4v1.4h-1.4zM164.5,602.8h1.4v1.4h-1.4zM169.2,603.1h1.4v1.4h-1.4zM174.5,603.7h1.4v1.4h-1.4zM177.2,605.6h1.4v1.4h-1.4zM181.3,605.1h1.4v1.4h-1.4zM183.7,605.1h1.4v1.4h-1.4zM186.2,606.7h1.4v1.4h-1.4zM187.4,606.4h1.4v1.4h-1.4zM137.6,566.7h1.4v1.4h-1.4zM140.8,566.5h1.4v1.4h-1.4zM143.5,567.2h1.4v1.4h-1.4zM144.6,566.4h1.4v1.4h-1.4zM146.1,567.8h1.4v1.4h-1.4zM149.9,567.3h1.4v1.4h-1.4zM151.5,567.1h1.4v1.4h-1.4zM153.1,567.5h1.4v1.4h-1.4zM155.8,567.5h1.4v1.4h-1.4zM162.8,567.1h1.4v1.4h-1.4zM164.9,567.7h1.4v1.4h-1.4zM169.8,568.3h1.4v1.4h-1.4zM172.7,568.4h1.4v1.4h-1.4zM177.6,568.4h1.4v1.4h-1.4zM181.0,568.7h1.4v1.4h-1.4zM161.3,576.5h1.4v1.4h-1.4zM162.6,576.7h1.4v1.4h-1.4zM166.9,576.7h1.4v1.4h-1.4zM169.5,578.1h1.4v1.4h-1.4zM171.7,578.2h1.4v1.4h-1.4zM184.5,579.3h1.4v1.4h-1.4zM186.6,580.1h1.4v1.4h-1.4zM190.5,580.2h1.4v1.4h-1.4zM192.3,581.0h1.4v1.4h-1.4zM194.2,581.1h1.4v1.4h-1.4zM196.3,581.5h1.4v1.4h-1.4zM201.5,580.5h1.4v1.4h-1.4zM203.7,581.4h1.4v1.4h-1.4zM209.8,582.6h1.4v1.4h-1.4zM213.7,582.6h1.4v1.4h-1.4zM219.3,583.8h1.4v1.4h-1.4zM225.3,585.1h1.4v1.4h-1.4zM227.4,584.3h1.4v1.4h-1.4zM229.2,584.8h1.4v1.4h-1.4zM233.6,584.8h1.4v1.4h-1.4zM239.5,586.1h1.4v1.4h-1.4zM242.2,585.5h1.4v1.4h-1.4zM246.1,586.4h1.4v1.4h-1.4zM247.9,586.9h1.4v1.4h-1.4zM281.7,545.4h1.4v1.4h-1.4zM286.2,545.4h1.4v1.4h-1.4zM292.6,546.3h1.4v1.4h-1.4zM294.4,546.8h1.4v1.4h-1.4zM311.2,547.4h1.4v1.4h-1.4zM315.2,548.6h1.4v1.4h-1.4zM396.6,570.9h1.4v1.4h-1.4zM401.6,571.4h1.4v1.4h-1.4zM404.2,570.6h1.4v1.4h-1.4zM409.2,570.3h1.4v1.4h-1.4zM412.3,570.3h1.4v1.4h-1.4zM415.9,571.0h1.4v1.4h-1.4zM418.2,570.3h1.4v1.4h-1.4zM420.0,570.6h1.4v1.4h-1.4zM421.6,570.1h1.4v1.4h-1.4zM424.1,570.7h1.4v1.4h-1.4zM425.2,569.6h1.4v1.4h-1.4zM430.2,570.8h1.4v1.4h-1.4zM432.9,571.5h1.4v1.4h-1.4zM437.8,571.5h1.4v1.4h-1.4zM443.6,570.6h1.4v1.4h-1.4zM445.9,571.1h1.4v1.4h-1.4zM446.9,570.7h1.4v1.4h-1.4zM450.3,571.7h1.4v1.4h-1.4zM451.4,571.3h1.4v1.4h-1.4zM455.2,570.5h1.4v1.4h-1.4zM337.4,537.3h1.4v1.4h-1.4zM340.2,537.8h1.4v1.4h-1.4zM341.3,538.0h1.4v1.4h-1.4zM344.2,537.5h1.4v1.4h-1.4zM348.4,537.9h1.4v1.4h-1.4zM350.8,537.9h1.4v1.4h-1.4zM353.0,537.6h1.4v1.4h-1.4zM358.4,537.6h1.4v1.4h-1.4zM360.2,537.6h1.4v1.4h-1.4zM365.0,538.4h1.4v1.4h-1.4zM367.4,538.1h1.4v1.4h-1.4zM373.7,536.4h1.4v1.4h-1.4zM376.4,537.7h1.4v1.4h-1.4zM378.7,538.0h1.4v1.4h-1.4zM387.9,536.9h1.4v1.4h-1.4zM396.9,537.4h1.4v1.4h-1.4zM453.0,559.5h1.4v1.4h-1.4zM454.7,559.3h1.4v1.4h-1.4zM135.4,601.9h1.4v1.4h-1.4zM136.4,600.6h1.4v1.4h-1.4zM138.4,601.7h1.4v1.4h-1.4zM140.6,601.0h1.4v1.4h-1.4zM143.0,600.7h1.4v1.4h-1.4zM148.2,601.4h1.4v1.4h-1.4zM150.6,601.9h1.4v1.4h-1.4zM153.2,601.5h1.4v1.4h-1.4zM159.8,600.8h1.4v1.4h-1.4zM162.6,600.8h1.4v1.4h-1.4zM163.8,600.9h1.4v1.4h-1.4zM165.2,600.7h1.4v1.4h-1.4zM170.8,601.0h1.4v1.4h-1.4zM174.5,600.4h1.4v1.4h-1.4zM177.4,601.6h1.4v1.4h-1.4zM182.6,600.9h1.4v1.4h-1.4zM185.3,600.9h1.4v1.4h-1.4zM187.8,600.5h1.4v1.4h-1.4zM190.2,599.8h1.4v1.4h-1.4zM193.0,601.1h1.4v1.4h-1.4zM199.1,601.8h1.4v1.4h-1.4zM207.4,600.9h1.4v1.4h-1.4zM209.6,600.7h1.4v1.4h-1.4zM210.7,600.2h1.4v1.4h-1.4zM213.2,599.7h1.4v1.4h-1.4zM216.1,600.0h1.4v1.4h-1.4zM218.1,600.8h1.4v1.4h-1.4zM221.6,600.7h1.4v1.4h-1.4zM226.5,600.0h1.4v1.4h-1.4zM228.5,600.3h1.4v1.4h-1.4zM230.9,600.4h1.4v1.4h-1.4zM232.2,600.3h1.4v1.4h-1.4zM236.6,599.5h1.4v1.4h-1.4zM132.6,590.1h1.4v1.4h-1.4zM312.1,538.1h1.4v1.4h-1.4zM320.4,536.7h1.4v1.4h-1.4zM323.3,535.7h1.4v1.4h-1.4zM324.6,535.9h1.4v1.4h-1.4zM327.7,536.0h1.4v1.4h-1.4zM336.3,534.7h1.4v1.4h-1.4zM339.3,535.4h1.4v1.4h-1.4zM351.9,533.0h1.4v1.4h-1.4zM353.3,533.8h1.4v1.4h-1.4zM356.2,532.9h1.4v1.4h-1.4zM359.1,532.5h1.4v1.4h-1.4zM364.2,530.6h1.4v1.4h-1.4zM371.5,531.6h1.4v1.4h-1.4zM374.7,530.0h1.4v1.4h-1.4zM377.2,529.8h1.4v1.4h-1.4zM380.5,529.5h1.4v1.4h-1.4zM386.7,528.6h1.4v1.4h-1.4zM300.4,554.6h1.4v1.4h-1.4zM301.8,553.8h1.4v1.4h-1.4zM307.7,554.1h1.4v1.4h-1.4zM312.0,553.6h1.4v1.4h-1.4zM316.7,555.2h1.4v1.4h-1.4zM318.9,554.8h1.4v1.4h-1.4zM321.6,554.1h1.4v1.4h-1.4zM322.7,554.1h1.4v1.4h-1.4zM325.3,555.6h1.4v1.4h-1.4zM327.7,554.1h1.4v1.4h-1.4zM330.4,554.1h1.4v1.4h-1.4zM332.5,554.7h1.4v1.4h-1.4zM336.4,554.6h1.4v1.4h-1.4zM339.3,554.1h1.4v1.4h-1.4zM344.2,555.1h1.4v1.4h-1.4zM346.6,553.9h1.4v1.4h-1.4zM350.2,554.8h1.4v1.4h-1.4zM352.7,554.4h1.4v1.4h-1.4zM354.4,553.2h1.4v1.4h-1.4zM257.0,594.5h1.4v1.4h-1.4zM260.1,595.2h1.4v1.4h-1.4zM261.4,595.3h1.4v1.4h-1.4zM266.9,595.1h1.4v1.4h-1.4zM272.1,595.7h1.4v1.4h-1.4zM274.9,596.1h1.4v1.4h-1.4zM281.7,596.9h1.4v1.4h-1.4zM283.9,597.8h1.4v1.4h-1.4zM286.7,595.6h1.4v1.4h-1.4zM324.3,545.8h1.4v1.4h-1.4zM329.1,547.1h1.4v1.4h-1.4zM331.6,546.7h1.4v1.4h-1.4zM332.9,548.3h1.4v1.4h-1.4zM340.8,550.8h1.4v1.4h-1.4zM343.6,551.2h1.4v1.4h-1.4zM348.4,552.3h1.4v1.4h-1.4zM356.4,555.2h1.4v1.4h-1.4zM358.4,553.8h1.4v1.4h-1.4zM360.8,555.0h1.4v1.4h-1.4zM363.2,555.3h1.4v1.4h-1.4zM365.8,558.1h1.4v1.4h-1.4zM371.0,557.8h1.4v1.4h-1.4zM137.0,565.5h1.4v1.4h-1.4zM142.6,565.4h1.4v1.4h-1.4zM149.9,565.4h1.4v1.4h-1.4zM154.6,565.9h1.4v1.4h-1.4zM159.4,566.1h1.4v1.4h-1.4zM161.3,566.1h1.4v1.4h-1.4zM163.7,566.8h1.4v1.4h-1.4zM171.9,565.0h1.4v1.4h-1.4zM182.0,565.7h1.4v1.4h-1.4zM184.2,565.2h1.4v1.4h-1.4zM187.0,565.4h1.4v1.4h-1.4zM189.8,566.2h1.4v1.4h-1.4zM192.7,566.2h1.4v1.4h-1.4zM196.6,567.1h1.4v1.4h-1.4zM202.0,566.0h1.4v1.4h-1.4zM203.2,565.3h1.4v1.4h-1.4zM206.6,565.8h1.4v1.4h-1.4zM208.8,565.7h1.4v1.4h-1.4zM215.8,565.2h1.4v1.4h-1.4zM217.7,566.3h1.4v1.4h-1.4zM427.8,552.3h1.4v1.4h-1.4zM445.5,551.4h1.4v1.4h-1.4zM448.3,550.7h1.4v1.4h-1.4zM452.2,549.2h1.4v1.4h-1.4zM405.0,583.1h1.4v1.4h-1.4zM409.3,583.2h1.4v1.4h-1.4zM411.0,583.6h1.4v1.4h-1.4zM413.4,582.3h1.4v1.4h-1.4zM416.1,584.9h1.4v1.4h-1.4zM417.4,584.5h1.4v1.4h-1.4zM420.2,583.8h1.4v1.4h-1.4zM425.8,584.4h1.4v1.4h-1.4zM430.1,583.7h1.4v1.4h-1.4zM130.7,577.1h1.4v1.4h-1.4zM132.4,577.4h1.4v1.4h-1.4zM134.2,577.6h1.4v1.4h-1.4zM136.5,576.8h1.4v1.4h-1.4zM139.3,577.8h1.4v1.4h-1.4zM141.4,577.4h1.4v1.4h-1.4zM145.6,576.7h1.4v1.4h-1.4zM146.8,577.9h1.4v1.4h-1.4zM149.2,577.5h1.4v1.4h-1.4zM152.8,578.3h1.4v1.4h-1.4zM161.2,577.5h1.4v1.4h-1.4zM166.1,578.1h1.4v1.4h-1.4zM168.6,577.5h1.4v1.4h-1.4zM173.9,578.7h1.4v1.4h-1.4zM175.0,598.2h1.4v1.4h-1.4zM179.2,597.6h1.4v1.4h-1.4zM180.8,598.5h1.4v1.4h-1.4zM191.2,598.2h1.4v1.4h-1.4zM196.4,599.6h1.4v1.4h-1.4zM212.9,600.2h1.4v1.4h-1.4zM215.7,600.4h1.4v1.4h-1.4zM220.1,601.1h1.4v1.4h-1.4zM221.3,601.2h1.4v1.4h-1.4zM226.2,601.5h1.4v1.4h-1.4zM237.1,602.3h1.4v1.4h-1.4zM238.8,603.8h1.4v1.4h-1.4zM240.5,602.7h1.4v1.4h-1.4zM424.4,528.3h1.4v1.4h-1.4zM427.7,527.5h1.4v1.4h-1.4zM430.6,528.3h1.4v1.4h-1.4zM437.9,530.3h1.4v1.4h-1.4zM439.0,530.4h1.4v1.4h-1.4zM446.3,531.2h1.4v1.4h-1.4zM449.9,531.6h1.4v1.4h-1.4zM452.8,531.1h1.4v1.4h-1.4zM454.7,532.3h1.4v1.4h-1.4zM346.9,584.4h1.4v1.4h-1.4zM357.1,586.3h1.4v1.4h-1.4zM361.9,585.2h1.4v1.4h-1.4zM364.6,586.1h1.4v1.4h-1.4zM369.7,587.5h1.4v1.4h-1.4zM371.9,586.7h1.4v1.4h-1.4zM373.5,588.6h1.4v1.4h-1.4zM380.0,589.7h1.4v1.4h-1.4zM174.5,556.8h1.4v1.4h-1.4zM178.7,557.0h1.4v1.4h-1.4zM181.5,556.5h1.4v1.4h-1.4zM183.9,557.6h1.4v1.4h-1.4zM186.2,557.6h1.4v1.4h-1.4zM190.1,557.6h1.4v1.4h-1.4zM196.5,558.3h1.4v1.4h-1.4zM197.7,558.0h1.4v1.4h-1.4zM200.6,557.6h1.4v1.4h-1.4zM212.3,558.0h1.4v1.4h-1.4zM213.8,558.4h1.4v1.4h-1.4zM219.7,559.0h1.4v1.4h-1.4zM222.2,558.6h1.4v1.4h-1.4zM227.8,558.4h1.4v1.4h-1.4zM232.4,559.8h1.4v1.4h-1.4zM234.8,558.2h1.4v1.4h-1.4zM240.8,559.1h1.4v1.4h-1.4zM243.0,558.8h1.4v1.4h-1.4zM247.1,559.4h1.4v1.4h-1.4zM251.9,559.9h1.4v1.4h-1.4zM376.4,574.3h1.4v1.4h-1.4zM382.4,574.7h1.4v1.4h-1.4zM386.0,575.7h1.4v1.4h-1.4zM393.6,573.7h1.4v1.4h-1.4zM395.5,574.7h1.4v1.4h-1.4zM450.8,565.3h1.4v1.4h-1.4zM455.3,565.8h1.4v1.4h-1.4zM239.2,584.4h1.4v1.4h-1.4zM243.3,585.9h1.4v1.4h-1.4zM244.4,584.9h1.4v1.4h-1.4zM245.6,586.6h1.4v1.4h-1.4zM250.9,586.6h1.4v1.4h-1.4zM252.7,586.3h1.4v1.4h-1.4zM257.8,587.0h1.4v1.4h-1.4zM260.2,586.7h1.4v1.4h-1.4zM263.1,588.3h1.4v1.4h-1.4zM267.5,588.5h1.4v1.4h-1.4zM269.8,589.9h1.4v1.4h-1.4zM272.2,589.9h1.4v1.4h-1.4zM205.2,549.6h1.4v1.4h-1.4zM206.6,549.7h1.4v1.4h-1.4zM208.6,549.5h1.4v1.4h-1.4zM211.4,549.6h1.4v1.4h-1.4zM221.1,551.5h1.4v1.4h-1.4zM227.3,551.6h1.4v1.4h-1.4zM228.8,553.2h1.4v1.4h-1.4zM234.4,552.6h1.4v1.4h-1.4zM242.3,554.7h1.4v1.4h-1.4zM251.0,556.5h1.4v1.4h-1.4zM261.0,557.8h1.4v1.4h-1.4zM263.1,557.8h1.4v1.4h-1.4zM264.8,558.0h1.4v1.4h-1.4zM267.7,557.7h1.4v1.4h-1.4zM270.0,559.4h1.4v1.4h-1.4zM272.1,557.6h1.4v1.4h-1.4zM278.8,558.8h1.4v1.4h-1.4zM280.1,559.8h1.4v1.4h-1.4zM281.9,559.5h1.4v1.4h-1.4zM287.0,560.9h1.4v1.4h-1.4zM290.6,560.9h1.4v1.4h-1.4zM292.7,561.1h1.4v1.4h-1.4zM297.6,562.2h1.4v1.4h-1.4zM300.3,562.3h1.4v1.4h-1.4zM301.4,563.1h1.4v1.4h-1.4zM302.9,562.9h1.4v1.4h-1.4zM305.8,562.3h1.4v1.4h-1.4zM310.0,563.9h1.4v1.4h-1.4zM311.7,564.4h1.4v1.4h-1.4zM316.3,564.6h1.4v1.4h-1.4zM320.0,564.6h1.4v1.4h-1.4zM321.4,565.4h1.4v1.4h-1.4zM323.0,564.9h1.4v1.4h-1.4zM325.5,564.9h1.4v1.4h-1.4zM328.1,567.1h1.4v1.4h-1.4zM330.6,567.1h1.4v1.4h-1.4zM168.9,584.3h1.4v1.4h-1.4zM173.3,585.6h1.4v1.4h-1.4zM174.5,584.6h1.4v1.4h-1.4zM179.5,584.7h1.4v1.4h-1.4zM182.0,584.0h1.4v1.4h-1.4zM184.9,585.1h1.4v1.4h-1.4zM192.3,585.9h1.4v1.4h-1.4zM195.2,586.1h1.4v1.4h-1.4zM197.2,586.1h1.4v1.4h-1.4zM198.8,585.9h1.4v1.4h-1.4zM202.6,585.7h1.4v1.4h-1.4zM204.3,586.6h1.4v1.4h-1.4zM397.3,536.4h1.4v1.4h-1.4zM401.9,536.5h1.4v1.4h-1.4zM404.8,538.3h1.4v1.4h-1.4zM407.5,537.3h1.4v1.4h-1.4zM413.5,538.7h1.4v1.4h-1.4zM418.6,539.6h1.4v1.4h-1.4zM421.2,538.7h1.4v1.4h-1.4zM422.9,539.7h1.4v1.4h-1.4zM424.4,539.0h1.4v1.4h-1.4zM428.1,540.3h1.4v1.4h-1.4zM432.8,541.4h1.4v1.4h-1.4zM434.8,541.1h1.4v1.4h-1.4zM436.3,541.0h1.4v1.4h-1.4zM443.2,541.8h1.4v1.4h-1.4zM444.2,542.0h1.4v1.4h-1.4zM452.1,543.9h1.4v1.4h-1.4zM453.2,543.0h1.4v1.4h-1.4zM454.3,541.8h1.4v1.4h-1.4zM455.6,543.4h1.4v1.4h-1.4zM186.0,596.8h1.4v1.4h-1.4zM192.4,597.4h1.4v1.4h-1.4zM199.5,600.1h1.4v1.4h-1.4zM201.5,599.3h1.4v1.4h-1.4zM205.1,599.7h1.4v1.4h-1.4zM207.7,600.5h1.4v1.4h-1.4zM212.5,602.1h1.4v1.4h-1.4zM216.9,602.4h1.4v1.4h-1.4zM218.5,602.3h1.4v1.4h-1.4zM222.9,602.9h1.4v1.4h-1.4zM224.9,604.1h1.4v1.4h-1.4zM230.8,604.2h1.4v1.4h-1.4zM232.9,604.9h1.4v1.4h-1.4zM234.0,604.8h1.4v1.4h-1.4zM236.0,604.8h1.4v1.4h-1.4zM238.0,605.7h1.4v1.4h-1.4zM240.9,606.0h1.4v1.4h-1.4zM243.1,605.9h1.4v1.4h-1.4zM247.7,606.4h1.4v1.4h-1.4zM249.4,607.8h1.4v1.4h-1.4zM254.6,608.2h1.4v1.4h-1.4zM257.5,608.7h1.4v1.4h-1.4zM259.7,609.2h1.4v1.4h-1.4zM262.8,608.7h1.4v1.4h-1.4zM269.0,610.5h1.4v1.4h-1.4zM276.2,610.4h1.4v1.4h-1.4zM282.6,611.9h1.4v1.4h-1.4zM285.5,612.9h1.4v1.4h-1.4zM431.0,583.6h1.4v1.4h-1.4zM435.6,584.0h1.4v1.4h-1.4zM436.6,584.1h1.4v1.4h-1.4zM440.2,584.1h1.4v1.4h-1.4zM441.5,584.0h1.4v1.4h-1.4zM443.4,585.7h1.4v1.4h-1.4zM446.5,584.7h1.4v1.4h-1.4zM448.0,584.8h1.4v1.4h-1.4zM453.4,584.2h1.4v1.4h-1.4zM454.8,584.9h1.4v1.4h-1.4zM344.8,578.4h1.4v1.4h-1.4zM347.6,578.1h1.4v1.4h-1.4zM350.3,577.7h1.4v1.4h-1.4zM351.5,578.3h1.4v1.4h-1.4zM356.9,576.9h1.4v1.4h-1.4zM358.4,579.4h1.4v1.4h-1.4zM360.6,577.2h1.4v1.4h-1.4zM363.4,578.0h1.4v1.4h-1.4zM368.5,579.0h1.4v1.4h-1.4zM373.8,578.1h1.4v1.4h-1.4zM378.4,579.1h1.4v1.4h-1.4zM386.4,578.9h1.4v1.4h-1.4zM387.6,578.2h1.4v1.4h-1.4zM391.8,577.8h1.4v1.4h-1.4zM401.3,579.2h1.4v1.4h-1.4zM412.4,577.9h1.4v1.4h-1.4zM416.1,578.1h1.4v1.4h-1.4zM417.2,578.5h1.4v1.4h-1.4zM130.8,592.0h1.4v1.4h-1.4zM132.4,591.5h1.4v1.4h-1.4zM137.2,593.1h1.4v1.4h-1.4zM140.3,593.4h1.4v1.4h-1.4zM141.7,593.9h1.4v1.4h-1.4zM142.8,593.4h1.4v1.4h-1.4zM146.9,593.5h1.4v1.4h-1.4zM149.1,593.6h1.4v1.4h-1.4zM164.0,581.8h1.4v1.4h-1.4zM166.6,582.7h1.4v1.4h-1.4zM167.9,582.2h1.4v1.4h-1.4zM169.1,582.9h1.4v1.4h-1.4zM175.4,582.7h1.4v1.4h-1.4zM179.4,583.8h1.4v1.4h-1.4zM181.7,584.5h1.4v1.4h-1.4zM184.0,584.3h1.4v1.4h-1.4zM186.1,584.6h1.4v1.4h-1.4zM191.0,584.6h1.4v1.4h-1.4zM192.4,584.6h1.4v1.4h-1.4zM193.5,585.0h1.4v1.4h-1.4zM198.5,585.8h1.4v1.4h-1.4zM200.6,585.6h1.4v1.4h-1.4zM209.9,587.9h1.4v1.4h-1.4zM216.3,587.6h1.4v1.4h-1.4zM223.4,589.5h1.4v1.4h-1.4zM262.8,591.6h1.4v1.4h-1.4zM264.5,592.5h1.4v1.4h-1.4zM267.2,591.9h1.4v1.4h-1.4zM273.7,593.3h1.4v1.4h-1.4zM275.8,593.4h1.4v1.4h-1.4zM278.7,594.0h1.4v1.4h-1.4zM280.2,593.3h1.4v1.4h-1.4zM287.2,593.8h1.4v1.4h-1.4zM288.5,593.3h1.4v1.4h-1.4zM289.6,594.4h1.4v1.4h-1.4zM291.6,595.1h1.4v1.4h-1.4zM299.3,593.5h1.4v1.4h-1.4zM301.0,594.9h1.4v1.4h-1.4zM303.6,594.5h1.4v1.4h-1.4zM310.6,594.9h1.4v1.4h-1.4zM313.1,594.0h1.4v1.4h-1.4zM136.2,587.3h1.4v1.4h-1.4zM137.5,586.8h1.4v1.4h-1.4zM145.7,587.4h1.4v1.4h-1.4zM149.9,587.0h1.4v1.4h-1.4zM153.8,586.9h1.4v1.4h-1.4zM157.7,586.9h1.4v1.4h-1.4zM160.3,586.3h1.4v1.4h-1.4zM166.9,586.2h1.4v1.4h-1.4zM169.3,587.0h1.4v1.4h-1.4zM176.8,586.6h1.4v1.4h-1.4zM181.3,587.1h1.4v1.4h-1.4zM178.3,581.8h1.4v1.4h-1.4zM180.0,581.7h1.4v1.4h-1.4zM184.4,583.9h1.4v1.4h-1.4zM186.6,583.2h1.4v1.4h-1.4zM187.7,583.5h1.4v1.4h-1.4zM198.3,585.1h1.4v1.4h-1.4zM202.8,586.2h1.4v1.4h-1.4zM207.9,586.9h1.4v1.4h-1.4zM209.2,587.1h1.4v1.4h-1.4zM213.2,587.5h1.4v1.4h-1.4zM225.5,589.5h1.4v1.4h-1.4zM227.0,589.9h1.4v1.4h-1.4zM229.3,590.2h1.4v1.4h-1.4zM230.4,590.6h1.4v1.4h-1.4zM232.1,590.6h1.4v1.4h-1.4zM235.2,590.5h1.4v1.4h-1.4zM236.7,591.7h1.4v1.4h-1.4zM238.6,591.8h1.4v1.4h-1.4zM242.8,592.9h1.4v1.4h-1.4zM246.1,593.2h1.4v1.4h-1.4zM253.3,593.8h1.4v1.4h-1.4zM254.7,594.8h1.4v1.4h-1.4zM257.5,594.9h1.4v1.4h-1.4zM260.5,595.9h1.4v1.4h-1.4zM263.3,596.0h1.4v1.4h-1.4zM265.9,596.3h1.4v1.4h-1.4zM267.4,596.1h1.4v1.4h-1.4zM268.6,596.0h1.4v1.4h-1.4zM270.4,597.2h1.4v1.4h-1.4zM279.5,598.5h1.4v1.4h-1.4zM282.0,599.0h1.4v1.4h-1.4zM286.3,599.2h1.4v1.4h-1.4zM288.8,600.1h1.4v1.4h-1.4zM135.8,594.2h1.4v1.4h-1.4zM138.9,594.5h1.4v1.4h-1.4zM144.8,594.2h1.4v1.4h-1.4zM147.6,595.5h1.4v1.4h-1.4zM151.2,595.9h1.4v1.4h-1.4zM153.3,595.5h1.4v1.4h-1.4zM157.7,596.4h1.4v1.4h-1.4zM165.1,596.6h1.4v1.4h-1.4zM172.8,598.6h1.4v1.4h-1.4zM174.4,597.7h1.4v1.4h-1.4zM177.0,598.3h1.4v1.4h-1.4zM179.6,598.8h1.4v1.4h-1.4zM185.4,599.0h1.4v1.4h-1.4zM188.1,600.1h1.4v1.4h-1.4zM191.0,600.0h1.4v1.4h-1.4zM192.5,600.0h1.4v1.4h-1.4zM400.5,568.0h1.4v1.4h-1.4zM409.5,568.7h1.4v1.4h-1.4zM415.1,567.4h1.4v1.4h-1.4zM419.2,568.5h1.4v1.4h-1.4zM420.7,567.4h1.4v1.4h-1.4zM433.1,567.4h1.4v1.4h-1.4zM440.0,568.6h1.4v1.4h-1.4zM443.0,568.2h1.4v1.4h-1.4zM447.1,568.5h1.4v1.4h-1.4zM449.9,567.9h1.4v1.4h-1.4zM451.8,568.2h1.4v1.4h-1.4zM388.9,566.9h1.4v1.4h-1.4zM390.8,567.0h1.4v1.4h-1.4zM400.9,566.5h1.4v1.4h-1.4zM404.0,566.3h1.4v1.4h-1.4zM405.9,566.8h1.4v1.4h-1.4zM416.2,567.4h1.4v1.4h-1.4zM418.2,566.9h1.4v1.4h-1.4zM425.2,566.4h1.4v1.4h-1.4zM432.7,566.7h1.4v1.4h-1.4zM435.5,568.0h1.4v1.4h-1.4zM232.6,576.7h1.4v1.4h-1.4zM234.7,575.4h1.4v1.4h-1.4zM236.9,575.2h1.4v1.4h-1.4zM238.0,576.6h1.4v1.4h-1.4zM240.7,576.8h1.4v1.4h-1.4zM242.8,576.1h1.4v1.4h-1.4zM246.3,577.4h1.4v1.4h-1.4zM247.8,576.3h1.4v1.4h-1.4zM249.4,577.4h1.4v1.4h-1.4zM251.1,577.5h1.4v1.4h-1.4zM255.0,578.8h1.4v1.4h-1.4zM260.6,577.8h1.4v1.4h-1.4zM268.1,579.5h1.4v1.4h-1.4zM274.1,579.2h1.4v1.4h-1.4zM275.5,579.3h1.4v1.4h-1.4zM278.4,579.8h1.4v1.4h-1.4zM282.2,579.5h1.4v1.4h-1.4zM286.4,581.1h1.4v1.4h-1.4zM288.3,581.0h1.4v1.4h-1.4zM291.0,581.3h1.4v1.4h-1.4zM292.9,581.4h1.4v1.4h-1.4zM295.2,581.8h1.4v1.4h-1.4zM297.2,582.1h1.4v1.4h-1.4zM390.9,568.6h1.4v1.4h-1.4zM395.2,568.8h1.4v1.4h-1.4zM398.0,569.5h1.4v1.4h-1.4zM402.0,570.5h1.4v1.4h-1.4zM405.0,570.2h1.4v1.4h-1.4zM409.1,568.6h1.4v1.4h-1.4zM411.6,571.7h1.4v1.4h-1.4zM416.8,570.1h1.4v1.4h-1.4zM421.0,570.1h1.4v1.4h-1.4zM423.1,571.4h1.4v1.4h-1.4zM433.1,571.1h1.4v1.4h-1.4zM446.5,572.0h1.4v1.4h-1.4zM448.0,572.9h1.4v1.4h-1.4zM452.1,573.3h1.4v1.4h-1.4zM432.3,537.8h1.4v1.4h-1.4zM434.3,537.7h1.4v1.4h-1.4zM441.1,538.2h1.4v1.4h-1.4zM443.3,538.6h1.4v1.4h-1.4zM445.9,537.6h1.4v1.4h-1.4zM450.8,537.5h1.4v1.4h-1.4zM137.1,599.5h1.4v1.4h-1.4zM139.1,600.8h1.4v1.4h-1.4zM143.9,600.3h1.4v1.4h-1.4zM151.3,601.5h1.4v1.4h-1.4zM157.8,602.7h1.4v1.4h-1.4zM162.6,603.4h1.4v1.4h-1.4zM167.2,603.7h1.4v1.4h-1.4zM169.5,605.3h1.4v1.4h-1.4zM172.4,604.2h1.4v1.4h-1.4zM173.6,604.7h1.4v1.4h-1.4zM181.2,605.9h1.4v1.4h-1.4zM182.8,604.4h1.4v1.4h-1.4zM183.9,606.4h1.4v1.4h-1.4zM185.1,604.9h1.4v1.4h-1.4zM189.4,606.7h1.4v1.4h-1.4zM193.8,606.6h1.4v1.4h-1.4zM198.2,607.2h1.4v1.4h-1.4zM203.9,607.6h1.4v1.4h-1.4zM205.3,608.7h1.4v1.4h-1.4zM210.9,608.2h1.4v1.4h-1.4zM213.4,608.1h1.4v1.4h-1.4zM367.6,566.4h1.4v1.4h-1.4zM371.6,567.5h1.4v1.4h-1.4zM374.3,566.5h1.4v1.4h-1.4zM375.5,565.8h1.4v1.4h-1.4zM378.2,567.0h1.4v1.4h-1.4zM382.5,565.7h1.4v1.4h-1.4zM384.4,566.5h1.4v1.4h-1.4zM386.5,566.5h1.4v1.4h-1.4zM389.4,567.8h1.4v1.4h-1.4zM394.3,566.5h1.4v1.4h-1.4zM408.6,568.0h1.4v1.4h-1.4zM410.6,567.9h1.4v1.4h-1.4zM413.2,567.1h1.4v1.4h-1.4zM414.3,567.8h1.4v1.4h-1.4zM415.5,567.2h1.4v1.4h-1.4zM427.1,567.4h1.4v1.4h-1.4zM429.4,567.1h1.4v1.4h-1.4zM435.3,568.1h1.4v1.4h-1.4zM437.8,567.3h1.4v1.4h-1.4zM450.0,568.0h1.4v1.4h-1.4zM452.8,567.9h1.4v1.4h-1.4zM436.9,555.0h1.4v1.4h-1.4zM439.3,555.6h1.4v1.4h-1.4zM441.3,556.2h1.4v1.4h-1.4zM444.8,557.3h1.4v1.4h-1.4zM450.0,557.8h1.4v1.4h-1.4zM452.1,558.4h1.4v1.4h-1.4zM454.9,558.1h1.4v1.4h-1.4zM310.5,575.8h1.4v1.4h-1.4zM317.9,577.5h1.4v1.4h-1.4zM327.8,579.6h1.4v1.4h-1.4zM343.5,584.7h1.4v1.4h-1.4zM350.5,587.6h1.4v1.4h-1.4zM354.4,587.1h1.4v1.4h-1.4zM357.7,587.8h1.4v1.4h-1.4zM359.1,588.1h1.4v1.4h-1.4zM361.6,588.6h1.4v1.4h-1.4zM368.8,590.3h1.4v1.4h-1.4zM372.1,592.1h1.4v1.4h-1.4zM374.1,592.2h1.4v1.4h-1.4zM376.5,593.1h1.4v1.4h-1.4zM379.2,594.0h1.4v1.4h-1.4zM383.6,594.4h1.4v1.4h-1.4zM390.0,596.7h1.4v1.4h-1.4zM308.8,563.3h1.4v1.4h-1.4zM310.8,564.3h1.4v1.4h-1.4zM312.0,564.3h1.4v1.4h-1.4zM313.1,564.4h1.4v1.4h-1.4zM320.1,564.7h1.4v1.4h-1.4zM323.4,563.9h1.4v1.4h-1.4zM330.1,565.8h1.4v1.4h-1.4zM331.6,565.3h1.4v1.4h-1.4zM332.9,565.1h1.4v1.4h-1.4zM335.8,565.0h1.4v1.4h-1.4zM340.4,565.5h1.4v1.4h-1.4zM345.8,565.0h1.4v1.4h-1.4zM349.8,566.7h1.4v1.4h-1.4zM351.0,565.7h1.4v1.4h-1.4zM356.5,566.8h1.4v1.4h-1.4zM363.6,568.2h1.4v1.4h-1.4zM364.6,567.6h1.4v1.4h-1.4zM368.8,566.5h1.4v1.4h-1.4zM371.3,567.6h1.4v1.4h-1.4zM439.2,589.4h1.4v1.4h-1.4zM446.9,590.0h1.4v1.4h-1.4zM449.4,590.5h1.4v1.4h-1.4zM450.6,589.5h1.4v1.4h-1.4zM453.4,589.3h1.4v1.4h-1.4zM456.2,589.8h1.4v1.4h-1.4zM134.7,592.3h1.4v1.4h-1.4zM139.3,592.3h1.4v1.4h-1.4zM141.7,593.3h1.4v1.4h-1.4zM147.6,593.9h1.4v1.4h-1.4zM149.7,593.0h1.4v1.4h-1.4zM152.8,594.3h1.4v1.4h-1.4zM156.5,594.8h1.4v1.4h-1.4zM160.0,594.8h1.4v1.4h-1.4zM162.6,595.2h1.4v1.4h-1.4zM169.8,596.2h1.4v1.4h-1.4zM171.6,596.8h1.4v1.4h-1.4zM175.0,597.2h1.4v1.4h-1.4zM178.5,597.4h1.4v1.4h-1.4zM180.2,598.2h1.4v1.4h-1.4zM182.6,598.1h1.4v1.4h-1.4zM185.3,598.9h1.4v1.4h-1.4zM187.3,598.7h1.4v1.4h-1.4zM189.3,599.0h1.4v1.4h-1.4zM192.1,598.8h1.4v1.4h-1.4zM194.8,600.4h1.4v1.4h-1.4zM197.2,599.8h1.4v1.4h-1.4zM132.3,564.7h1.4v1.4h-1.4zM139.2,565.8h1.4v1.4h-1.4zM140.7,564.8h1.4v1.4h-1.4zM146.6,566.5h1.4v1.4h-1.4zM148.0,566.6h1.4v1.4h-1.4zM150.8,567.6h1.4v1.4h-1.4zM151.9,566.2h1.4v1.4h-1.4zM156.9,567.3h1.4v1.4h-1.4zM161.2,567.1h1.4v1.4h-1.4zM164.7,567.0h1.4v1.4h-1.4zM165.7,566.3h1.4v1.4h-1.4zM169.3,567.0h1.4v1.4h-1.4zM171.4,567.5h1.4v1.4h-1.4zM175.4,569.6h1.4v1.4h-1.4zM181.2,568.4h1.4v1.4h-1.4zM182.5,569.1h1.4v1.4h-1.4zM187.8,569.5h1.4v1.4h-1.4zM193.1,569.5h1.4v1.4h-1.4zM195.5,570.0h1.4v1.4h-1.4zM192.5,590.2h1.4v1.4h-1.4zM193.9,591.2h1.4v1.4h-1.4zM198.1,591.4h1.4v1.4h-1.4zM203.0,590.9h1.4v1.4h-1.4zM216.7,591.1h1.4v1.4h-1.4zM219.2,591.0h1.4v1.4h-1.4zM226.0,591.5h1.4v1.4h-1.4zM230.3,591.7h1.4v1.4h-1.4zM235.4,591.2h1.4v1.4h-1.4zM237.4,590.6h1.4v1.4h-1.4zM247.2,591.4h1.4v1.4h-1.4zM248.7,591.0h1.4v1.4h-1.4zM254.7,591.7h1.4v1.4h-1.4zM261.0,591.3h1.4v1.4h-1.4zM264.1,591.1h1.4v1.4h-1.4zM265.3,591.0h1.4v1.4h-1.4zM268.4,590.7h1.4v1.4h-1.4zM269.6,591.6h1.4v1.4h-1.4zM276.1,590.9h1.4v1.4h-1.4zM279.0,590.5h1.4v1.4h-1.4zM280.7,590.5h1.4v1.4h-1.4zM281.7,591.7h1.4v1.4h-1.4zM290.2,592.0h1.4v1.4h-1.4zM295.0,590.6h1.4v1.4h-1.4zM297.2,591.3h1.4v1.4h-1.4zM299.9,591.8h1.4v1.4h-1.4zM302.3,590.9h1.4v1.4h-1.4zM304.8,591.3h1.4v1.4h-1.4zM311.7,591.8h1.4v1.4h-1.4zM313.2,591.2h1.4v1.4h-1.4zM131.9,602.6h1.4v1.4h-1.4zM133.5,603.2h1.4v1.4h-1.4zM134.7,603.5h1.4v1.4h-1.4zM136.6,604.4h1.4v1.4h-1.4zM138.2,603.6h1.4v1.4h-1.4zM150.5,602.5h1.4v1.4h-1.4zM253.9,588.4h1.4v1.4h-1.4zM264.0,590.4h1.4v1.4h-1.4zM265.8,591.5h1.4v1.4h-1.4zM267.5,591.8h1.4v1.4h-1.4zM269.2,591.9h1.4v1.4h-1.4zM270.9,591.2h1.4v1.4h-1.4zM276.5,592.9h1.4v1.4h-1.4zM279.0,593.9h1.4v1.4h-1.4zM281.9,593.5h1.4v1.4h-1.4zM291.0,594.4h1.4v1.4h-1.4zM294.7,595.1h1.4v1.4h-1.4zM296.6,594.4h1.4v1.4h-1.4zM300.6,596.3h1.4v1.4h-1.4zM305.1,596.2h1.4v1.4h-1.4zM307.2,597.8h1.4v1.4h-1.4zM309.4,597.4h1.4v1.4h-1.4zM318.4,599.7h1.4v1.4h-1.4zM320.8,599.7h1.4v1.4h-1.4zM324.4,600.3h1.4v1.4h-1.4zM333.9,601.6h1.4v1.4h-1.4zM335.6,602.5h1.4v1.4h-1.4zM339.8,601.7h1.4v1.4h-1.4zM344.3,602.3h1.4v1.4h-1.4zM345.8,603.9h1.4v1.4h-1.4zM347.1,603.9h1.4v1.4h-1.4zM351.4,604.8h1.4v1.4h-1.4zM354.3,604.1h1.4v1.4h-1.4zM355.9,605.2h1.4v1.4h-1.4zM358.6,605.8h1.4v1.4h-1.4zM131.6,574.1h1.4v1.4h-1.4zM134.3,573.3h1.4v1.4h-1.4zM135.9,573.1h1.4v1.4h-1.4zM140.2,573.9h1.4v1.4h-1.4zM143.0,574.9h1.4v1.4h-1.4zM145.2,575.3h1.4v1.4h-1.4zM151.8,575.3h1.4v1.4h-1.4zM154.0,576.6h1.4v1.4h-1.4zM155.5,576.5h1.4v1.4h-1.4zM158.1,576.1h1.4v1.4h-1.4zM163.4,578.6h1.4v1.4h-1.4zM176.4,578.3h1.4v1.4h-1.4zM180.1,579.1h1.4v1.4h-1.4zM182.3,580.7h1.4v1.4h-1.4zM185.0,580.6h1.4v1.4h-1.4zM189.4,580.7h1.4v1.4h-1.4zM191.8,580.8h1.4v1.4h-1.4zM202.2,582.1h1.4v1.4h-1.4zM208.9,582.9h1.4v1.4h-1.4zM210.5,583.2h1.4v1.4h-1.4zM252.4,552.2h1.4v1.4h-1.4zM262.5,553.4h1.4v1.4h-1.4zM266.2,552.9h1.4v1.4h-1.4zM275.6,553.1h1.4v1.4h-1.4zM278.4,553.8h1.4v1.4h-1.4zM287.0,555.5h1.4v1.4h-1.4zM288.5,554.9h1.4v1.4h-1.4zM192.3,599.9h1.4v1.4h-1.4zM194.2,600.4h1.4v1.4h-1.4zM204.5,601.7h1.4v1.4h-1.4zM208.0,602.1h1.4v1.4h-1.4zM210.9,602.4h1.4v1.4h-1.4zM213.7,602.5h1.4v1.4h-1.4zM216.4,602.7h1.4v1.4h-1.4zM219.4,602.2h1.4v1.4h-1.4zM221.6,602.8h1.4v1.4h-1.4zM224.1,603.6h1.4v1.4h-1.4zM226.0,603.8h1.4v1.4h-1.4zM228.1,604.6h1.4v1.4h-1.4zM234.3,605.3h1.4v1.4h-1.4zM236.4,604.1h1.4v1.4h-1.4zM239.3,605.4h1.4v1.4h-1.4zM241.4,606.2h1.4v1.4h-1.4zM212.8,552.4h1.4v1.4h-1.4zM219.1,553.5h1.4v1.4h-1.4zM226.0,554.3h1.4v1.4h-1.4zM228.1,556.1h1.4v1.4h-1.4zM229.8,555.9h1.4v1.4h-1.4zM240.5,557.5h1.4v1.4h-1.4zM241.9,557.3h1.4v1.4h-1.4zM243.8,557.8h1.4v1.4h-1.4zM246.4,559.1h1.4v1.4h-1.4zM248.7,558.7h1.4v1.4h-1.4zM254.4,561.1h1.4v1.4h-1.4zM257.2,560.4h1.4v1.4h-1.4zM260.8,561.0h1.4v1.4h-1.4zM264.7,562.1h1.4v1.4h-1.4zM271.3,563.4h1.4v1.4h-1.4zM277.8,564.5h1.4v1.4h-1.4zM279.6,564.8h1.4v1.4h-1.4zM283.9,565.6h1.4v1.4h-1.4zM285.9,563.6h1.4v1.4h-1.4zM291.5,567.1h1.4v1.4h-1.4zM298.4,567.3h1.4v1.4h-1.4zM302.3,568.3h1.4v1.4h-1.4zM303.5,568.7h1.4v1.4h-1.4zM304.7,569.1h1.4v1.4h-1.4zM306.7,568.9h1.4v1.4h-1.4zM309.2,569.9h1.4v1.4h-1.4zM130.7,582.9h1.4v1.4h-1.4zM133.2,582.9h1.4v1.4h-1.4zM138.3,584.5h1.4v1.4h-1.4zM140.5,584.5h1.4v1.4h-1.4zM142.8,585.5h1.4v1.4h-1.4zM145.5,585.3h1.4v1.4h-1.4zM150.4,587.2h1.4v1.4h-1.4zM152.3,586.7h1.4v1.4h-1.4zM153.6,586.6h1.4v1.4h-1.4zM156.0,587.9h1.4v1.4h-1.4zM157.3,586.7h1.4v1.4h-1.4zM159.7,588.5h1.4v1.4h-1.4zM167.7,589.4h1.4v1.4h-1.4zM170.5,590.3h1.4v1.4h-1.4zM172.3,590.9h1.4v1.4h-1.4zM178.9,591.9h1.4v1.4h-1.4zM180.5,592.6h1.4v1.4h-1.4zM181.9,592.9h1.4v1.4h-1.4zM185.8,593.1h1.4v1.4h-1.4zM187.4,593.0h1.4v1.4h-1.4zM200.3,596.3h1.4v1.4h-1.4zM203.8,597.2h1.4v1.4h-1.4zM205.4,597.3h1.4v1.4h-1.4zM208.2,597.3h1.4v1.4h-1.4zM347.0,564.2h1.4v1.4h-1.4zM349.9,563.4h1.4v1.4h-1.4zM350.9,563.6h1.4v1.4h-1.4zM355.7,563.3h1.4v1.4h-1.4zM358.5,563.6h1.4v1.4h-1.4zM360.3,564.4h1.4v1.4h-1.4zM361.8,563.6h1.4v1.4h-1.4zM364.2,564.5h1.4v1.4h-1.4zM368.3,563.9h1.4v1.4h-1.4zM298.8,576.2h1.4v1.4h-1.4zM302.3,578.2h1.4v1.4h-1.4zM307.2,576.7h1.4v1.4h-1.4zM312.7,576.9h1.4v1.4h-1.4zM316.6,577.9h1.4v1.4h-1.4zM321.4,579.4h1.4v1.4h-1.4zM322.7,579.0h1.4v1.4h-1.4zM323.7,578.5h1.4v1.4h-1.4zM330.3,580.0h1.4v1.4h-1.4zM332.8,580.9h1.4v1.4h-1.4zM345.1,580.9h1.4v1.4h-1.4zM346.4,582.6h1.4v1.4h-1.4zM350.6,582.6h1.4v1.4h-1.4zM353.6,582.5h1.4v1.4h-1.4zM358.0,583.0h1.4v1.4h-1.4zM364.0,583.0h1.4v1.4h-1.4zM366.7,584.8h1.4v1.4h-1.4zM377.1,584.0h1.4v1.4h-1.4zM379.2,585.4h1.4v1.4h-1.4zM381.5,585.7h1.4v1.4h-1.4zM388.3,586.3h1.4v1.4h-1.4zM393.8,587.9h1.4v1.4h-1.4zM398.1,588.6h1.4v1.4h-1.4zM399.2,587.6h1.4v1.4h-1.4zM147.9,599.3h1.4v1.4h-1.4zM149.4,599.7h1.4v1.4h-1.4zM151.2,598.1h1.4v1.4h-1.4zM153.9,599.4h1.4v1.4h-1.4zM158.1,599.5h1.4v1.4h-1.4zM162.8,599.1h1.4v1.4h-1.4zM165.3,598.7h1.4v1.4h-1.4zM168.1,599.3h1.4v1.4h-1.4zM174.5,600.3h1.4v1.4h-1.4zM177.4,598.7h1.4v1.4h-1.4zM184.0,600.0h1.4v1.4h-1.4zM190.2,599.5h1.4v1.4h-1.4zM191.8,599.6h1.4v1.4h-1.4zM206.7,600.0h1.4v1.4h-1.4zM211.9,600.2h1.4v1.4h-1.4zM215.8,599.7h1.4v1.4h-1.4zM218.2,600.2h1.4v1.4h-1.4zM219.4,598.6h1.4v1.4h-1.4zM227.0,599.7h1.4v1.4h-1.4zM229.3,599.2h1.4v1.4h-1.4zM234.6,600.3h1.4v1.4h-1.4zM237.5,600.3h1.4v1.4h-1.4zM238.9,601.4h1.4v1.4h-1.4zM244.9,601.7h1.4v1.4h-1.4zM246.4,601.8h1.4v1.4h-1.4zM248.5,601.2h1.4v1.4h-1.4zM250.3,602.1h1.4v1.4h-1.4zM298.9,559.6h1.4v1.4h-1.4zM307.9,560.4h1.4v1.4h-1.4zM309.0,560.7h1.4v1.4h-1.4zM313.3,561.7h1.4v1.4h-1.4zM315.0,561.8h1.4v1.4h-1.4zM317.1,560.7h1.4v1.4h-1.4zM319.0,561.6h1.4v1.4h-1.4zM332.6,563.5h1.4v1.4h-1.4zM333.8,562.1h1.4v1.4h-1.4zM341.5,564.2h1.4v1.4h-1.4zM344.8,564.3h1.4v1.4h-1.4zM348.8,564.9h1.4v1.4h-1.4zM351.0,564.4h1.4v1.4h-1.4zM353.3,565.2h1.4v1.4h-1.4zM360.9,565.7h1.4v1.4h-1.4zM361.9,565.6h1.4v1.4h-1.4zM369.9,566.9h1.4v1.4h-1.4zM374.1,567.2h1.4v1.4h-1.4zM378.3,568.2h1.4v1.4h-1.4zM380.1,567.1h1.4v1.4h-1.4zM384.3,568.0h1.4v1.4h-1.4zM387.0,567.4h1.4v1.4h-1.4zM388.6,568.5h1.4v1.4h-1.4zM391.8,568.2h1.4v1.4h-1.4zM393.1,569.9h1.4v1.4h-1.4zM401.6,570.7h1.4v1.4h-1.4zM403.4,570.4h1.4v1.4h-1.4zM408.7,570.5h1.4v1.4h-1.4zM411.1,569.8h1.4v1.4h-1.4zM204.5,554.8h1.4v1.4h-1.4zM207.2,555.8h1.4v1.4h-1.4zM209.1,555.9h1.4v1.4h-1.4zM214.3,555.7h1.4v1.4h-1.4zM217.8,555.9h1.4v1.4h-1.4zM222.1,554.8h1.4v1.4h-1.4zM234.6,556.2h1.4v1.4h-1.4zM236.7,555.3h1.4v1.4h-1.4zM239.7,555.9h1.4v1.4h-1.4zM242.5,555.6h1.4v1.4h-1.4zM245.2,555.9h1.4v1.4h-1.4zM246.4,556.5h1.4v1.4h-1.4zM247.7,555.0h1.4v1.4h-1.4zM249.9,556.3h1.4v1.4h-1.4zM261.9,555.4h1.4v1.4h-1.4zM264.9,556.9h1.4v1.4h-1.4zM267.5,556.4h1.4v1.4h-1.4zM270.3,556.5h1.4v1.4h-1.4zM274.3,556.6h1.4v1.4h-1.4zM277.5,556.4h1.4v1.4h-1.4zM279.9,556.3h1.4v1.4h-1.4zM286.8,557.0h1.4v1.4h-1.4zM288.6,556.5h1.4v1.4h-1.4zM291.4,557.1h1.4v1.4h-1.4zM295.4,557.2h1.4v1.4h-1.4zM300.2,556.0h1.4v1.4h-1.4zM304.9,556.2h1.4v1.4h-1.4zM312.2,557.5h1.4v1.4h-1.4zM182.4,573.8h1.4v1.4h-1.4zM186.1,574.3h1.4v1.4h-1.4zM189.0,573.5h1.4v1.4h-1.4zM190.7,573.9h1.4v1.4h-1.4zM192.8,573.5h1.4v1.4h-1.4zM196.1,575.1h1.4v1.4h-1.4zM197.3,574.7h1.4v1.4h-1.4zM205.2,574.3h1.4v1.4h-1.4zM207.1,574.2h1.4v1.4h-1.4zM209.2,574.5h1.4v1.4h-1.4zM210.8,574.8h1.4v1.4h-1.4zM216.7,575.2h1.4v1.4h-1.4zM218.3,574.1h1.4v1.4h-1.4zM220.9,575.4h1.4v1.4h-1.4zM222.7,574.2h1.4v1.4h-1.4zM227.2,574.6h1.4v1.4h-1.4zM229.6,575.3h1.4v1.4h-1.4zM231.1,574.7h1.4v1.4h-1.4zM233.3,575.9h1.4v1.4h-1.4zM234.8,574.6h1.4v1.4h-1.4zM243.0,576.3h1.4v1.4h-1.4zM247.7,574.9h1.4v1.4h-1.4zM251.6,575.7h1.4v1.4h-1.4zM260.1,576.0h1.4v1.4h-1.4zM265.4,575.4h1.4v1.4h-1.4zM268.1,576.1h1.4v1.4h-1.4zM260.5,552.9h1.4v1.4h-1.4zM264.2,553.5h1.4v1.4h-1.4zM266.5,552.2h1.4v1.4h-1.4zM274.7,552.3h1.4v1.4h-1.4zM276.5,551.5h1.4v1.4h-1.4zM282.5,551.4h1.4v1.4h-1.4zM284.3,550.8h1.4v1.4h-1.4zM285.5,551.6h1.4v1.4h-1.4zM290.0,551.7h1.4v1.4h-1.4zM294.0,551.8h1.4v1.4h-1.4zM307.5,550.4h1.4v1.4h-1.4zM312.3,549.7h1.4v1.4h-1.4zM314.7,549.7h1.4v1.4h-1.4zM190.4,578.4h1.4v1.4h-1.4zM193.0,577.4h1.4v1.4h-1.4zM194.5,577.8h1.4v1.4h-1.4zM199.5,578.5h1.4v1.4h-1.4zM211.2,579.5h1.4v1.4h-1.4zM214.0,580.8h1.4v1.4h-1.4zM217.7,581.2h1.4v1.4h-1.4zM221.8,581.4h1.4v1.4h-1.4zM226.5,582.3h1.4v1.4h-1.4zM234.8,584.1h1.4v1.4h-1.4zM237.5,582.9h1.4v1.4h-1.4zM246.7,585.2h1.4v1.4h-1.4zM249.1,586.0h1.4v1.4h-1.4zM258.4,586.0h1.4v1.4h-1.4zM259.6,586.5h1.4v1.4h-1.4zM272.0,588.5h1.4v1.4h-1.4zM275.7,588.9h1.4v1.4h-1.4zM281.4,589.6h1.4v1.4h-1.4zM287.1,590.6h1.4v1.4h-1.4zM299.8,592.0h1.4v1.4h-1.4zM260.6,592.9h1.4v1.4h-1.4zM264.9,592.6h1.4v1.4h-1.4zM266.6,593.6h1.4v1.4h-1.4zM267.7,593.3h1.4v1.4h-1.4zM272.3,594.6h1.4v1.4h-1.4zM275.2,593.9h1.4v1.4h-1.4zM281.0,595.2h1.4v1.4h-1.4zM282.1,594.8h1.4v1.4h-1.4zM284.0,594.4h1.4v1.4h-1.4zM292.6,596.0h1.4v1.4h-1.4zM293.8,595.2h1.4v1.4h-1.4zM296.3,595.6h1.4v1.4h-1.4zM300.0,596.3h1.4v1.4h-1.4zM303.8,596.8h1.4v1.4h-1.4zM305.1,595.7h1.4v1.4h-1.4zM307.9,595.7h1.4v1.4h-1.4zM309.1,595.7h1.4v1.4h-1.4zM311.4,596.3h1.4v1.4h-1.4zM314.3,596.3h1.4v1.4h-1.4zM316.5,596.9h1.4v1.4h-1.4zM320.4,596.6h1.4v1.4h-1.4zM323.2,597.6h1.4v1.4h-1.4zM325.7,596.5h1.4v1.4h-1.4zM327.5,597.9h1.4v1.4h-1.4zM330.1,597.8h1.4v1.4h-1.4zM331.4,597.7h1.4v1.4h-1.4zM332.5,596.8h1.4v1.4h-1.4zM335.8,598.4h1.4v1.4h-1.4zM337.3,598.6h1.4v1.4h-1.4zM340.1,597.4h1.4v1.4h-1.4zM357.9,598.8h1.4v1.4h-1.4zM367.2,600.0h1.4v1.4h-1.4zM370.7,599.2h1.4v1.4h-1.4zM372.3,600.1h1.4v1.4h-1.4zM378.8,600.5h1.4v1.4h-1.4zM451.9,563.4h1.4v1.4h-1.4zM184.0,556.2h1.4v1.4h-1.4zM294.1,560.2h1.4v1.4h-1.4zM220.9,580.2h1.4v1.4h-1.4zM259.7,570.3h1.4v1.4h-1.4zM239.6,564.0h1.4v1.4h-1.4zM249.3,589.5h1.4v1.4h-1.4zM196.3,594.6h1.4v1.4h-1.4zM218.5,587.1h1.4v1.4h-1.4zM222.7,587.2h1.4v1.4h-1.4zM379.4,558.2h1.4v1.4h-1.4zM244.5,586.8h1.4v1.4h-1.4zM198.9,567.8h1.4v1.4h-1.4zM256.9,584.0h1.4v1.4h-1.4zM131.1,585.2h1.4v1.4h-1.4zM192.0,597.0h1.4v1.4h-1.4zM272.0,576.6h1.4v1.4h-1.4zM338.9,565.4h1.4v1.4h-1.4zM407.0,540.3h1.4v1.4h-1.4zM321.5,565.9h1.4v1.4h-1.4zM133.1,577.7h1.4v1.4h-1.4zM248.0,570.5h1.4v1.4h-1.4zM389.2,553.2h1.4v1.4h-1.4zM432.4,565.0h1.4v1.4h-1.4zM338.7,556.4h1.4v1.4h-1.4zM448.3,558.2h1.4v1.4h-1.4zM184.3,574.8h1.4v1.4h-1.4zM191.1,597.5h1.4v1.4h-1.4zM305.4,570.5h1.4v1.4h-1.4zM419.0,567.7h1.4v1.4h-1.4zM433.7,558.3h1.4v1.4h-1.4zM137.9,588.7h1.4v1.4h-1.4zM330.1,549.9h1.4v1.4h-1.4zM189.3,580.7h1.4v1.4h-1.4zM258.7,588.4h1.4v1.4h-1.4zM387.6,537.4h1.4v1.4h-1.4zM253.2,555.6h1.4v1.4h-1.4zM305.4,566.8h1.4v1.4h-1.4zM177.9,568.5h1.4v1.4h-1.4zM306.8,502.2h1.4v1.4h-1.4zM137.1,597.3h1.4v1.4h-1.4zM319.4,580.9h1.4v1.4h-1.4zM214.5,592.5h1.4v1.4h-1.4zM245.3,583.4h1.4v1.4h-1.4zM392.8,548.0h1.4v1.4h-1.4zM195.4,575.3h1.4v1.4h-1.4zM153.2,565.9h1.4v1.4h-1.4zM403.2,563.6h1.4v1.4h-1.4zM219.1,569.7h1.4v1.4h-1.4zM338.2,573.1h1.4v1.4h-1.4zM431.7,563.7h1.4v1.4h-1.4zM405.9,564.1h1.4v1.4h-1.4zM422.1,545.8h1.4v1.4h-1.4zM273.4,552.0h1.4v1.4h-1.4zM260.7,572.9h1.4v1.4h-1.4zM258.5,582.7h1.4v1.4h-1.4zM316.7,584.6h1.4v1.4h-1.4zM245.4,582.0h1.4v1.4h-1.4zM165.6,586.7h1.4v1.4h-1.4zM333.7,573.8h1.4v1.4h-1.4zM183.8,573.9h1.4v1.4h-1.4zM429.9,561.7h1.4v1.4h-1.4zM227.6,553.2h1.4v1.4h-1.4zM209.3,584.3h1.4v1.4h-1.4zM183.5,595.0h1.4v1.4h-1.4zM156.2,589.5h1.4v1.4h-1.4zM335.7,578.1h1.4v1.4h-1.4zM153.5,557.8h1.4v1.4h-1.4zM361.9,574.1h1.4v1.4h-1.4zM166.5,584.0h1.4v1.4h-1.4zM401.7,568.9h1.4v1.4h-1.4zM148.9,559.1h1.4v1.4h-1.4zM202.5,551.9h1.4v1.4h-1.4zM304.1,578.6h1.4v1.4h-1.4zM261.8,553.1h1.4v1.4h-1.4zM383.2,560.4h1.4v1.4h-1.4zM234.2,586.0h1.4v1.4h-1.4zM151.4,588.4h1.4v1.4h-1.4zM201.4,592.4h1.4v1.4h-1.4zM372.2,566.2h1.4v1.4h-1.4zM401.7,553.8h1.4v1.4h-1.4zM234.5,574.9h1.4v1.4h-1.4zM395.8,569.5h1.4v1.4h-1.4zM141.8,543.9h1.4v1.4h-1.4zM205.7,578.0h1.4v1.4h-1.4zM330.4,544.0h1.4v1.4h-1.4zM188.2,590.9h1.4v1.4h-1.4zM133.8,602.3h1.4v1.4h-1.4zM257.9,554.7h1.4v1.4h-1.4zM167.0,598.9h1.4v1.4h-1.4zM135.2,603.7h1.4v1.4h-1.4zM285.5,583.5h1.4v1.4h-1.4zM454.5,547.5h1.4v1.4h-1.4zM417.2,554.5h1.4v1.4h-1.4zM214.8,582.6h1.4v1.4h-1.4zM400.7,562.5h1.4v1.4h-1.4zM155.7,583.3h1.4v1.4h-1.4zM426.8,569.3h1.4v1.4h-1.4zM402.0,527.6h1.4v1.4h-1.4zM198.2,565.8h1.4v1.4h-1.4zM453.9,549.2h1.4v1.4h-1.4zM248.5,548.8h1.4v1.4h-1.4zM360.5,533.6h1.4v1.4h-1.4zM360.5,559.5h1.4v1.4h-1.4zM257.7,591.4h1.4v1.4h-1.4zM152.0,541.0h1.4v1.4h-1.4zM378.1,552.1h1.4v1.4h-1.4zM352.8,565.7h1.4v1.4h-1.4zM197.8,571.2h1.4v1.4h-1.4zM403.6,538.3h1.4v1.4h-1.4zM272.7,550.3h1.4v1.4h-1.4zM182.6,557.9h1.4v1.4h-1.4zM422.9,569.4h1.4v1.4h-1.4zM327.4,530.7h1.4v1.4h-1.4zM217.4,586.9h1.4v1.4h-1.4zM414.9,540.8h1.4v1.4h-1.4zM327.9,573.2h1.4v1.4h-1.4zM445.3,560.7h1.4v1.4h-1.4zM244.9,573.5h1.4v1.4h-1.4zM436.4,554.4h1.4v1.4h-1.4zM456.1,477.1h1.4v1.4h-1.4zM138.5,597.6h1.4v1.4h-1.4zM303.6,570.7h1.4v1.4h-1.4zM367.6,551.1h1.4v1.4h-1.4zM156.0,592.5h1.4v1.4h-1.4zM254.7,586.2h1.4v1.4h-1.4zM296.4,558.2h1.4v1.4h-1.4zM313.4,572.3h1.4v1.4h-1.4zM221.8,583.2h1.4v1.4h-1.4zM278.2,578.9h1.4v1.4h-1.4zM204.5,581.1h1.4v1.4h-1.4zM181.8,594.0h1.4v1.4h-1.4zM379.5,557.5h1.4v1.4h-1.4zM177.9,575.8h1.4v1.4h-1.4zM348.4,560.6h1.4v1.4h-1.4zM204.1,586.2h1.4v1.4h-1.4zM435.0,560.1h1.4v1.4h-1.4zM343.6,580.0h1.4v1.4h-1.4zM449.2,518.4h1.4v1.4h-1.4zM408.3,559.5h1.4v1.4h-1.4zM447.5,510.3h1.4v1.4h-1.4zM335.8,536.4h1.4v1.4h-1.4zM321.5,568.9h1.4v1.4h-1.4zM204.8,590.9h1.4v1.4h-1.4zM325.7,545.6h1.4v1.4h-1.4zM378.2,566.9h1.4v1.4h-1.4zM289.9,539.7h1.4v1.4h-1.4zM430.2,556.7h1.4v1.4h-1.4zM371.8,560.2h1.4v1.4h-1.4zM174.1,556.7h1.4v1.4h-1.4zM203.2,557.4h1.4v1.4h-1.4zM444.6,555.0h1.4v1.4h-1.4zM374.8,573.2h1.4v1.4h-1.4zM296.3,560.2h1.4v1.4h-1.4zM252.8,529.8h1.4v1.4h-1.4zM316.9,549.2h1.4v1.4h-1.4zM162.4,585.7h1.4v1.4h-1.4zM359.2,546.3h1.4v1.4h-1.4zM392.6,554.9h1.4v1.4h-1.4zM405.7,565.1h1.4v1.4h-1.4zM193.3,586.8h1.4v1.4h-1.4zM154.1,563.4h1.4v1.4h-1.4zM266.9,583.4h1.4v1.4h-1.4zM172.8,589.5h1.4v1.4h-1.4zM157.8,568.6h1.4v1.4h-1.4zM357.4,561.8h1.4v1.4h-1.4zM403.5,555.4h1.4v1.4h-1.4zM232.7,590.3h1.4v1.4h-1.4zM281.9,578.6h1.4v1.4h-1.4zM376.0,562.4h1.4v1.4h-1.4zM180.6,567.4h1.4v1.4h-1.4zM417.1,559.5h1.4v1.4h-1.4zM395.6,563.7h1.4v1.4h-1.4zM410.8,537.7h1.4v1.4h-1.4zM456.2,565.1h1.4v1.4h-1.4zM258.2,560.5h1.4v1.4h-1.4zM388.4,551.4h1.4v1.4h-1.4zM235.3,571.3h1.4v1.4h-1.4zM402.2,556.0h1.4v1.4h-1.4zM189.5,595.0h1.4v1.4h-1.4zM156.6,584.1h1.4v1.4h-1.4zM379.6,573.5h1.4v1.4h-1.4zM269.2,557.1h1.4v1.4h-1.4zM240.8,553.7h1.4v1.4h-1.4zM328.7,542.1h1.4v1.4h-1.4zM353.7,580.1h1.4v1.4h-1.4zM273.7,577.0h1.4v1.4h-1.4zM199.4,589.9h1.4v1.4h-1.4zM185.3,574.1h1.4v1.4h-1.4zM171.2,594.5h1.4v1.4h-1.4zM181.8,587.0h1.4v1.4h-1.4zM368.4,570.0h1.4v1.4h-1.4zM357.0,576.9h1.4v1.4h-1.4zM406.8,551.3h1.4v1.4h-1.4zM132.1,601.2h1.4v1.4h-1.4zM300.6,584.4h1.4v1.4h-1.4zM145.4,560.8h1.4v1.4h-1.4zM441.9,557.9h1.4v1.4h-1.4zM356.1,560.6h1.4v1.4h-1.4zM406.7,568.6h1.4v1.4h-1.4zM440.4,559.3h1.4v1.4h-1.4zM257.8,541.7h1.4v1.4h-1.4zM201.1,564.6h1.4v1.4h-1.4zM439.5,553.0h1.4v1.4h-1.4zM276.2,578.3h1.4v1.4h-1.4zM328.0,569.0h1.4v1.4h-1.4zM285.0,573.5h1.4v1.4h-1.4zM144.0,597.0h1.4v1.4h-1.4zM427.6,558.6h1.4v1.4h-1.4zM444.4,519.3h1.4v1.4h-1.4zM214.8,577.2h1.4v1.4h-1.4zM316.0,579.3h1.4v1.4h-1.4zM452.1,536.4h1.4v1.4h-1.4zM380.8,531.7h1.4v1.4h-1.4zM211.3,588.7h1.4v1.4h-1.4zM181.6,571.0h1.4v1.4h-1.4zM165.4,595.7h1.4v1.4h-1.4zM164.6,574.2h1.4v1.4h-1.4zM178.2,587.2h1.4v1.4h-1.4zM268.0,579.9h1.4v1.4h-1.4zM170.6,556.9h1.4v1.4h-1.4zM443.1,535.1h1.4v1.4h-1.4zM144.3,579.4h1.4v1.4h-1.4zM449.0,561.9h1.4v1.4h-1.4zM448.6,563.2h1.4v1.4h-1.4zM424.4,551.9h1.4v1.4h-1.4zM282.5,577.3h1.4v1.4h-1.4zM374.2,556.4h1.4v1.4h-1.4zM287.3,558.8h1.4v1.4h-1.4zM197.5,536.0h1.4v1.4h-1.4zM317.1,543.5h1.4v1.4h-1.4zM165.3,576.7h1.4v1.4h-1.4zM328.8,546.3h1.4v1.4h-1.4zM358.8,563.6h1.4v1.4h-1.4zM242.6,586.8h1.4v1.4h-1.4zM354.3,576.0h1.4v1.4h-1.4zM337.6,539.7h1.4v1.4h-1.4zM288.6,554.1h1.4v1.4h-1.4zM393.5,571.4h1.4v1.4h-1.4zM306.0,563.9h1.4v1.4h-1.4zM389.2,546.6h1.4v1.4h-1.4zM414.1,558.6h1.4v1.4h-1.4zM164.2,589.8h1.4v1.4h-1.4zM213.0,588.8h1.4v1.4h-1.4zM428.2,514.3h1.4v1.4h-1.4zM196.6,572.7h1.4v1.4h-1.4zM161.3,591.9h1.4v1.4h-1.4zM323.9,563.9h1.4v1.4h-1.4zM139.3,601.0h1.4v1.4h-1.4zM141.6,582.4h1.4v1.4h-1.4zM451.7,557.8h1.4v1.4h-1.4zM333.3,571.8h1.4v1.4h-1.4zM347.2,556.4h1.4v1.4h-1.4zM388.8,574.7h1.4v1.4h-1.4zM241.2,583.9h1.4v1.4h-1.4zM306.8,546.1h1.4v1.4h-1.4zM329.2,558.3h1.4v1.4h-1.4zM410.9,548.5h1.4v1.4h-1.4zM344.9,563.2h1.4v1.4h-1.4zM310.2,549.1h1.4v1.4h-1.4z" fill="#3aa8b8" fill-opacity="0.7"/>
<path d="M131.0,599.3 L133.5,597.7 L136.0,599.8 L138.5,600.6 L141.0,598.9 L143.5,597.2 L146.0,598.2 L148.5,599.9 L151.0,599.3 L153.5,597.7 L156.0,596.3 L158.5,597.5 L161.0,598.1 L163.5,595.9 L166.0,593.5 L168.5,592.0 L171.0,590.3 L173.5,588.4 L176.0,586.7 L178.5,585.5 L181.0,585.7 L183.5,586.2 L186.0,585.5 L188.5,583.8 L191.0,581.8 L193.5,579.2 L196.0,577.3 L198.5,575.6 L201.0,571.2 L203.5,567.3 L206.0,567.0 L208.5,564.4 L211.0,559.5 L213.5,558.4 L216.0,557.4 L218.5,556.2 L221.0,558.2 L223.5,559.7 L226.0,559.2 L228.5,555.8 L231.0,553.0 L233.5,552.2 L236.0,549.8 L238.5,546.1 L241.0,542.0 L243.5,539.0 L246.0,538.4 L248.5,536.9 L251.0,534.6 L253.5,532.2 L256.0,528.1 L258.5,523.5 L261.0,521.2 L263.5,522.2 L266.0,521.4 L268.5,519.6 L271.0,520.0 L273.5,516.2 L276.0,509.9 L278.5,506.4 L281.0,501.9 L283.5,497.4 L286.0,495.8 L288.5,491.4 L291.0,485.4 L293.5,483.9 L296.0,484.7 L298.5,483.9 L301.0,480.6 L303.5,478.0 L306.0,476.6 L308.5,473.2 L311.0,468.0 L313.5,464.9 L316.0,465.8 L318.5,469.1 L321.0,470.8 L323.5,469.1 L326.0,466.2 L328.5,462.3 L331.0,458.6 L333.5,459.1 L336.0,459.2 L338.5,455.4 L341.0,452.0 L343.5,448.9 L346.0,448.5 L348.5,450.0 L351.0,448.7 L353.5,444.3 L356.0,441.2 L358.5,441.3 L361.0,441.4 L363.5,440.5 L366.0,440.4 L368.5,441.7 L371.0,443.2 L373.5,443.6 L376.0,443.7 L378.5,445.3 L381.0,448.3 L383.5,451.0 L386.0,449.7 L388.5,444.7 L391.0,443.1 L393.5,447.5 L396.0,454.4 L398.5,460.2 L401.0,462.5 L403.5,461.2 L406.0,459.4 L408.5,462.5 L411.0,469.3 L413.5,474.5 L416.0,475.1 L418.5,473.3 L421.0,473.4 L423.5,475.6 L426.0,479.1 L428.5,480.4 L431.0,479.6 L433.5,481.6 L436.0,485.3 L438.5,486.7 L441.0,488.1 L443.5,491.9 L446.0,494.5 L448.5,496.1 L451.0,499.2 L453.5,502.2 L456.0,504.3 L456.0,538.7 L453.5,535.4 L451.0,532.4 L448.5,528.8 L446.0,526.1 L443.5,525.7 L441.0,523.5 L438.5,520.7 L436.0,519.4 L433.5,519.1 L431.0,518.9 L428.5,515.3 L426.0,511.7 L423.5,512.5 L421.0,513.9 L418.5,513.0 L416.0,513.0 L413.5,512.5 L411.0,509.2 L408.5,505.5 L406.0,502.6 L403.5,501.1 L401.0,501.4 L398.5,500.7 L396.0,498.2 L393.5,495.4 L391.0,491.5 L388.5,489.1 L386.0,492.5 L383.5,497.8 L381.0,497.8 L378.5,494.0 L376.0,490.1 L373.5,487.2 L371.0,488.1 L368.5,489.5 L366.0,487.9 L363.5,486.8 L361.0,487.0 L358.5,486.6 L356.0,485.8 L353.5,487.0 L351.0,489.6 L348.5,491.4 L346.0,491.7 L343.5,492.3 L341.0,494.8 L338.5,495.7 L336.0,495.5 L333.5,495.8 L331.0,494.9 L328.5,496.1 L326.0,498.9 L323.5,501.0 L321.0,503.6 L318.5,502.9 L316.0,498.1 L313.5,494.5 L311.0,495.2 L308.5,498.4 L306.0,499.8 L303.5,502.8 L301.0,509.2 L298.5,514.1 L296.0,514.6 L293.5,513.0 L291.0,514.4 L288.5,517.9 L286.0,521.5 L283.5,525.4 L281.0,528.8 L278.5,532.0 L276.0,534.1 L273.5,536.2 L271.0,540.0 L268.5,543.2 L266.0,543.3 L263.5,540.5 L261.0,538.7 L258.5,540.5 L256.0,545.7 L253.5,549.9 L251.0,551.2 L248.5,553.9 L246.0,559.6 L243.5,563.2 L241.0,562.4 L238.5,564.1 L236.0,569.2 L233.5,572.1 L231.0,573.4 L228.5,574.5 L226.0,575.6 L223.5,576.2 L221.0,575.9 L218.5,577.5 L216.0,579.3 L213.5,578.2 L211.0,578.6 L208.5,581.8 L206.0,584.2 L203.5,585.7 L201.0,588.2 L198.5,591.2 L196.0,592.9 L193.5,593.5 L191.0,593.8 L188.5,593.2 L186.0,595.8 L183.5,601.0 L181.0,602.2 L178.5,602.0 L176.0,601.1 L173.5,600.0 L171.0,602.3 L168.5,606.0 L166.0,608.1 L163.5,607.4 L161.0,605.6 L158.5,605.3 L156.0,606.6 L153.5,607.2 L151.0,607.8 L148.5,608.1 L146.0,607.6 L143.5,606.5 L141.0,604.6 L138.5,604.2 L136.0,603.8 L133.5,604.8 L131.0,608.9 Z" fill="#c8c8c8" fill-opacity="0.55"/>
<path d="M131.0,589.5 L133.5,591.7 L136.0,593.0 L138.5,592.7 L141.0,592.7 L143.5,593.2 L146.0,591.9 L148.5,589.2 L151.0,588.6 L153.5,588.5 L156.0,587.4 L158.5,586.0 L161.0,583.1 L163.5,581.5 L166.0,582.8 L168.5,584.1 L171.0,586.8 L173.5,589.6 L176.0,589.8 L178.5,590.0 L181.0,592.2 L183.5,593.7 L186.0,591.0 L188.5,584.4 L191.0,578.7 L193.5,577.4 L196.0,579.1 L198.5,579.9 L201.0,578.7 L203.5,577.4 L206.0,576.1 L208.5,574.9 L211.0,573.6 L213.5,573.0 L216.0,572.8 L218.5,572.2 L221.0,573.9 L223.5,575.8 L226.0,576.1 L228.5,575.1 L231.0,572.0 L233.5,567.9 L236.0,564.5 L238.5,562.9 L241.0,561.8 L243.5,561.4 L246.0,560.8 L248.5,559.9 L251.0,559.8 L253.5,559.8 L256.0,559.5 L258.5,560.1 L261.0,560.8 L263.5,559.0 L266.0,557.2 L268.5,557.7 L271.0,557.0 L273.5,554.1 L276.0,551.1 L278.5,550.2 L281.0,554.2 L283.5,560.0 L286.0,562.5 L288.5,564.1 L291.0,565.9 L293.5,566.3 L296.0,565.3 L298.5,563.7 L301.0,562.8 L303.5,561.1 L306.0,558.9 L308.5,558.5 L311.0,559.2 L313.5,559.9 L316.0,560.4 L318.5,561.7 L321.0,563.1 L323.5,563.0 L326.0,561.9 L328.5,559.9 L331.0,558.3 L333.5,558.8 L336.0,558.5 L338.5,555.8 L341.0,554.5 L343.5,554.9 L346.0,553.7 L348.5,552.7 L351.0,553.1 L353.5,553.9 L356.0,555.4 L358.5,557.4 L361.0,558.1 L363.5,557.3 L366.0,555.4 L368.5,553.0 L371.0,552.7 L373.5,552.5 L376.0,551.4 L378.5,551.2 L381.0,552.3 L383.5,554.6 L386.0,556.2 L388.5,556.5 L391.0,557.9 L393.5,560.0 L396.0,560.9 L398.5,561.3 L401.0,560.8 L403.5,559.1 L406.0,557.7 L408.5,557.3 L411.0,557.6 L413.5,556.4 L416.0,556.2 L418.5,560.2 L421.0,562.4 L423.5,561.2 L426.0,561.1 L428.5,559.9 L431.0,558.1 L433.5,558.9 L436.0,558.3 L438.5,556.0 L441.0,554.8 L443.5,553.2 L446.0,550.3 L448.5,549.7 L451.0,551.9 L453.5,554.5 L456.0,556.6 L456.0,579.8 L453.5,577.7 L451.0,575.7 L448.5,573.7 L446.0,573.8 L443.5,574.9 L441.0,575.4 L438.5,575.8 L436.0,577.0 L433.5,578.9 L431.0,580.7 L428.5,583.4 L426.0,585.9 L423.5,586.3 L421.0,584.2 L418.5,580.7 L416.0,579.0 L413.5,578.3 L411.0,577.6 L408.5,578.0 L406.0,578.8 L403.5,579.3 L401.0,579.1 L398.5,579.9 L396.0,580.7 L393.5,580.0 L391.0,578.9 L388.5,578.2 L386.0,577.1 L383.5,574.1 L381.0,571.2 L378.5,571.2 L376.0,571.4 L373.5,569.6 L371.0,569.0 L368.5,571.3 L366.0,574.4 L363.5,576.8 L361.0,577.3 L358.5,574.7 L356.0,572.0 L353.5,571.1 L351.0,570.7 L348.5,570.4 L346.0,570.4 L343.5,571.5 L341.0,573.0 L338.5,574.2 L336.0,574.8 L333.5,574.3 L331.0,574.3 L328.5,575.8 L326.0,578.0 L323.5,580.4 L321.0,580.4 L318.5,577.9 L316.0,575.1 L313.5,574.3 L311.0,575.5 L308.5,575.4 L306.0,575.0 L303.5,576.8 L301.0,578.6 L298.5,578.5 L296.0,577.7 L293.5,578.1 L291.0,579.7 L288.5,580.5 L286.0,578.7 L283.5,573.3 L281.0,566.7 L278.5,564.6 L276.0,566.4 L273.5,569.1 L271.0,571.1 L268.5,570.6 L266.0,570.0 L263.5,570.0 L261.0,570.1 L258.5,571.6 L256.0,573.8 L253.5,574.6 L251.0,574.0 L248.5,572.9 L246.0,571.2 L243.5,569.8 L241.0,570.9 L238.5,574.7 L236.0,578.8 L233.5,581.9 L231.0,585.1 L228.5,588.3 L226.0,588.9 L223.5,588.3 L221.0,587.5 L218.5,585.3 L216.0,583.9 L213.5,584.1 L211.0,584.0 L208.5,584.0 L206.0,585.1 L203.5,587.3 L201.0,590.0 L198.5,591.7 L196.0,591.0 L193.5,588.6 L191.0,587.9 L188.5,591.7 L186.0,598.3 L183.5,601.3 L181.0,601.5 L178.5,602.1 L176.0,600.5 L173.5,597.7 L171.0,595.9 L168.5,592.6 L166.0,588.1 L163.5,587.3 L161.0,590.0 L158.5,591.1 L156.0,591.8 L153.5,594.6 L151.0,596.7 L148.5,597.3 L146.0,596.4 L143.5,596.9 L141.0,600.1 L138.5,602.0 L136.0,601.0 L133.5,599.7 L131.0,599.8 Z" fill="#c8c8c8" fill-opacity="0.55"/>
<path d="M130.9,596.4 C132.6,596.6 137.8,598.6 140.9,597.9 C144.0,597.2 146.3,593.5 149.4,592.0 C152.5,590.5 156.7,590.0 159.4,588.6 C162.2,587.2 164.0,583.1 165.9,583.6 C167.8,584.1 169.1,589.3 170.9,591.4 C172.7,593.5 174.8,595.2 176.6,596.4 C178.4,597.5 179.9,598.6 181.6,598.3 C183.3,597.9 185.3,597.1 186.6,594.3 C187.9,591.5 188.4,583.8 189.4,581.4 C190.4,579.0 191.4,579.3 192.3,580.0 C193.2,580.7 193.6,584.9 195.0,585.7 C196.4,586.5 198.5,586.3 200.9,585.0 C203.3,583.7 207.1,579.2 209.4,577.9 C211.8,576.6 213.1,576.6 215.0,577.0 C216.9,577.4 219.0,579.0 220.9,580.0 C222.8,581.0 224.9,583.1 226.6,582.9 C228.3,582.7 228.6,581.4 230.9,578.6 C233.2,575.8 237.6,568.6 240.5,566.3 C243.4,564.0 245.3,565.0 248.4,565.0 C251.5,565.0 255.8,566.5 258.9,566.3 C262.0,566.1 264.6,563.9 266.8,563.7 C269.0,563.5 270.1,566.5 272.1,565.0 C274.1,563.5 276.7,553.8 278.7,554.5 C280.7,555.2 281.9,565.9 283.9,569.0 C285.9,572.1 287.9,572.7 290.5,572.9 C293.1,573.1 297.1,571.4 299.7,570.3 C302.3,569.2 303.4,566.5 306.3,566.3 C309.2,566.1 313.7,568.1 316.8,569.0 C319.9,569.9 322.5,572.1 324.7,571.6 C326.9,571.1 328.1,567.1 330.0,566.3 C331.9,565.4 333.8,566.7 336.2,566.5 C338.6,566.3 341.5,566.0 344.2,564.9 C346.9,563.8 349.6,559.5 352.3,560.0 C355.0,560.5 357.2,568.1 360.4,568.1 C363.6,568.1 367.9,560.5 371.7,560.0 C375.5,559.5 378.7,563.0 383.0,564.9 C387.3,566.8 393.8,571.1 397.6,571.4 C401.4,571.7 403.0,567.0 405.7,566.5 C408.4,566.0 410.9,566.8 413.8,568.1 C416.7,569.5 419.9,574.6 422.8,574.6 C425.8,574.6 427.6,570.2 431.5,568.1 C435.4,566.0 441.9,562.0 446.1,561.7 C450.3,561.4 454.8,565.7 456.5,566.5" fill="none" stroke="#2ba3b4" stroke-width="4.6" stroke-linejoin="round" stroke-linecap="round"/>
<path d="M130.9,604.3 C132.6,603.9 137.8,602.1 140.9,602.1 C144.0,602.1 147.3,604.2 149.4,604.3 C151.5,604.4 151.7,602.8 153.7,602.9 C155.7,603.0 159.4,605.8 161.6,605.0 C163.8,604.2 164.6,599.7 166.6,597.9 C168.6,596.1 171.1,595.4 173.7,594.3 C176.3,593.2 179.7,592.3 182.3,591.4 C184.9,590.5 187.5,589.1 189.4,588.6 C191.3,588.1 191.8,590.0 193.7,588.6 C195.6,587.2 198.3,582.9 200.9,580.0 C203.5,577.1 206.8,573.2 209.4,571.4 C212.0,569.6 214.0,570.0 216.6,569.3 C219.2,568.6 222.6,568.0 225.0,567.1 C227.4,566.2 229.0,565.3 230.9,563.6 C232.8,561.9 235.0,558.8 236.6,557.1 C238.2,555.4 239.0,554.3 240.5,553.2 C242.0,552.1 243.8,552.3 245.8,550.5 C247.8,548.7 250.0,546.1 252.4,542.6 C254.8,539.1 257.9,531.5 260.3,529.5 C262.7,527.5 264.8,531.0 266.8,530.8 C268.8,530.6 269.7,531.1 272.1,528.2 C274.5,525.4 278.0,518.8 281.3,513.7 C284.6,508.7 289.0,500.3 291.8,497.9 C294.6,495.5 296.4,500.7 298.4,499.2 C300.4,497.7 301.9,490.9 303.7,488.7 C305.4,486.5 307.4,488.2 308.9,486.0 C310.4,483.8 310.9,475.1 312.9,475.5 C314.9,475.9 318.2,488.0 320.8,488.7 C323.4,489.4 326.4,481.1 328.7,479.5 C331.0,477.9 332.2,481.1 334.5,479.2 C336.8,477.3 340.2,469.2 342.6,467.9 C345.0,466.5 346.4,472.2 349.1,471.1 C351.8,470.0 355.8,462.2 358.8,461.4 C361.8,460.6 364.8,465.8 366.9,466.3 C369.0,466.9 369.8,464.2 371.7,464.7 C373.6,465.2 376.3,467.6 378.2,469.5 C380.1,471.4 380.9,477.1 383.0,476.0 C385.1,474.9 388.4,461.6 391.1,463.0 C393.8,464.4 396.8,480.9 399.2,484.1 C401.6,487.3 403.5,481.1 405.7,482.4 C407.9,483.7 409.1,490.2 412.1,492.1 C415.1,494.0 420.3,493.0 423.5,493.8 C426.7,494.6 428.8,495.4 431.5,497.0 C434.2,498.6 436.9,500.3 439.6,503.5 C442.3,506.7 445.0,513.7 447.7,516.4 C450.4,519.1 454.4,519.1 455.8,519.6" fill="none" stroke="#e0694e" stroke-width="4.6" stroke-linejoin="round" stroke-linecap="round"/>
<line x1="133" y1="610.5" x2="133" y2="553" stroke="#111" stroke-width="1.9" stroke-dasharray="11.5,6.8"/>
<line x1="228.3" y1="610.5" x2="228.3" y2="527.8" stroke="#111" stroke-width="1.9" stroke-dasharray="11.5,6.8"/>
<line x1="325.8" y1="610.5" x2="325.8" y2="424.8" stroke="#111" stroke-width="1.9" stroke-dasharray="11.5,6.8"/>
<line x1="424" y1="610.5" x2="424" y2="453" stroke="#111" stroke-width="1.9" stroke-dasharray="11.5,6.8"/>
</g>
<text x="133.5" y="560.7" font-size="20.5" letter-spacing="-0.5" fill="#231f20">n.s.</text>
<text x="211.5" y="522.7" font-size="20.5" letter-spacing="-0.5" fill="#231f20">n.s.</text>
<text x="316.8" y="428.5" font-size="19" fill="#231f20">**</text>
<text x="415.8" y="446" font-size="19" fill="#231f20">**</text>
<rect x="130.5" y="366.5" width="326.2" height="243.2" fill="none" stroke="#000" stroke-width="2.1"/>
<path d="M130.5,609.7 v-3.8 M130.5,366.5 v3.8 M163.1,609.7 v-3.8 M163.1,366.5 v3.8 M195.7,609.7 v-3.8 M195.7,366.5 v3.8 M228.4,609.7 v-3.8 M228.4,366.5 v3.8 M261.0,609.7 v-3.8 M261.0,366.5 v3.8 M293.6,609.7 v-3.8 M293.6,366.5 v3.8 M326.2,609.7 v-3.8 M326.2,366.5 v3.8 M358.8,609.7 v-3.8 M358.8,366.5 v3.8 M391.5,609.7 v-3.8 M391.5,366.5 v3.8 M424.1,609.7 v-3.8 M424.1,366.5 v3.8 M456.7,609.7 v-3.8 M456.7,366.5 v3.8 M130.5,609.3 h3.8 M456.7,609.3 h-3.8 M130.5,572.0 h3.8 M456.7,572.0 h-3.8 M130.5,534.7 h3.8 M456.7,534.7 h-3.8 M130.5,497.3 h3.8 M456.7,497.3 h-3.8 M130.5,460.0 h3.8 M456.7,460.0 h-3.8 M130.5,422.7 h3.8 M456.7,422.7 h-3.8 M130.5,385.4 h3.8 M456.7,385.4 h-3.8" stroke="#000" stroke-width="1.8" fill="none"/>
<text x="130.5" y="631.5" font-size="17.3" text-anchor="middle" fill="#231f20">0</text>
<text x="163.1" y="631.5" font-size="17.3" text-anchor="middle" fill="#231f20">2</text>
<text x="195.7" y="631.5" font-size="17.3" text-anchor="middle" fill="#231f20">4</text>
<text x="228.4" y="631.5" font-size="17.3" text-anchor="middle" fill="#231f20">6</text>
<text x="261.0" y="631.5" font-size="17.3" text-anchor="middle" fill="#231f20">8</text>
<text x="293.6" y="631.5" font-size="17.3" text-anchor="middle" fill="#231f20">10</text>
<text x="326.2" y="631.5" font-size="17.3" text-anchor="middle" fill="#231f20">12</text>
<text x="358.8" y="631.5" font-size="17.3" text-anchor="middle" fill="#231f20">14</text>
<text x="391.5" y="631.5" font-size="17.3" text-anchor="middle" fill="#231f20">16</text>
<text x="424.1" y="631.5" font-size="17.3" text-anchor="middle" fill="#231f20">18</text>
<text x="456.7" y="631.5" font-size="17.3" text-anchor="middle" fill="#231f20">20</text>
<text x="122.5" y="615.3" font-size="17.3" text-anchor="end" fill="#231f20">0</text>
<text x="122.5" y="578.0" font-size="17.3" text-anchor="end" fill="#231f20">100</text>
<text x="122.5" y="540.7" font-size="17.3" text-anchor="end" fill="#231f20">200</text>
<text x="122.5" y="503.3" font-size="17.3" text-anchor="end" fill="#231f20">300</text>
<text x="122.5" y="466.0" font-size="17.3" text-anchor="end" fill="#231f20">400</text>
<text x="122.5" y="428.7" font-size="17.3" text-anchor="end" fill="#231f20">500</text>
<text x="122.5" y="391.4" font-size="17.3" text-anchor="end" fill="#231f20">600</text>
<text x="299" y="654.2" font-size="18.5" text-anchor="middle" fill="#231f20">Time (h)</text>
<text transform="translate(56.8,643) rotate(-90)" font-size="18.5" fill="#231f20">Density of T cells on cancer clusters</text>
<text transform="translate(78,470.5) rotate(-90)" font-size="18.5" text-anchor="middle" fill="#231f20">(cells/mm<tspan dy="-7" font-size="13">2</tspan><tspan dy="7">)</tspan></text>
<rect x="138.2" y="374.7" width="64.7" height="33.5" fill="#fff" stroke="#000" stroke-width="1.6"/>
<line x1="141.1" y1="383.7" x2="169.7" y2="383.7" stroke="#2ba3b4" stroke-width="4.5"/>
<line x1="141.1" y1="399.2" x2="169.7" y2="399.2" stroke="#e0694e" stroke-width="4.5"/>
<text x="171.8" y="388.2" font-size="12.6" fill="#231f20">WT</text>
<text x="171.8" y="404.2" font-size="12.6" fill="#231f20">OVA</text>
<text x="455" y="349.3" font-size="20.5" font-weight="bold" fill="#000">D</text>
<defs><clipPath id="dlclip"><rect x="537.2" y="363.2" width="327.29999999999995" height="244.5"/></clipPath></defs>
<rect x="537.2" y="363.2" width="327.29999999999995" height="242.3" fill="none" stroke="#000" stroke-width="2.1"/>
<g clip-path="url(#dlclip)">
<polyline points="537.8,365.3 593.3,410.5 629.0,434.9 651.1,448.1 670.6,491.2 687.3,491.2 698.4,466.2 709.6,513.5 720.1,491.8 728.5,517.6 744.5,608.0 751.5,608.0 756.9,517.6 762.4,560.8" fill="none" stroke="#2ba3b4" stroke-width="4.5" stroke-linejoin="miter" stroke-miterlimit="3"/>
<polyline points="787.5,605.3 798.6,605.3" fill="none" stroke="#2ba3b4" stroke-width="4.5" stroke-linejoin="miter" stroke-miterlimit="3"/>
<polyline points="537.8,363.5 595.2,369.1 628.1,440.6 652.5,440.6 672.0,484.3 687.3,484.3 698.4,542.7 711.0,517.6 720.7,587.2 728.5,587.2" fill="none" stroke="#e0694e" stroke-width="4.5" stroke-linejoin="miter" stroke-miterlimit="3"/>
<polyline points="744.3,584.4 751.3,517.6" fill="none" stroke="#e0694e" stroke-width="4.5" stroke-linejoin="miter" stroke-miterlimit="3"/>
</g>
<path d="M537.2,605.5 v-4.2 M537.2,363.2 v4.2 M571.1,605.5 v-2.6 M571.1,363.2 v2.6 M595.2,605.5 v-2.6 M595.2,363.2 v2.6 M613.9,605.5 v-2.6 M613.9,363.2 v2.6 M629.1,605.5 v-2.6 M629.1,363.2 v2.6 M642.0,605.5 v-2.6 M642.0,363.2 v2.6 M653.2,605.5 v-4.2 M653.2,363.2 v4.2 M663.0,605.5 v-2.6 M663.0,363.2 v2.6 M671.9,605.5 v-2.6 M671.9,363.2 v2.6 M729.8,605.5 v-4.2 M729.8,363.2 v4.2 M763.8,605.5 v-2.6 M763.8,363.2 v2.6 M787.8,605.5 v-4.2 M787.8,363.2 v4.2 M806.5,605.5 v-2.6 M806.5,363.2 v2.6 M821.8,605.5 v-4.2 M821.8,363.2 v4.2 M834.7,605.5 v-2.6 M834.7,363.2 v2.6 M845.8,605.5 v-2.6 M845.8,363.2 v2.6 M855.7,605.5 v-2.6 M855.7,363.2 v2.6 M864.5,605.5 v-4.2 M864.5,363.2 v4.2 M537.2,602.7 h2.6 M864.5,602.7 h-2.6 M537.2,594.3 h2.6 M864.5,594.3 h-2.6 M537.2,586.9 h2.6 M864.5,586.9 h-2.6 M537.2,580.2 h4.2 M864.5,580.2 h-4.2 M537.2,536.4 h2.6 M864.5,536.4 h-2.6 M537.2,510.8 h2.6 M864.5,510.8 h-2.6 M537.2,492.6 h2.6 M864.5,492.6 h-2.6 M537.2,478.5 h2.6 M864.5,478.5 h-2.6 M537.2,467.0 h2.6 M864.5,467.0 h-2.6 M537.2,457.2 h2.6 M864.5,457.2 h-2.6 M537.2,448.8 h2.6 M864.5,448.8 h-2.6 M537.2,441.4 h2.6 M864.5,441.4 h-2.6 M537.2,434.7 h4.2 M864.5,434.7 h-4.2 M537.2,390.9 h2.6 M864.5,390.9 h-2.6 M537.2,365.3 h2.6 M864.5,365.3 h-2.6" stroke="#000" stroke-width="1.8" fill="none"/>
<text x="537.2" y="629.3" font-size="17.3" text-anchor="middle" fill="#231f20">2</text>
<text x="653.2" y="629.3" font-size="17.3" text-anchor="middle" fill="#231f20">8</text>
<text x="729.8" y="629.3" font-size="17.3" text-anchor="middle" fill="#231f20">20</text>
<text x="787.8" y="629.3" font-size="17.3" text-anchor="middle" fill="#231f20">40</text>
<text x="821.8" y="629.3" font-size="17.3" text-anchor="middle" fill="#231f20">60</text>
<text x="864.5" y="629.3" font-size="17.3" text-anchor="middle" fill="#231f20">100</text>
<text x="500.20000000000005" y="444.2" font-size="17.5" fill="#231f20">10<tspan dy="-7.5" font-size="12.5">-1</tspan></text>
<text x="500.20000000000005" y="589.7" font-size="17.5" fill="#231f20">10<tspan dy="-7.5" font-size="12.5">-2</tspan></text>
<text x="700.7" y="356.8" font-size="20.2" text-anchor="middle" fill="#231f20">Series 1, 0~6 h</text>
<text x="703.85" y="655.8" font-size="20" text-anchor="middle" fill="#231f20">Dwell time on cancer clusters (min)</text>
<text x="638.3" y="390.7" font-size="16.5" font-style="italic" fill="#231f20">D = 0.15</text>
<text x="638.3" y="407.8" font-size="16.5" font-style="italic" fill="#231f20">p = 9.64E-02 (n.s.)</text>
<rect x="783.8" y="372.5" width="73.5" height="44" fill="#fff" stroke="#000" stroke-width="1.7"/>
<line x1="787.0999999999999" y1="384.2" x2="817.1999999999999" y2="384.2" stroke="#2ba3b4" stroke-width="4.5"/>
<line x1="787.0999999999999" y1="404.9" x2="817.1999999999999" y2="404.9" stroke="#e0694e" stroke-width="4.5"/>
<text x="819.4" y="389.8" font-size="16" fill="#231f20">WT</text>
<text x="819.4" y="410.5" font-size="16" fill="#231f20">OVA</text>
<text transform="translate(491.6,483.5) rotate(-90)" font-size="19.7" text-anchor="middle" fill="#231f20">Probability</text>
<defs><clipPath id="drclip"><rect x="927.5" y="364.8" width="327.0" height="242.69999999999993"/></clipPath></defs>
<rect x="927.5" y="364.8" width="327.0" height="240.49999999999994" fill="none" stroke="#000" stroke-width="2.1"/>
<g clip-path="url(#drclip)">
<polyline points="928.5,364.3 984.9,381.4 1018.7,428.8 1043.5,438.7 1062.0,472.8 1076.7,472.8" fill="none" stroke="#2ba3b4" stroke-width="4.5" stroke-linejoin="miter" stroke-miterlimit="3"/>
<polyline points="1100.2,513.3 1110.4,534.4 1119.2,534.4 1126.6,575.5 1133.9,575.5 1141.2,512.4 1153.0,575.5 1158.8,575.5" fill="none" stroke="#2ba3b4" stroke-width="4.5" stroke-linejoin="miter" stroke-miterlimit="3"/>
<polyline points="928.5,380.1 984.9,414.6 1019.9,437.8 1042.4,478.9 1062.0,474.3 1076.7,494.8 1088.4,503.6 1100.2,543.2 1110.4,543.2 1118.6,480.2 1126.6,503.6 1147.1,503.6 1153.0,565.2 1158.8,544.7" fill="none" stroke="#e0694e" stroke-width="4.5" stroke-linejoin="miter" stroke-miterlimit="3"/>
<polyline points="1167.4,514.5 1172.5,608.0 1175.5,608.0" fill="none" stroke="#e0694e" stroke-width="4.5" stroke-linejoin="miter" stroke-miterlimit="3"/>
<polyline points="1191.8,608.0 1195.2,566.3" fill="none" stroke="#e0694e" stroke-width="4.5" stroke-linejoin="miter" stroke-miterlimit="3"/>
<polyline points="1200.9,608.0 1204.6,541.9 1209.0,608.0" fill="none" stroke="#e0694e" stroke-width="4.5" stroke-linejoin="miter" stroke-miterlimit="3"/>
<polyline points="1216.0,605.0 1220.0,605.0" fill="none" stroke="#e0694e" stroke-width="4.5" stroke-linejoin="miter" stroke-miterlimit="3"/>
<polyline points="1235.4,564.3 1238.5,608.0 1240.5,525.7 1243.6,608.0" fill="none" stroke="#e0694e" stroke-width="4.5" stroke-linejoin="miter" stroke-miterlimit="3"/>
<polyline points="1246.6,566.3 1249.6,608.0" fill="none" stroke="#e0694e" stroke-width="4.5" stroke-linejoin="miter" stroke-miterlimit="3"/>
</g>
<path d="M927.5,605.3 v-4.2 M927.5,364.8 v4.2 M961.4,605.3 v-2.6 M961.4,364.8 v2.6 M985.4,605.3 v-2.6 M985.4,364.8 v2.6 M1004.1,605.3 v-2.6 M1004.1,364.8 v2.6 M1019.3,605.3 v-2.6 M1019.3,364.8 v2.6 M1032.2,605.3 v-2.6 M1032.2,364.8 v2.6 M1043.4,605.3 v-4.2 M1043.4,364.8 v4.2 M1053.2,605.3 v-2.6 M1053.2,364.8 v2.6 M1062.0,605.3 v-2.6 M1062.0,364.8 v2.6 M1120.0,605.3 v-4.2 M1120.0,364.8 v4.2 M1153.9,605.3 v-2.6 M1153.9,364.8 v2.6 M1177.9,605.3 v-4.2 M1177.9,364.8 v4.2 M1196.6,605.3 v-2.6 M1196.6,364.8 v2.6 M1211.8,605.3 v-4.2 M1211.8,364.8 v4.2 M1224.7,605.3 v-2.6 M1224.7,364.8 v2.6 M1235.8,605.3 v-2.6 M1235.8,364.8 v2.6 M1245.7,605.3 v-2.6 M1245.7,364.8 v2.6 M1254.5,605.3 v-4.2 M1254.5,364.8 v4.2 M927.5,598.6 h2.6 M1254.5,598.6 h-2.6 M927.5,588.3 h2.6 M1254.5,588.3 h-2.6 M927.5,579.6 h2.6 M1254.5,579.6 h-2.6 M927.5,572.0 h2.6 M1254.5,572.0 h-2.6 M927.5,565.4 h2.6 M1254.5,565.4 h-2.6 M927.5,559.4 h4.2 M1254.5,559.4 h-4.2 M927.5,520.2 h2.6 M1254.5,520.2 h-2.6 M927.5,497.3 h2.6 M1254.5,497.3 h-2.6 M927.5,481.1 h2.6 M1254.5,481.1 h-2.6 M927.5,468.5 h2.6 M1254.5,468.5 h-2.6 M927.5,458.2 h2.6 M1254.5,458.2 h-2.6 M927.5,449.5 h2.6 M1254.5,449.5 h-2.6 M927.5,441.9 h2.6 M1254.5,441.9 h-2.6 M927.5,435.3 h2.6 M1254.5,435.3 h-2.6 M927.5,429.3 h4.2 M1254.5,429.3 h-4.2 M927.5,390.1 h2.6 M1254.5,390.1 h-2.6 M927.5,367.2 h2.6 M1254.5,367.2 h-2.6" stroke="#000" stroke-width="1.8" fill="none"/>
<text x="927.5" y="629.3" font-size="17.3" text-anchor="middle" fill="#231f20">2</text>
<text x="1043.4" y="629.3" font-size="17.3" text-anchor="middle" fill="#231f20">8</text>
<text x="1120.0" y="629.3" font-size="17.3" text-anchor="middle" fill="#231f20">20</text>
<text x="1177.9" y="629.3" font-size="17.3" text-anchor="middle" fill="#231f20">40</text>
<text x="1211.8" y="629.3" font-size="17.3" text-anchor="middle" fill="#231f20">60</text>
<text x="1254.5" y="629.3" font-size="17.3" text-anchor="middle" fill="#231f20">100</text>
<text x="890.5" y="438.8" font-size="17.5" fill="#231f20">10<tspan dy="-7.5" font-size="12.5">-1</tspan></text>
<text x="890.5" y="568.9" font-size="17.5" fill="#231f20">10<tspan dy="-7.5" font-size="12.5">-2</tspan></text>
<text x="1090.5" y="356.8" font-size="20.2" text-anchor="middle" fill="#231f20">Series 1, 6~12 h</text>
<text x="1094.0" y="655.8" font-size="20" text-anchor="middle" fill="#231f20">Dwell time on cancer clusters (min)</text>
<text x="1032.8" y="390.7" font-size="16.5" font-style="italic" fill="#231f20">D = 0.25</text>
<text x="1032.8" y="407.8" font-size="16.5" font-style="italic" fill="#231f20">p = 6.16E-05 (***)</text>
<rect x="1173.3" y="374.1" width="73.5" height="44" fill="#fff" stroke="#000" stroke-width="1.7"/>
<line x1="1176.6" y1="385.8" x2="1206.7" y2="385.8" stroke="#2ba3b4" stroke-width="4.5"/>
<line x1="1176.6" y1="406.5" x2="1206.7" y2="406.5" stroke="#e0694e" stroke-width="4.5"/>
<text x="1208.8999999999999" y="391.40000000000003" font-size="16" fill="#231f20">WT</text>
<text x="1208.8999999999999" y="412.1" font-size="16" fill="#231f20">OVA</text>
</svg>
</body></html>
